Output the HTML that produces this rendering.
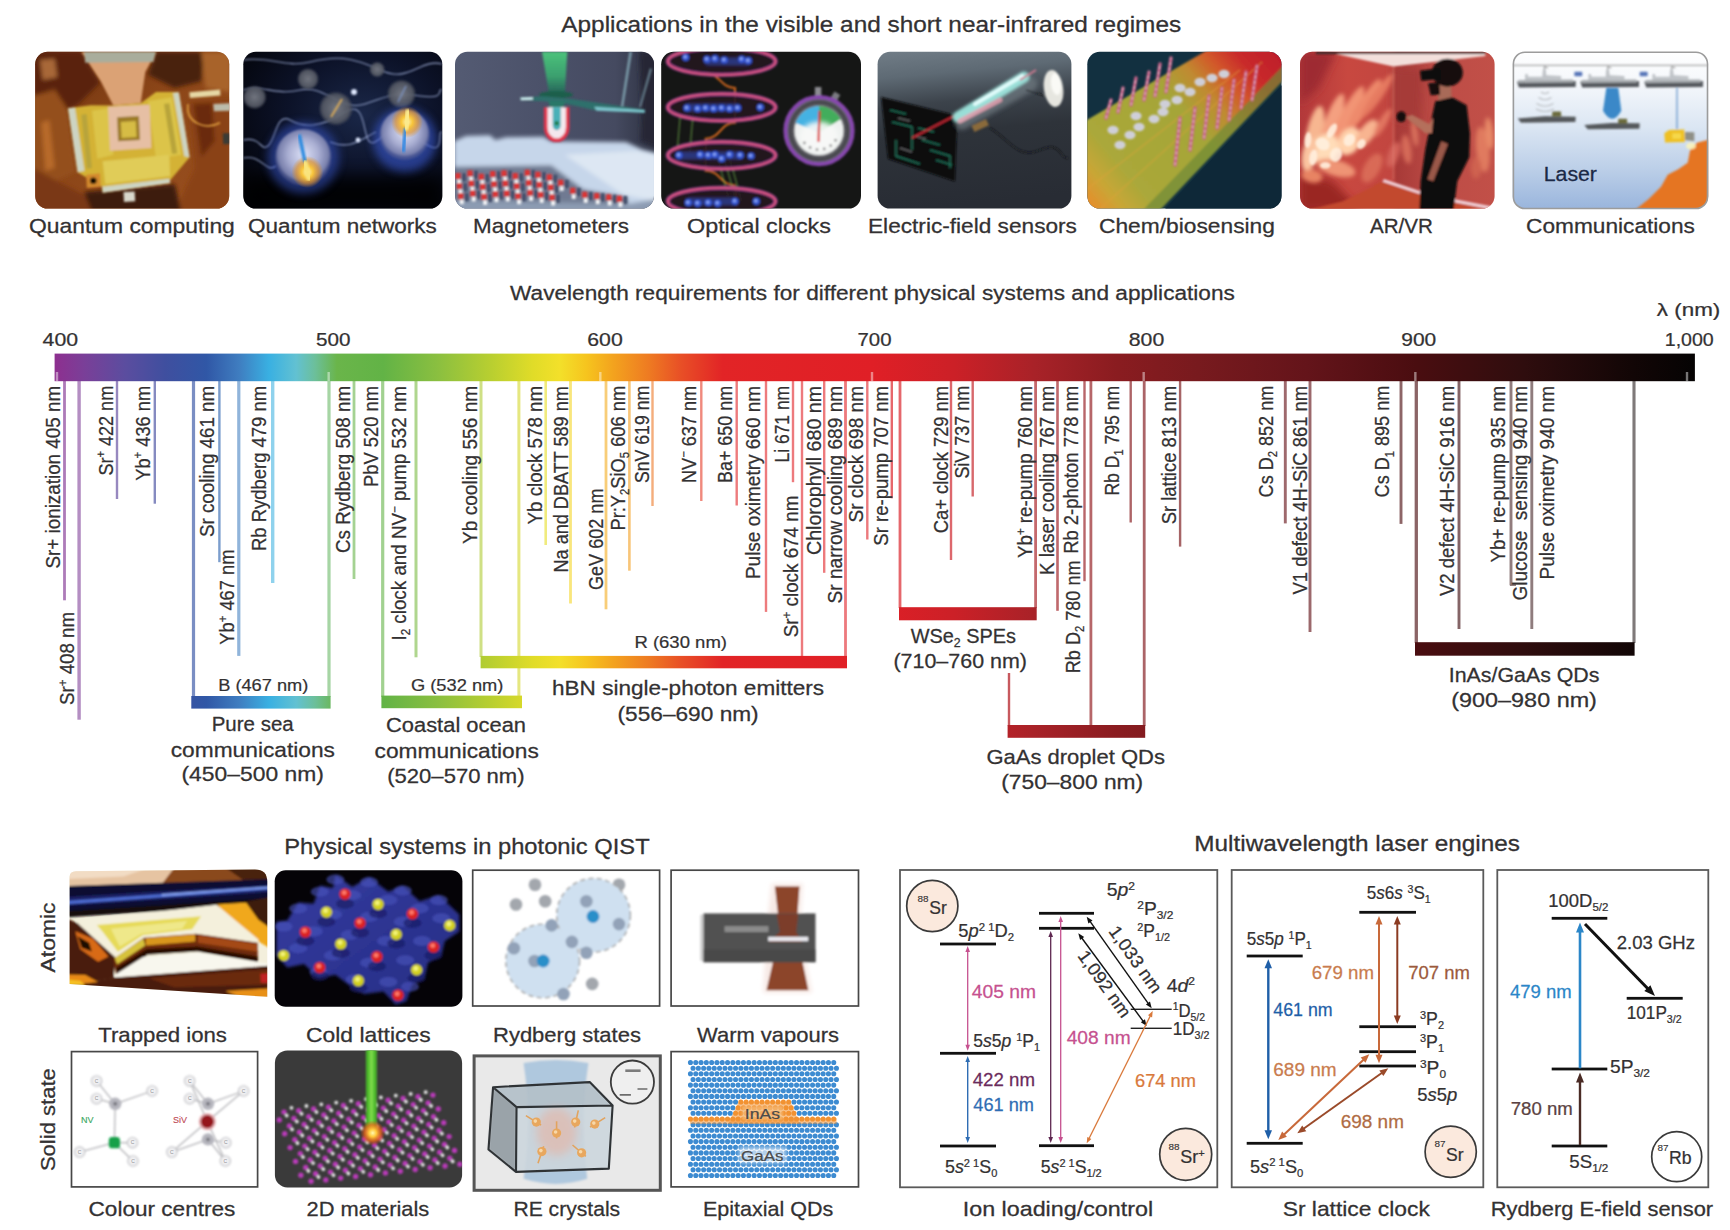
<!DOCTYPE html>
<html lang="en"><head><meta charset="utf-8"><title>Photonic QIST wavelength requirements</title>
<style>
html,body{margin:0;padding:0;background:#fff;}
body{width:1730px;height:1230px;overflow:hidden;}
svg{display:block;}
svg text{font-family:"Liberation Sans", Arial, sans-serif;}
</style></head><body>
<svg width="1730" height="1230" viewBox="0 0 1730 1230">
<defs>
<clipPath id="ic0"><rect x="35.2" y="51.8" width="194.0" height="156.8" rx="12.5"/></clipPath>
<clipPath id="ic1"><rect x="243.3" y="51.8" width="199.0" height="156.8" rx="12.5"/></clipPath>
<clipPath id="ic2"><rect x="455" y="51.8" width="199.0" height="156.8" rx="12.5"/></clipPath>
<clipPath id="ic3"><rect x="661.2" y="51.8" width="199.8" height="156.8" rx="12.5"/></clipPath>
<clipPath id="ic4"><rect x="877.6" y="51.8" width="193.8" height="156.8" rx="12.5"/></clipPath>
<clipPath id="ic5"><rect x="1087.3" y="51.8" width="194.2" height="156.8" rx="12.5"/></clipPath>
<clipPath id="ic6"><rect x="1300" y="51.8" width="194.6" height="156.8" rx="12.5"/></clipPath>
<clipPath id="ic7"><rect x="1512.7" y="51.8" width="195.5" height="156.8" rx="12.5"/></clipPath>
<filter id="b1" x="-20%" y="-20%" width="140%" height="140%"><feGaussianBlur stdDeviation="1"/></filter>
<filter id="b2" x="-30%" y="-30%" width="160%" height="160%"><feGaussianBlur stdDeviation="2.2"/></filter>
<filter id="b4" x="-50%" y="-50%" width="200%" height="200%"><feGaussianBlur stdDeviation="4.5"/></filter>
<filter id="b8" x="-50%" y="-50%" width="200%" height="200%"><feGaussianBlur stdDeviation="8"/></filter>
<linearGradient id="g0" x1="0" y1="0" x2="1" y2="1"><stop offset="0" stop-color="#6a300e"/><stop offset="0.45" stop-color="#8c4618"/><stop offset="1" stop-color="#9a5020"/></linearGradient>
<radialGradient id="g1" cx="0.6" cy="0.4" r="0.75"><stop offset="0" stop-color="#1a2748"/><stop offset="0.5" stop-color="#0c1228"/><stop offset="1" stop-color="#030409"/></radialGradient>
<radialGradient id="sph" cx="0.5" cy="0.45" r="0.5"><stop offset="0" stop-color="#dde1f6"/><stop offset="0.55" stop-color="#a9aed2"/><stop offset="0.9" stop-color="#8086b0" stop-opacity="0.92"/><stop offset="1" stop-color="#646a98" stop-opacity="0.5"/></radialGradient>
<radialGradient id="glw" cx="0.5" cy="0.5" r="0.5"><stop offset="0" stop-color="#fff6b8"/><stop offset="0.35" stop-color="#f8c63c"/><stop offset="0.7" stop-color="#e8921a" stop-opacity="0.6"/><stop offset="1" stop-color="#e08a10" stop-opacity="0"/></radialGradient>
<radialGradient id="gsm" cx="0.5" cy="0.5" r="0.5"><stop offset="0" stop-color="#71757f"/><stop offset="0.8" stop-color="#575b66" stop-opacity="0.9"/><stop offset="1" stop-color="#454956" stop-opacity="0.5"/></radialGradient>
<linearGradient id="g2" x1="0" y1="0" x2="1" y2="0"><stop offset="0" stop-color="#545b73"/><stop offset="0.5" stop-color="#4a5068"/><stop offset="0.8" stop-color="#454a60"/><stop offset="1" stop-color="#2c3040"/></linearGradient>
<linearGradient id="g2b" x1="0" y1="0" x2="0" y2="1"><stop offset="0" stop-color="#4cc47c"/><stop offset="0.6" stop-color="#3aa870" stop-opacity="0.9"/><stop offset="1" stop-color="#1f6a58" stop-opacity="0.85"/></linearGradient>
<linearGradient id="g4" x1="0" y1="0" x2="0.12" y2="1"><stop offset="0" stop-color="#727e88"/><stop offset="0.18" stop-color="#5e6a74"/><stop offset="0.36" stop-color="#3c434b"/><stop offset="0.55" stop-color="#2e333a"/><stop offset="1" stop-color="#282c34"/></linearGradient>
<linearGradient id="g5" gradientUnits="userSpaceOnUse" x1="1095" y1="208" x2="1275" y2="55"><stop offset="0" stop-color="#e3902c"/><stop offset="0.09" stop-color="#c9a636"/><stop offset="0.2" stop-color="#aaa83a"/><stop offset="0.55" stop-color="#a5a538"/><stop offset="0.68" stop-color="#c08a30"/><stop offset="0.78" stop-color="#d2592a"/><stop offset="0.88" stop-color="#c92a2c"/><stop offset="1" stop-color="#bf1f2a"/></linearGradient>
<linearGradient id="g6" x1="0" y1="0" x2="1" y2="0"><stop offset="0" stop-color="#b2383a"/><stop offset="0.25" stop-color="#c84840"/><stop offset="0.47" stop-color="#c24640"/><stop offset="0.5" stop-color="#a83a38"/><stop offset="0.7" stop-color="#bd4c46"/><stop offset="1" stop-color="#c25048"/></linearGradient>
<linearGradient id="g7" x1="0" y1="0" x2="0" y2="1"><stop offset="0" stop-color="#ffffff"/><stop offset="0.22" stop-color="#f4f7fb"/><stop offset="0.48" stop-color="#dbe6f3"/><stop offset="0.74" stop-color="#bccfe8"/><stop offset="1" stop-color="#98b4dc"/></linearGradient>
<linearGradient id="spec" gradientUnits="userSpaceOnUse" x1="0" y1="0" x2="1730" y2="0"><stop offset="0.03138" stop-color="#8e2f8f"/><stop offset="0.04865" stop-color="#7a3f98"/><stop offset="0.07221" stop-color="#5b4d9f"/><stop offset="0.09576" stop-color="#3f4f9f"/><stop offset="0.11932" stop-color="#3057a6"/><stop offset="0.13816" stop-color="#3f7dc0"/><stop offset="0.15544" stop-color="#39b0e2"/><stop offset="0.17114" stop-color="#62c1d2"/><stop offset="0.18213" stop-color="#6cbf9a"/><stop offset="0.19469" stop-color="#6ab54a"/><stop offset="0.22139" stop-color="#62b346"/><stop offset="0.25280" stop-color="#8abf40"/><stop offset="0.28420" stop-color="#b9cf30"/><stop offset="0.30776" stop-color="#e0dc28"/><stop offset="0.32346" stop-color="#f3e02a"/><stop offset="0.33917" stop-color="#f6c41e"/><stop offset="0.35487" stop-color="#f3a21e"/><stop offset="0.37528" stop-color="#ee7a22"/><stop offset="0.39413" stop-color="#e84e26"/><stop offset="0.41768" stop-color="#e22426"/><stop offset="0.50405" stop-color="#e01f26"/><stop offset="0.55116" stop-color="#cc2027"/><stop offset="0.59827" stop-color="#a82228"/><stop offset="0.64538" stop-color="#8a1c20"/><stop offset="0.69249" stop-color="#781a1e"/><stop offset="0.75531" stop-color="#64141a"/><stop offset="0.81812" stop-color="#4a0d10"/><stop offset="0.88094" stop-color="#2f0d0e"/><stop offset="0.94375" stop-color="#120606"/><stop offset="0.97987" stop-color="#050303"/></linearGradient>
<clipPath id="bc0"><path d="M69.6,877 Q69.6,871.5 76,871.3 L255,869.6 Q267.3,869.6 267.3,882 L267.3,996.8 L69.6,984 Z"/></clipPath>
<clipPath id="bc1"><rect x="274.7" y="870.2" width="187.7" height="136.6" rx="11"/></clipPath>
<linearGradient id="lat" x1="0" y1="0" x2="1" y2="1"><stop offset="0" stop-color="#343ca0"/><stop offset="1" stop-color="#262c84"/></linearGradient>
<clipPath id="bc5"><rect x="274.9" y="1050.4" width="187.2" height="137" rx="12.5"/></clipPath>
<radialGradient id="hot" cx="0.5" cy="0.5" r="0.5"><stop offset="0" stop-color="#fff8b0"/><stop offset="0.3" stop-color="#ffc83a"/><stop offset="0.65" stop-color="#f06a1a" stop-opacity="0.75"/><stop offset="1" stop-color="#e04010" stop-opacity="0"/></radialGradient>
</defs>
<rect width="1730" height="1230" fill="#fff"/>
<text transform="translate(871.30,31.90) scale(1.0824,1)" x="-286.40" y="0" font-size="22.5" fill="#333132" stroke="#333132" stroke-width="0.29" xml:space="preserve">Applications in the visible and short near-infrared regimes</text>
<g clip-path="url(#ic0)"><rect x="33.2" y="49.8" width="198.0" height="160.8" fill="url(#g0)"/><g filter="url(#b2)"><polygon points="33.3,52.0 81.3,52.0 100.0,82.7 78.7,104.0 68.0,109.3 54.7,88.0 33.3,96.0" fill="#5a240a" /><polygon points="40.0,60.0 54.7,58.7 57.3,77.3 42.7,80.0" fill="#a86838" /><polygon points="33.3,96.0 54.7,90.7 68.0,110.7 76.0,172.0 54.7,181.3 33.3,168.0" fill="#94501c" /><polygon points="41.3,122.7 49.3,120.0 54.7,168.0 45.3,170.7" fill="#b86a2a" /><polygon points="156.0,52.0 204.0,52.0 201.3,81.3 174.7,88.0 148.0,74.7" fill="#4a2008" /><polygon points="201.3,52.0 230.7,52.0 230.7,92.0 205.3,88.0" fill="#a8642a" /><polygon points="188.0,101.3 230.7,98.7 230.7,212.0 174.7,212.0 194.7,168.0" fill="#8a4216" /><polygon points="193.3,104.0 212.0,102.7 214.7,141.3 201.3,157.3" fill="#6a2c0c" /><polygon points="33.3,168.0 57.3,181.3 84.0,194.7 102.7,212.0 33.3,212.0" fill="#7a3812" /><polygon points="84.0,192.0 174.7,184.0 181.3,212.0 92.0,212.0" fill="#3e1a08" /></g><g filter="url(#b1)"><polygon points="81.3,51.7 156.3,51.7 145.3,72.0 140.7,103.3 113.3,105.6 100.7,81.3" fill="#dba274" /><polygon points="84.0,51.7 156.0,51.7 153.3,62.0 85.3,62.7" fill="#a9ad9c" /><polygon points="68.0,108.3 90.7,105.3 113.3,105.6 140.7,103.3 156.0,92.0 178.7,92.0 189.6,157.3 169.3,181.3 170.4,182.9 102.7,192.7 102.0,186.7 77.6,172.3" fill="#d4b236" /><polygon points="92.0,110.7 110.7,108.0 113.3,154.7 97.3,158.7" fill="#dcc448" /><polygon points="148.0,101.3 172.0,97.3 181.3,154.7 156.0,158.7" fill="#dcc448" /><polygon points="102.7,161.3 169.3,154.7 170.1,176.0 105.3,184.0" fill="#e0cc58" /><polygon points="68.0,108.3 74.9,107.5 84.5,170.7 77.6,172.3" fill="#cdd4c2" /><polygon points="173.1,93.1 178.9,92.3 189.6,157.3 184.3,156.3" fill="#cdd4c2" /><polygon points="102.1,186.7 169.3,178.7 170.4,182.9 102.7,192.8" fill="#cdd4c2" /><polygon points="81.3,114.7 86.7,114.0 92.0,168.0 86.7,168.7" fill="#b8a43a" /><polygon points="164.0,104.0 169.3,103.3 177.3,153.3 172.0,154.1" fill="#b8a43a" /><polygon points="108.0,106.7 149.6,104.7 151.3,148.0 110.0,150.7" fill="#e6bfa4" /><polygon points="117.1,117.3 138.9,116.0 140.0,140.0 118.1,141.3" fill="#9c7c28" /><polygon points="120.8,122.1 135.7,121.1 136.5,137.1 121.6,138.1" fill="#d6bc44" /><polygon points="86.1,174.7 100.0,173.3 100.8,186.7 86.9,188.0" fill="#d48a2e" /><circle cx="93.3" cy="180.8" r="3.3" fill="#120804"/><polygon points="189.3,92.3 220.0,89.6 220.5,95.5 189.9,98.1" fill="#e6d8a4" /><polygon points="213.3,104.0 230.7,103.3 230.7,110.7 213.9,111.2" fill="#bcbcaa" /><polygon points="222.7,133.3 230.7,133.3 230.7,144.0 223.2,144.3" fill="#3a3a34" /><path d="M188.0,104.0 C185.3,122.7 205.3,130.7 220.0,122.7" stroke="#e0a040" stroke-width="1.6" fill="none"/><polygon points="123.5,192.0 134.7,191.5 135.2,201.3 124.0,201.9" fill="#d8d8cc" /></g></g>
<g clip-path="url(#ic1)"><rect x="241.3" y="49.8" width="203.0" height="160.8" fill="url(#g1)"/><rect x="243" y="176" width="200" height="36" fill="#010104" opacity="0.85" filter="url(#b8)"/><g fill="none" stroke="#a9b8e2" stroke-width="1.1" opacity="0.85" filter="url(#b1)"><path d="M243,60 C270,56 285,68 310,62 S350,56 380,70 S420,58 442,64"/><path d="M243,90 C262,84 275,96 300,90 S340,112 365,104 S392,92 420,96 S436,88 442,90"/><path d="M243,140 C262,136 260,152 268,146 S276,112 290,120 S320,128 345,112 S360,150 375,142 S392,118 420,140 S436,130 442,132"/><path d="M243,158 C262,154 266,174 276,166"/><path d="M330,142 C350,150 360,140 376,132"/></g><circle cx="354" cy="92" r="3" fill="#dfe8ff" filter="url(#b1)"/><circle cx="358" cy="140" r="2.4" fill="#dfe8ff" filter="url(#b1)"/><circle cx="335.9" cy="108.5" r="16.5" fill="url(#gsm)" filter="url(#b1)"/><circle cx="401.5" cy="94" r="14" fill="url(#gsm)" filter="url(#b1)"/><circle cx="308" cy="79" r="10.5" fill="url(#gsm)" filter="url(#b1)"/><circle cx="254.6" cy="97.2" r="11.5" fill="url(#gsm)" filter="url(#b1)"/><circle cx="377.2" cy="69.5" r="7.5" fill="url(#gsm)" filter="url(#b1)"/><line x1="331" y1="117" x2="342" y2="99" stroke="#d9aa5a" stroke-width="2" filter="url(#b1)"/><line x1="398" y1="102" x2="406" y2="86" stroke="#7a90c0" stroke-width="1.6" filter="url(#b1)"/><circle cx="303.3" cy="158" r="36" fill="#3a5ad0" opacity="0.5" filter="url(#b4)"/><circle cx="303.3" cy="157.3" r="28" fill="url(#sph)" filter="url(#b1)"/><circle cx="307.3" cy="172" r="16" fill="url(#glw)"/><path d="M299.3,134.7 L305,162" stroke="#2a8ae0" stroke-width="3.4" filter="url(#b1)"/><path d="M305,163 L309,178" stroke="#f9e47c" stroke-width="5.5" stroke-linecap="round" filter="url(#b1)"/><circle cx="404.7" cy="140" r="32" fill="#3a5ad0" opacity="0.6" filter="url(#b4)"/><circle cx="404.7" cy="134.7" r="25" fill="url(#sph)" filter="url(#b1)"/><circle cx="407" cy="122" r="16" fill="url(#glw)"/><path d="M405.5,128 L403.3,152" stroke="#2a86e4" stroke-width="3.2" filter="url(#b1)"/><path d="M408,112 L406,128" stroke="#fbea8c" stroke-width="5.5" stroke-linecap="round" filter="url(#b1)"/></g>
<g clip-path="url(#ic2)"><rect x="453" y="49.8" width="203.0" height="160.8" fill="url(#g2)"/><g filter="url(#b2)"><polygon points="639.3,52.0 658.0,52.0 658.0,146.7 640.7,141.3 642.0,106.7" fill="#252836" /><polygon points="454.0,141.3 466.0,136.0 490.0,135.3 495.3,140.0 506.0,137.3 543.3,136.7 551.3,141.3 626.0,142.0 642.0,149.3 658.0,153.3 658.0,213.3 454.0,213.3" fill="#c6d6ea" /><polygon points="564.7,154.7 636.7,150.7 658.0,154.7 658.0,201.3 623.3,194.7" fill="#dde7f3" /><polygon points="454.0,166.7 551.3,165.3 583.3,189.3 627.3,197.3 627.3,213.3 454.0,213.3" fill="#6f7a92" /><polygon points="454.0,200.0 627.3,204.0 658.0,198.7 658.0,213.3 454.0,213.3" fill="#8c9bb2" /></g><g filter="url(#b1)"><rect x="455.4" y="173.0" width="5.2" height="6.4" fill="#dd3434"/><rect x="457.1" y="179.6" width="4" height="4.6" fill="#f4f4f6"/><rect x="462.0" y="173.3" width="4" height="8" fill="#44506a"/><rect x="456.7" y="183.0" width="5.2" height="6.4" fill="#dd3434"/><rect x="458.4" y="189.6" width="4" height="4.6" fill="#f4f4f6"/><rect x="463.3" y="183.3" width="4" height="8" fill="#44506a"/><rect x="458.1" y="193.0" width="5.2" height="6.4" fill="#dd3434"/><rect x="459.7" y="199.6" width="4" height="4.6" fill="#f4f4f6"/><rect x="464.7" y="193.3" width="4" height="8" fill="#44506a"/><rect x="467.4" y="170.3" width="5.2" height="6.4" fill="#dd3434"/><rect x="469.1" y="176.9" width="4" height="4.6" fill="#f4f4f6"/><rect x="474.0" y="170.7" width="4" height="8" fill="#44506a"/><rect x="468.7" y="180.3" width="5.2" height="6.4" fill="#dd3434"/><rect x="470.4" y="186.9" width="4" height="4.6" fill="#f4f4f6"/><rect x="475.3" y="180.7" width="4" height="8" fill="#44506a"/><rect x="470.1" y="190.3" width="5.2" height="6.4" fill="#dd3434"/><rect x="471.7" y="196.9" width="4" height="4.6" fill="#f4f4f6"/><rect x="476.7" y="190.7" width="4" height="8" fill="#44506a"/><rect x="478.7" y="173.7" width="5.2" height="6.4" fill="#dd3434"/><rect x="480.4" y="180.3" width="4" height="4.6" fill="#f4f4f6"/><rect x="485.3" y="174.0" width="4" height="8" fill="#44506a"/><rect x="480.1" y="183.7" width="5.2" height="6.4" fill="#dd3434"/><rect x="481.7" y="190.3" width="4" height="4.6" fill="#f4f4f6"/><rect x="486.7" y="184.0" width="4" height="8" fill="#44506a"/><rect x="481.4" y="193.7" width="5.2" height="6.4" fill="#dd3434"/><rect x="483.1" y="200.3" width="4" height="4.6" fill="#f4f4f6"/><rect x="488.0" y="194.0" width="4" height="8" fill="#44506a"/><rect x="490.1" y="171.0" width="5.2" height="6.4" fill="#dd3434"/><rect x="491.7" y="177.6" width="4" height="4.6" fill="#f4f4f6"/><rect x="496.7" y="171.3" width="4" height="8" fill="#44506a"/><rect x="491.4" y="181.0" width="5.2" height="6.4" fill="#dd3434"/><rect x="493.1" y="187.6" width="4" height="4.6" fill="#f4f4f6"/><rect x="498.0" y="181.3" width="4" height="8" fill="#44506a"/><rect x="492.7" y="191.0" width="5.2" height="6.4" fill="#dd3434"/><rect x="494.4" y="197.6" width="4" height="4.6" fill="#f4f4f6"/><rect x="499.3" y="191.3" width="4" height="8" fill="#44506a"/><rect x="501.4" y="170.3" width="5.2" height="6.4" fill="#dd3434"/><rect x="503.1" y="176.9" width="4" height="4.6" fill="#f4f4f6"/><rect x="508.0" y="170.7" width="4" height="8" fill="#44506a"/><rect x="502.7" y="180.3" width="5.2" height="6.4" fill="#dd3434"/><rect x="504.4" y="186.9" width="4" height="4.6" fill="#f4f4f6"/><rect x="509.3" y="180.7" width="4" height="8" fill="#44506a"/><rect x="504.1" y="190.3" width="5.2" height="6.4" fill="#dd3434"/><rect x="505.7" y="196.9" width="4" height="4.6" fill="#f4f4f6"/><rect x="510.7" y="190.7" width="4" height="8" fill="#44506a"/><rect x="512.7" y="173.0" width="5.2" height="6.4" fill="#dd3434"/><rect x="514.4" y="179.6" width="4" height="4.6" fill="#f4f4f6"/><rect x="519.3" y="173.3" width="4" height="8" fill="#44506a"/><rect x="514.1" y="183.0" width="5.2" height="6.4" fill="#dd3434"/><rect x="515.7" y="189.6" width="4" height="4.6" fill="#f4f4f6"/><rect x="520.7" y="183.3" width="4" height="8" fill="#44506a"/><rect x="515.4" y="193.0" width="5.2" height="6.4" fill="#dd3434"/><rect x="517.1" y="199.6" width="4" height="4.6" fill="#f4f4f6"/><rect x="522.0" y="193.3" width="4" height="8" fill="#44506a"/><rect x="524.7" y="169.7" width="5.2" height="6.4" fill="#dd3434"/><rect x="526.4" y="176.3" width="4" height="4.6" fill="#f4f4f6"/><rect x="531.3" y="170.0" width="4" height="8" fill="#44506a"/><rect x="526.1" y="179.7" width="5.2" height="6.4" fill="#dd3434"/><rect x="527.7" y="186.3" width="4" height="4.6" fill="#f4f4f6"/><rect x="532.7" y="180.0" width="4" height="8" fill="#44506a"/><rect x="527.4" y="189.7" width="5.2" height="6.4" fill="#dd3434"/><rect x="529.1" y="196.3" width="4" height="4.6" fill="#f4f4f6"/><rect x="534.0" y="190.0" width="4" height="8" fill="#44506a"/><rect x="535.4" y="171.7" width="5.2" height="6.4" fill="#dd3434"/><rect x="537.1" y="178.3" width="4" height="4.6" fill="#f4f4f6"/><rect x="542.0" y="172.0" width="4" height="8" fill="#44506a"/><rect x="536.7" y="181.7" width="5.2" height="6.4" fill="#dd3434"/><rect x="538.4" y="188.3" width="4" height="4.6" fill="#f4f4f6"/><rect x="543.3" y="182.0" width="4" height="8" fill="#44506a"/><rect x="538.1" y="191.7" width="5.2" height="6.4" fill="#dd3434"/><rect x="539.7" y="198.3" width="4" height="4.6" fill="#f4f4f6"/><rect x="544.7" y="192.0" width="4" height="8" fill="#44506a"/><rect x="546.7" y="174.3" width="5.2" height="6.4" fill="#dd3434"/><rect x="548.4" y="180.9" width="4" height="4.6" fill="#f4f4f6"/><rect x="553.3" y="174.7" width="4" height="8" fill="#44506a"/><rect x="548.1" y="184.3" width="5.2" height="6.4" fill="#dd3434"/><rect x="549.7" y="190.9" width="4" height="4.6" fill="#f4f4f6"/><rect x="554.7" y="184.7" width="4" height="8" fill="#44506a"/><rect x="549.4" y="194.3" width="5.2" height="6.4" fill="#dd3434"/><rect x="551.1" y="200.9" width="4" height="4.6" fill="#f4f4f6"/><rect x="556.0" y="194.7" width="4" height="8" fill="#44506a"/><rect x="558.1" y="179.7" width="5.2" height="6.4" fill="#dd3434"/><rect x="559.7" y="186.3" width="4" height="4.6" fill="#f4f4f6"/><rect x="564.7" y="180.0" width="4" height="8" fill="#44506a"/><rect x="570.1" y="187.7" width="5.2" height="6.4" fill="#dd3434"/><rect x="571.7" y="194.3" width="4" height="4.6" fill="#f4f4f6"/><rect x="576.7" y="188.0" width="4" height="8" fill="#44506a"/><rect x="582.1" y="191.7" width="5.2" height="6.4" fill="#dd3434"/><rect x="583.7" y="198.3" width="4" height="4.6" fill="#f4f4f6"/><rect x="588.7" y="192.0" width="4" height="8" fill="#44506a"/><rect x="594.1" y="193.0" width="5.2" height="6.4" fill="#dd3434"/><rect x="595.7" y="199.6" width="4" height="4.6" fill="#f4f4f6"/><rect x="600.7" y="193.3" width="4" height="8" fill="#44506a"/><rect x="606.1" y="194.3" width="5.2" height="6.4" fill="#dd3434"/><rect x="607.7" y="200.9" width="4" height="4.6" fill="#f4f4f6"/><rect x="612.7" y="194.7" width="4" height="8" fill="#44506a"/><rect x="616.7" y="195.7" width="5.2" height="6.4" fill="#dd3434"/><rect x="618.4" y="202.3" width="4" height="4.6" fill="#f4f4f6"/><rect x="623.3" y="196.0" width="4" height="8" fill="#44506a"/><polygon points="542.0,51.7 567.3,51.7 564.9,92.7 548.9,92.7" fill="url(#g2b)" /><polygon points="629.3,51.7 632.0,51.7 623.3,106.7 620.9,106.7" fill="#8fb8c4" opacity="0.75"/><polygon points="650.0,68.0 652.0,69.3 640.9,107.3 639.1,106.7" fill="#8fb8c4" opacity="0.6"/><ellipse cx="556.0" cy="94.7" rx="17" ry="3.6" fill="#1f5e4c"/><polygon points="520.4,97.6 543.3,96.3 570.0,98.7 644.7,109.6 644.9,112.8 596.7,110.7 567.3,104.0 543.3,101.3 520.7,100.3" fill="#2f706c" /><polygon points="520.4,97.6 532.7,97.1 532.9,99.7 520.7,100.3" fill="#cfeef0" /><polygon points="594.0,106.7 644.7,109.9 644.9,112.8 596.7,110.7" fill="#7cc4cc" /><polygon points="548.7,101.3 564.7,101.3 563.3,110.7 550.0,110.7" fill="#2a7868" /><path d="M545.7,107.3 L545.7,127.3 A11,13 0 0 0 567.7,127.3 L567.7,107.3" fill="#f4e8ee" stroke="#e2344e" stroke-width="3.6"/><path d="M552.7,107.3 L552.7,125.3 A4,5 0 0 0 560.7,125.3 L560.7,107.3 Z" fill="#4ab0b8"/><circle cx="556.7" cy="123.3" r="2.2" fill="#1f7a40"/></g></g>
<g clip-path="url(#ic3)"><rect x="659.2" y="49.8" width="203.8" height="160.8" fill="#151615"/><g filter="url(#b1)"><path d="M705.7,73.3 C720.3,73.3 720.3,88.0 735.0,88.0 C735.0,105.3 735.0,122.7 735.0,122.7 C720.3,122.7 720.3,138.7 705.7,138.7 C705.7,154.7 705.7,170.7 705.7,170.7 C720.3,170.7 720.3,185.3 735.0,185.3 C736.3,185.3 736.3,208.0 737.7,208.0" fill="none" stroke="#d0661f" stroke-width="2"/><g stroke="#7cc050" stroke-width="0.9" fill="none" opacity="0.85"><path d="M680.3,114.7 L677.0,153.3"/><path d="M693.0,114.7 L689.7,153.3"/><path d="M717.7,158.7 L729.7,201.3"/><path d="M724.3,158.7 L736.3,201.3"/><path d="M729.7,158.7 L741.7,201.3"/></g><ellipse cx="721.7" cy="61.3" rx="54" ry="13.6" fill="#251821" stroke="#7a3a8a" stroke-width="4.4" opacity="0.9"/><ellipse cx="721.7" cy="61.3" rx="54" ry="13.6" fill="none" stroke="#d4527e" stroke-width="2.5"/><rect x="704.3" y="57.6" width="46.7" height="8" rx="4" fill="#3048b8" opacity="0.6" filter="url(#b1)"/><circle cx="685.7" cy="57.3" r="3.6" fill="#3556d4"/><circle cx="685.2" cy="56.8" r="1.5" fill="#93acf4"/><circle cx="707.0" cy="59.3" r="3.6" fill="#3556d4"/><circle cx="706.5" cy="58.8" r="1.5" fill="#93acf4"/><circle cx="715.0" cy="58.7" r="3.6" fill="#3556d4"/><circle cx="714.5" cy="58.2" r="1.5" fill="#93acf4"/><circle cx="724.3" cy="60.0" r="3.6" fill="#3556d4"/><circle cx="723.8" cy="59.5" r="1.5" fill="#93acf4"/><circle cx="741.7" cy="59.3" r="3.6" fill="#3556d4"/><circle cx="741.2" cy="58.8" r="1.5" fill="#93acf4"/><circle cx="748.3" cy="60.7" r="3.6" fill="#3556d4"/><circle cx="747.8" cy="60.2" r="1.5" fill="#93acf4"/><ellipse cx="721.7" cy="107.3" rx="54" ry="13.6" fill="#251821" stroke="#7a3a8a" stroke-width="4.4" opacity="0.9"/><ellipse cx="721.7" cy="107.3" rx="54" ry="13.6" fill="none" stroke="#d4527e" stroke-width="2.5"/><rect x="684.3" y="103.6" width="56.0" height="8" rx="4" fill="#3048b8" opacity="0.6" filter="url(#b1)"/><circle cx="687.0" cy="108.0" r="3.6" fill="#3556d4"/><circle cx="686.5" cy="107.5" r="1.5" fill="#93acf4"/><circle cx="697.7" cy="108.7" r="3.6" fill="#3556d4"/><circle cx="697.2" cy="108.2" r="1.5" fill="#93acf4"/><circle cx="705.7" cy="108.0" r="3.6" fill="#3556d4"/><circle cx="705.2" cy="107.5" r="1.5" fill="#93acf4"/><circle cx="713.7" cy="108.7" r="3.6" fill="#3556d4"/><circle cx="713.2" cy="108.2" r="1.5" fill="#93acf4"/><circle cx="721.7" cy="108.0" r="3.6" fill="#3556d4"/><circle cx="721.2" cy="107.5" r="1.5" fill="#93acf4"/><circle cx="729.7" cy="108.7" r="3.6" fill="#3556d4"/><circle cx="729.2" cy="108.2" r="1.5" fill="#93acf4"/><circle cx="737.7" cy="108.0" r="3.6" fill="#3556d4"/><circle cx="737.2" cy="107.5" r="1.5" fill="#93acf4"/><circle cx="760.3" cy="107.3" r="3.6" fill="#3556d4"/><circle cx="759.8" cy="106.8" r="1.5" fill="#93acf4"/><ellipse cx="721.7" cy="155.3" rx="54" ry="13.6" fill="#251821" stroke="#7a3a8a" stroke-width="4.4" opacity="0.9"/><ellipse cx="721.7" cy="155.3" rx="54" ry="13.6" fill="none" stroke="#d4527e" stroke-width="2.5"/><rect x="676.3" y="151.6" width="66.7" height="8" rx="4" fill="#3048b8" opacity="0.6" filter="url(#b1)"/><circle cx="679.0" cy="155.3" r="3.6" fill="#3556d4"/><circle cx="678.5" cy="154.8" r="1.5" fill="#93acf4"/><circle cx="700.3" cy="154.7" r="3.6" fill="#3556d4"/><circle cx="699.8" cy="154.2" r="1.5" fill="#93acf4"/><circle cx="708.3" cy="155.3" r="3.6" fill="#3556d4"/><circle cx="707.8" cy="154.8" r="1.5" fill="#93acf4"/><circle cx="715.0" cy="154.7" r="3.6" fill="#3556d4"/><circle cx="714.5" cy="154.2" r="1.5" fill="#93acf4"/><circle cx="721.7" cy="158.7" r="3.6" fill="#3556d4"/><circle cx="721.2" cy="158.2" r="1.5" fill="#93acf4"/><circle cx="729.7" cy="154.7" r="3.6" fill="#3556d4"/><circle cx="729.2" cy="154.2" r="1.5" fill="#93acf4"/><circle cx="740.3" cy="155.3" r="3.6" fill="#3556d4"/><circle cx="739.8" cy="154.8" r="1.5" fill="#93acf4"/><circle cx="751.0" cy="156.0" r="3.6" fill="#3556d4"/><circle cx="750.5" cy="155.5" r="1.5" fill="#93acf4"/><ellipse cx="721.7" cy="201.3" rx="54" ry="13.6" fill="#251821" stroke="#7a3a8a" stroke-width="4.4" opacity="0.9"/><ellipse cx="721.7" cy="201.3" rx="54" ry="13.6" fill="none" stroke="#d4527e" stroke-width="2.5"/><rect x="685.7" y="197.6" width="52.0" height="8" rx="4" fill="#3048b8" opacity="0.6" filter="url(#b1)"/><circle cx="688.3" cy="202.7" r="3.6" fill="#3556d4"/><circle cx="687.8" cy="202.2" r="1.5" fill="#93acf4"/><circle cx="697.7" cy="203.3" r="3.6" fill="#3556d4"/><circle cx="697.2" cy="202.8" r="1.5" fill="#93acf4"/><circle cx="708.3" cy="202.7" r="3.6" fill="#3556d4"/><circle cx="707.8" cy="202.2" r="1.5" fill="#93acf4"/><circle cx="717.7" cy="203.3" r="3.6" fill="#3556d4"/><circle cx="717.2" cy="202.8" r="1.5" fill="#93acf4"/><circle cx="735.0" cy="201.3" r="3.6" fill="#3556d4"/><circle cx="734.5" cy="200.8" r="1.5" fill="#93acf4"/><circle cx="756.3" cy="201.3" r="3.6" fill="#3556d4"/><circle cx="755.8" cy="200.8" r="1.5" fill="#93acf4"/><rect x="814.9" y="87.0" width="6.4" height="10" fill="#8c8c92"/><rect x="831.9" y="92.7" width="6.8" height="8" fill="#7c7c82" transform="rotate(32 835.3 96.7)"/><circle cx="819.0" cy="130.7" r="33.6" fill="#66666c" stroke="#8746ae" stroke-width="4"/><circle cx="819.0" cy="130.7" r="28.5" fill="none" stroke="#4a4a50" stroke-width="4"/><circle cx="819.0" cy="130.7" r="24.4" fill="#eef1f0"/><path d="M819.0,132.7 L795.8,123.1 A24.4,24.4 0 0 1 819.0,106.3 Z" fill="#45b2e2"/><path d="M819.0,132.7 L819.0,106.3 A24.4,24.4 0 0 1 840.5,119.2 Z" fill="#42ad5c"/><ellipse cx="819.0" cy="136.7" rx="19" ry="15" fill="#f8f9f8" opacity="0.92" filter="url(#b2)"/><path d="M819.5,110.7 L818.5,141.7" stroke="#da2a2e" stroke-width="2.2"/><circle cx="835.5" cy="140.2" r="1.3" fill="#8a8a8a"/><circle cx="830.7" cy="145.6" r="1.3" fill="#8a8a8a"/><circle cx="824.2" cy="148.9" r="1.3" fill="#8a8a8a"/><circle cx="817.0" cy="149.6" r="1.3" fill="#8a8a8a"/><circle cx="810.1" cy="147.4" r="1.3" fill="#8a8a8a"/><circle cx="804.4" cy="142.9" r="1.3" fill="#8a8a8a"/></g></g>
<g clip-path="url(#ic4)"><rect x="875.6" y="49.8" width="197.8" height="160.8" fill="url(#g4)"/><g filter="url(#b1)"><polygon points="881.0,97.0 957.5,115.5 955.0,181.5 888.0,159.0" fill="#0b0d0f" /><path d="M890,110 L906,114 M892,122 L912,127 L912,150 M918,128 L934,132 M922,140 L940,145 M930,150 L950,156 L950,168 M896,140 L896,156 L920,164 M936,160 L952,165" stroke="#2a9c7a" stroke-width="1.2" fill="none" opacity="0.85"/><path d="M898,118 L910,121 M914,136 L926,139 M900,148 L912,152" stroke="#c8c8c8" stroke-width="1" fill="none" opacity="0.6"/><path d="M912,138 L960,113" stroke="#d02a36" stroke-width="1.8"/><path d="M962,122 L1030,84" stroke="#6a747c" stroke-width="15" stroke-linecap="round" opacity="0.8" filter="url(#b2)"/><path d="M958,117 L1024,77" stroke="#9ee6de" stroke-width="11" stroke-linecap="round" opacity="0.95" filter="url(#b1)"/><path d="M960,121 L1000,100" stroke="#e8a0b0" stroke-width="5" stroke-linecap="round" opacity="0.8"/><path d="M975,104 L1022,76" stroke="#e8ffff" stroke-width="4" stroke-linecap="round" opacity="0.9"/><path d="M1020,80 L1036,70" stroke="#d07a90" stroke-width="2"/><rect x="972" y="122" width="16" height="7" fill="#8a6a3a" transform="rotate(-25 980 125)"/><path d="M1026,90 L1046,96 M990,128 C1010,140 1018,160 1040,150 S1060,160 1068,158" stroke="#15171a" stroke-width="1.2" fill="none"/><ellipse cx="1053.5" cy="88.5" rx="9.6" ry="18.5" fill="#e6e6e0" transform="rotate(-8 1053.5 88.5)"/><ellipse cx="1056" cy="84" rx="5" ry="11" fill="#fafaf6" transform="rotate(-8 1056 84)"/></g></g>
<g clip-path="url(#ic5)"><rect x="1085.3" y="49.8" width="198.2" height="160.8" fill="#123040"/><polygon points="1165.0,209.0 1282.0,85.0 1282.0,209.0" fill="#0e2838" /><g filter="url(#b1)"><polygon points="1086.0,120.5 1207.5,50.0 1283.0,50.0 1283.0,80.0 1160.0,210.0 1086.0,210.0" fill="url(#g5)" /><polygon points="1144.0,209.0 1283.0,66.0 1283.0,81.0 1161.0,209.0" fill="#6f8a36" opacity="0.7"/><path d="M1086,190 L1240,70 M1100,209 L1262,62" stroke="#e6a23a" stroke-width="1" opacity="0.7"/></g><g filter="url(#b1)"><path d="M1106,118 L1111,100" stroke="#c8648a" stroke-width="3.4" stroke-linecap="round"/><path d="M1106,118 L1111,100" stroke="#eac0d0" stroke-width="1.2" stroke-dasharray="2.5 3"/><path d="M1118,112 L1123,88" stroke="#c8648a" stroke-width="3.4" stroke-linecap="round"/><path d="M1118,112 L1123,88" stroke="#eac0d0" stroke-width="1.2" stroke-dasharray="2.5 3"/><path d="M1131,105 L1136,78" stroke="#c8648a" stroke-width="3.4" stroke-linecap="round"/><path d="M1131,105 L1136,78" stroke="#eac0d0" stroke-width="1.2" stroke-dasharray="2.5 3"/><path d="M1144,100 L1149,72" stroke="#c8648a" stroke-width="3.4" stroke-linecap="round"/><path d="M1144,100 L1149,72" stroke="#eac0d0" stroke-width="1.2" stroke-dasharray="2.5 3"/><path d="M1155,96 L1160,64" stroke="#c8648a" stroke-width="3.4" stroke-linecap="round"/><path d="M1155,96 L1160,64" stroke="#eac0d0" stroke-width="1.2" stroke-dasharray="2.5 3"/><path d="M1166,92 L1171,58" stroke="#c8648a" stroke-width="3.4" stroke-linecap="round"/><path d="M1166,92 L1171,58" stroke="#eac0d0" stroke-width="1.2" stroke-dasharray="2.5 3"/><path d="M1175,165 L1180,118" stroke="#c8648a" stroke-width="3.4" stroke-linecap="round"/><path d="M1175,165 L1180,118" stroke="#eac0d0" stroke-width="1.2" stroke-dasharray="2.5 3"/><path d="M1190,150 L1195,108" stroke="#c8648a" stroke-width="3.4" stroke-linecap="round"/><path d="M1190,150 L1195,108" stroke="#eac0d0" stroke-width="1.2" stroke-dasharray="2.5 3"/><path d="M1204,138 L1209,96" stroke="#c8648a" stroke-width="3.4" stroke-linecap="round"/><path d="M1204,138 L1209,96" stroke="#eac0d0" stroke-width="1.2" stroke-dasharray="2.5 3"/><path d="M1217,128 L1222,88" stroke="#c8648a" stroke-width="3.4" stroke-linecap="round"/><path d="M1217,128 L1222,88" stroke="#eac0d0" stroke-width="1.2" stroke-dasharray="2.5 3"/><path d="M1229,120 L1234,80" stroke="#c8648a" stroke-width="3.4" stroke-linecap="round"/><path d="M1229,120 L1234,80" stroke="#eac0d0" stroke-width="1.2" stroke-dasharray="2.5 3"/><path d="M1241,108 L1246,72" stroke="#c8648a" stroke-width="3.4" stroke-linecap="round"/><path d="M1241,108 L1246,72" stroke="#eac0d0" stroke-width="1.2" stroke-dasharray="2.5 3"/><path d="M1252,100 L1257,66" stroke="#c8648a" stroke-width="3.4" stroke-linecap="round"/><path d="M1252,100 L1257,66" stroke="#eac0d0" stroke-width="1.2" stroke-dasharray="2.5 3"/><ellipse cx="1113" cy="130" rx="5.6" ry="4.2" fill="#cfcfd8"/><ellipse cx="1130" cy="135" rx="5.6" ry="4.2" fill="#cfcfd8"/><ellipse cx="1120" cy="145" rx="5.6" ry="4.2" fill="#cfcfd8"/><ellipse cx="1139" cy="127" rx="5.6" ry="4.2" fill="#cfcfd8"/><ellipse cx="1136" cy="116" rx="5.6" ry="4.2" fill="#cfcfd8"/><ellipse cx="1154" cy="119" rx="5.6" ry="4.2" fill="#cfcfd8"/><ellipse cx="1165" cy="104" rx="5.6" ry="4.2" fill="#cfcfd8"/><ellipse cx="1177" cy="100" rx="5.6" ry="4.2" fill="#cfcfd8"/><ellipse cx="1190" cy="92" rx="5.6" ry="4.2" fill="#cfcfd8"/><ellipse cx="1180" cy="88" rx="5.6" ry="4.2" fill="#cfcfd8"/><ellipse cx="1200" cy="82" rx="5.6" ry="4.2" fill="#cfcfd8"/><ellipse cx="1212" cy="78" rx="5.6" ry="4.2" fill="#cfcfd8"/><ellipse cx="1224" cy="74" rx="5.6" ry="4.2" fill="#cfcfd8"/><ellipse cx="1163" cy="112" rx="5.6" ry="4.2" fill="#cfcfd8"/></g></g>
<g clip-path="url(#ic6)"><rect x="1298" y="49.8" width="198.6" height="160.8" fill="url(#g6)"/><g filter="url(#b4)"><polygon points="1300.0,52.0 1336.0,52.0 1318.7,88.0 1300.0,104.0" fill="#9e2c30" /><polygon points="1300.0,174.7 1332.0,181.3 1361.3,210.7 1300.0,210.7" fill="#9a2624" /><polygon points="1393.3,66.7 1422.7,69.3 1420.0,122.7 1393.3,117.3" fill="#a63a38" /></g><g filter="url(#b2)"><ellipse cx="1314.7" cy="133.3" rx="8.0" ry="28.0" fill="#f7b690" transform="rotate(12 1314.7 133.3)"/><ellipse cx="1332.0" cy="122.7" rx="7.3" ry="30.7" fill="#f4a080" transform="rotate(20 1332.0 122.7)"/><ellipse cx="1348.0" cy="114.7" rx="6.7" ry="32.0" fill="#f29474" transform="rotate(28 1348.0 114.7)"/><ellipse cx="1364.0" cy="105.3" rx="6.0" ry="30.7" fill="#ee8a6c" transform="rotate(32 1364.0 105.3)"/><ellipse cx="1377.3" cy="96.0" rx="4.7" ry="26.7" fill="#e67a60" transform="rotate(35 1377.3 96.0)"/><ellipse cx="1325.3" cy="149.3" rx="12.7" ry="16.0" fill="#ffdcb8" transform="rotate(25 1325.3 149.3)"/><ellipse cx="1349.3" cy="141.3" rx="10.7" ry="14.7" fill="#ffd2ac" transform="rotate(30 1349.3 141.3)"/><ellipse cx="1309.3" cy="154.7" rx="7.3" ry="17.3" fill="#fbc4a0" transform="rotate(10 1309.3 154.7)"/><ellipse cx="1366.7" cy="133.3" rx="7.3" ry="16.0" fill="#f8b490" transform="rotate(35 1366.7 133.3)"/><ellipse cx="1336.0" cy="168.0" rx="20.0" ry="8.0" fill="#ef9474" transform="rotate(15 1336.0 168.0)"/><ellipse cx="1312.0" cy="176.0" rx="10.7" ry="6.7" fill="#e88464" transform="rotate(10 1312.0 176.0)"/><ellipse cx="1382.7" cy="122.7" rx="4.0" ry="16.0" fill="#e27660" transform="rotate(30 1382.7 122.7)"/><ellipse cx="1406.7" cy="149.3" rx="4.7" ry="14.7" fill="#d66a58" transform="rotate(-8 1406.7 149.3)"/><ellipse cx="1414.7" cy="133.3" rx="3.3" ry="13.3" fill="#d8705c" transform="rotate(-8 1414.7 133.3)"/><ellipse cx="1482.7" cy="149.3" rx="6.7" ry="22.7" fill="#e07a5e" transform="rotate(-6 1482.7 149.3)"/><ellipse cx="1489.3" cy="133.3" rx="4.0" ry="16.0" fill="#e88a68" transform="rotate(-6 1489.3 133.3)"/><ellipse cx="1476.0" cy="168.0" rx="5.3" ry="10.7" fill="#cf6250" transform="rotate(0 1476.0 168.0)"/><ellipse cx="1372.0" cy="168.0" rx="8.0" ry="16.0" fill="#d96a56" transform="rotate(30 1372.0 168.0)"/><ellipse cx="1393.3" cy="154.7" rx="5.3" ry="13.3" fill="#d4645a" transform="rotate(20 1393.3 154.7)"/></g><g filter="url(#b1)"><ellipse cx="1322.7" cy="144.0" rx="7.3" ry="6.0" fill="#fff0de" opacity="0.9" transform="rotate(30 1322.7 144.0)"/><ellipse cx="1336.0" cy="154.7" rx="6.0" ry="7.3" fill="#fff0de" opacity="0.9" transform="rotate(20 1336.0 154.7)"/><ellipse cx="1313.3" cy="157.3" rx="4.0" ry="8.0" fill="#fff0de" opacity="0.9" transform="rotate(10 1313.3 157.3)"/><ellipse cx="1349.3" cy="140.0" rx="5.3" ry="6.7" fill="#fff0de" opacity="0.9" transform="rotate(35 1349.3 140.0)"/><ellipse cx="1308.0" cy="140.0" rx="3.3" ry="8.0" fill="#fff0de" opacity="0.9" transform="rotate(5 1308.0 140.0)"/><ellipse cx="1332.0" cy="130.7" rx="3.7" ry="8.0" fill="#fff0de" opacity="0.9" transform="rotate(30 1332.0 130.7)"/><ellipse cx="1361.3" cy="144.0" rx="4.0" ry="5.3" fill="#fff0de" opacity="0.9" transform="rotate(35 1361.3 144.0)"/><ellipse cx="1325.3" cy="165.3" rx="5.3" ry="3.3" fill="#fff0de" opacity="0.9" transform="rotate(0 1325.3 165.3)"/><polygon points="1336.0,53.9 1485.3,53.9 1485.3,56.0 1393.3,66.4" fill="#f3dfdb" /><polygon points="1316.0,51.7 1485.3,51.7 1485.3,54.1 1316.0,54.1" fill="#2c2a2a" /><path d="M1393.3,66.4 L1393.3,180.0" stroke="#e89080" stroke-width="1.1" opacity="0.55"/><polygon points="1300.0,212.0 1342.7,201.3 1384.0,180.7 1425.3,196.0 1494.7,210.0 1494.7,212.0" fill="#c2482e" /><path d="M1383.3,180.3 L1420.0,192.7" stroke="#f2d4dc" stroke-width="3"/><path d="M1450.7,200.0 L1492.0,208.0" stroke="#f2d4dc" stroke-width="3"/><polygon points="1437.3,81.3 1450.7,80.0 1452.0,104.0 1438.7,104.0" fill="#a86a58" /><ellipse cx="1447.3" cy="72.7" rx="15.5" ry="14" fill="#140c0c"/><polygon points="1420.0,70.7 1440.0,68.0 1441.3,79.3 1421.3,80.7" fill="#0c0808" /><polygon points="1428.0,83.3 1439.3,82.0 1440.0,94.7 1430.7,95.3" fill="#160c0c" /><polygon points="1435.3,101.3 1452.0,97.3 1466.7,105.3 1470.0,133.3 1469.3,157.3 1457.3,181.3 1453.3,212.0 1419.3,212.0 1420.7,181.3 1425.3,149.3 1430.7,122.7" fill="#110a0a" /><polygon points="1405.3,117.3 1412.0,114.7 1429.3,124.0 1433.3,117.3 1432.0,133.3 1425.3,133.3" fill="#b4705c" /><ellipse cx="1401.3" cy="116.7" rx="5" ry="5.4" fill="#140c0c"/><polygon points="1441.3,141.3 1448.0,144.0 1433.3,181.3 1427.3,179.3" fill="#9a5848" /></g></g>
<g clip-path="url(#ic7)"><rect x="1510.7" y="49.8" width="199.5" height="160.8" fill="url(#g7)"/><g filter="url(#b1)"><path d="M1512,65.3 L1709,65.3" stroke="#a4a4a4" stroke-width="1.3"/><polygon points="1710.3,139.3 1697.0,142.7 1690.3,149.3 1687.7,162.7 1678.3,169.3 1667.7,174.7 1661.0,186.7 1649.0,198.7 1635.0,210.0 1710.3,210.0" fill="#e57424" /><polygon points="1517.0,81.6 1575.7,81.1 1575.7,86.9 1518.9,87.5" fill="#55595d" /><polygon points="1518.3,80.0 1573.0,79.5 1573.7,82.4 1518.6,82.9" fill="#a9adb1" /><polygon points="1525.0,80.0 1525.3,74.0 1527.7,74.0 1527.9,76.7 1542.3,76.7 1543.0,69.3 1545.7,69.3 1546.3,75.3 1561.0,76.0 1561.3,79.7" fill="#bfc3c7" /><path d="M1544.3,69.3 L1544.3,66.7 L1547.9,68.0" stroke="#777" stroke-width="0.9" fill="none"/><polygon points="1580.3,81.6 1639.0,81.1 1639.0,86.9 1582.2,87.5" fill="#55595d" /><polygon points="1581.7,80.0 1636.3,79.5 1637.0,82.4 1581.9,82.9" fill="#a9adb1" /><polygon points="1588.3,80.0 1588.6,74.0 1591.0,74.0 1591.3,76.7 1605.7,76.7 1606.3,69.3 1609.0,69.3 1609.7,75.3 1624.3,76.0 1624.6,79.7" fill="#bfc3c7" /><path d="M1607.7,69.3 L1607.7,66.7 L1611.3,68.0" stroke="#777" stroke-width="0.9" fill="none"/><polygon points="1644.3,81.6 1703.0,81.1 1703.0,86.9 1646.2,87.5" fill="#55595d" /><polygon points="1645.7,80.0 1700.3,79.5 1701.0,82.4 1645.9,82.9" fill="#a9adb1" /><polygon points="1652.3,80.0 1652.6,74.0 1655.0,74.0 1655.3,76.7 1669.7,76.7 1670.3,69.3 1673.0,69.3 1673.7,75.3 1688.3,76.0 1688.6,79.7" fill="#bfc3c7" /><path d="M1671.7,69.3 L1671.7,66.7 L1675.3,68.0" stroke="#777" stroke-width="0.9" fill="none"/><rect x="1574.3" y="71.8" width="8" height="4.4" rx="1" fill="#5876b8"/><rect x="1639.7" y="71.8" width="8" height="4.4" rx="1" fill="#5876b8"/><polygon points="1517.7,118.4 1545.0,116.3 1575.7,116.7 1575.4,122.0 1521.0,122.7" fill="#54585c" /><polygon points="1552.3,111.5 1561.0,111.5 1561.3,116.5 1552.1,116.5" fill="#6b6a3c" /><polygon points="1584.3,125.1 1611.7,122.9 1639.7,123.3 1639.4,128.7 1587.7,129.3" fill="#54585c" /><polygon points="1618.3,118.7 1627.0,118.7 1627.3,123.5 1618.1,123.5" fill="#6b6a3c" /><path d="M1541.0,92.0 q4,3 8,0 M1538.5,97.5 q6.5,4.5 13,0 M1536.5,103.5 q8.5,5.5 17,0 M1536.0,109.0 q9,5 18,0" stroke="#b9bdc1" stroke-width="1.1" fill="none"/><path d="M1606.3,88.0 L1618.3,88.0 L1621.3,110.7 Q1612.3,126.7 1603.0,110.7 Z" fill="#3a88c8"/><path d="M1677.0,88.0 L1677.0,129.6" stroke="#4f86c2" stroke-width="1.1"/><polygon points="1664.3,133.3 1669.0,130.0 1684.3,129.6 1685.0,142.0 1665.0,142.4" fill="#efc021" /><polygon points="1672.3,133.3 1681.0,133.3 1681.0,138.7 1672.3,138.7" fill="#f6d84a" /><polygon points="1685.0,132.0 1694.3,132.3 1694.3,141.3 1685.0,140.0" fill="#8f8f86" /><ellipse cx="1691.0" cy="146.0" rx="5" ry="3.6" fill="#fdf4b8" opacity="0.85"/></g></g><rect x="1513.4" y="52.3" width="194.1" height="156.2" rx="11.5" fill="none" stroke="#9c9c9c" stroke-width="1.6"/>
<text transform="translate(1543.70,180.70) scale(1.0146,1)" x="0.00" y="0" font-size="21" fill="#1b2946" stroke="#1b2946" stroke-width="0.27" xml:space="preserve">Laser</text>
<text transform="translate(132.00,232.50) scale(1.1438,1)" x="-90.05" y="0" font-size="20" fill="#333132" stroke="#333132" stroke-width="0.26" xml:space="preserve">Quantum computing</text>
<text transform="translate(342.50,232.50) scale(1.1260,1)" x="-83.93" y="0" font-size="20" fill="#333132" stroke="#333132" stroke-width="0.26" xml:space="preserve">Quantum networks</text>
<text transform="translate(551.00,232.50) scale(1.1227,1)" x="-69.48" y="0" font-size="20" fill="#333132" stroke="#333132" stroke-width="0.26" xml:space="preserve">Magnetometers</text>
<text transform="translate(759.00,232.50) scale(1.1672,1)" x="-61.68" y="0" font-size="20" fill="#333132" stroke="#333132" stroke-width="0.26" xml:space="preserve">Optical clocks</text>
<text transform="translate(972.50,232.50) scale(1.1328,1)" x="-92.25" y="0" font-size="20" fill="#333132" stroke="#333132" stroke-width="0.26" xml:space="preserve">Electric-field sensors</text>
<text transform="translate(1187.00,232.50) scale(1.1389,1)" x="-77.27" y="0" font-size="20" fill="#333132" stroke="#333132" stroke-width="0.26" xml:space="preserve">Chem/biosensing</text>
<text transform="translate(1401.50,232.50) scale(1.0307,1)" x="-30.56" y="0" font-size="20" fill="#333132" stroke="#333132" stroke-width="0.26" xml:space="preserve">AR/VR</text>
<text transform="translate(1610.50,232.50) scale(1.1346,1)" x="-74.47" y="0" font-size="20" fill="#333132" stroke="#333132" stroke-width="0.26" xml:space="preserve">Communications</text>
<text transform="translate(872.50,299.80) scale(1.1322,1)" x="-320.16" y="0" font-size="20" fill="#333132" stroke="#333132" stroke-width="0.26" xml:space="preserve">Wavelength requirements for different physical systems and applications</text>
<rect x="63.10" y="379.2" width="2.80" height="221.10" fill="#ad7bb8"/>
<rect x="77.40" y="379.2" width="3.40" height="340.50" fill="#b48ec2"/>
<rect x="115.80" y="379.2" width="2.40" height="119.80" fill="#9788bf"/>
<rect x="153.60" y="379.2" width="2.40" height="124.50" fill="#858ac0"/>
<rect x="191.90" y="379.2" width="3.20" height="317.80" fill="#7a8ec3"/>
<rect x="218.20" y="379.2" width="2.40" height="183.00" fill="#7b9dcd"/>
<rect x="237.20" y="379.2" width="3.20" height="276.70" fill="#90b4da"/>
<rect x="271.00" y="379.2" width="3.40" height="203.80" fill="#8fd2ed"/>
<rect x="327.40" y="379.2" width="3.20" height="317.80" fill="#a6d5a4"/>
<rect x="352.60" y="379.2" width="2.80" height="199.80" fill="#a4d292"/>
<rect x="381.10" y="379.2" width="3.20" height="317.80" fill="#a1d190"/>
<rect x="414.50" y="379.2" width="3.00" height="278.10" fill="#afd68e"/>
<rect x="479.50" y="379.2" width="3.00" height="277.80" fill="#cfe085"/>
<rect x="517.40" y="379.2" width="3.00" height="317.80" fill="#e5e780"/>
<rect x="544.40" y="379.2" width="2.60" height="165.80" fill="#f0eb7e"/>
<rect x="569.10" y="379.2" width="2.80" height="224.30" fill="#f9e67c"/>
<rect x="604.60" y="379.2" width="2.80" height="230.10" fill="#f8cd78"/>
<rect x="628.10" y="379.2" width="2.60" height="191.50" fill="#f8c578"/>
<rect x="651.30" y="379.2" width="2.40" height="126.80" fill="#f4ad7b"/>
<rect x="700.10" y="379.2" width="2.40" height="121.80" fill="#f0897d"/>
<rect x="735.50" y="379.2" width="2.40" height="126.30" fill="#ed7b7d"/>
<rect x="764.80" y="379.2" width="2.40" height="232.70" fill="#ed7b7d"/>
<rect x="791.80" y="379.2" width="2.40" height="103.00" fill="#ed7a7d"/>
<rect x="800.80" y="379.2" width="2.40" height="277.80" fill="#ed7a7d"/>
<rect x="823.00" y="379.2" width="2.40" height="193.60" fill="#ed7a7d"/>
<rect x="844.10" y="379.2" width="2.80" height="288.80" fill="#ed797d"/>
<rect x="866.10" y="379.2" width="2.40" height="160.30" fill="#ec797d"/>
<rect x="890.60" y="379.2" width="2.40" height="119.10" fill="#e7676c"/>
<rect x="898.60" y="379.2" width="2.80" height="228.80" fill="#e5676c"/>
<rect x="949.80" y="379.2" width="2.40" height="180.80" fill="#dd676c"/>
<rect x="971.50" y="379.2" width="2.40" height="117.30" fill="#d7686c"/>
<rect x="1034.20" y="379.2" width="2.80" height="228.80" fill="#c4696d"/>
<rect x="1056.20" y="379.2" width="2.60" height="231.60" fill="#bf686c"/>
<rect x="1083.30" y="379.2" width="2.40" height="202.00" fill="#b8666a"/>
<rect x="1089.50" y="379.2" width="2.80" height="346.80" fill="#b66669"/>
<rect x="1129.50" y="379.2" width="2.40" height="143.30" fill="#ad6467"/>
<rect x="1142.80" y="379.2" width="2.80" height="346.80" fill="#ab6467"/>
<rect x="1178.90" y="379.2" width="2.40" height="167.40" fill="#a66466"/>
<rect x="1283.85" y="379.2" width="2.90" height="144.20" fill="#9e696d"/>
<rect x="1308.55" y="379.2" width="2.90" height="252.80" fill="#9b686c"/>
<rect x="1399.55" y="379.2" width="2.90" height="144.70" fill="#8d6567"/>
<rect x="1414.65" y="379.2" width="3.30" height="263.80" fill="#8b6466"/>
<rect x="1457.55" y="379.2" width="2.90" height="249.80" fill="#846466"/>
<rect x="1509.55" y="379.2" width="2.90" height="206.10" fill="#917c7d"/>
<rect x="1530.35" y="379.2" width="2.90" height="249.80" fill="#8f7c7d"/>
<rect x="1632.45" y="379.2" width="3.10" height="263.80" fill="#7f7979"/>
<rect x="1007.80" y="673" width="2.4" height="53" fill="#c7595e"/>
<rect x="1510" y="584.3" width="6" height="1.6" fill="#887373"/>
<rect x="54.6" y="353.6" width="1640.3000000000002" height="27.60" fill="url(#spec)"/>
<rect x="55.80" y="372" width="2.4" height="9.20" fill="#fff" opacity="0.45"/>
<rect x="327.47" y="372" width="2.4" height="9.20" fill="#fff" opacity="0.45"/>
<rect x="599.14" y="372" width="2.4" height="9.20" fill="#fff" opacity="0.45"/>
<rect x="870.81" y="372" width="2.4" height="9.20" fill="#fff" opacity="0.45"/>
<rect x="1142.48" y="372" width="2.4" height="9.20" fill="#fff" opacity="0.45"/>
<rect x="1414.15" y="372" width="2.4" height="9.20" fill="#fff" opacity="0.45"/>
<rect x="1685.82" y="372" width="2.4" height="9.20" fill="#fff" opacity="0.45"/>
<text transform="translate(60.30,345.60) scale(1.2158,1)" x="-14.60" y="0" font-size="17.5" fill="#333132" stroke="#333132" stroke-width="0.23" xml:space="preserve">400</text>
<text transform="translate(333.20,345.60) scale(1.1816,1)" x="-14.60" y="0" font-size="17.5" fill="#333132" stroke="#333132" stroke-width="0.23" xml:space="preserve">500</text>
<text transform="translate(605.00,345.60) scale(1.2158,1)" x="-14.60" y="0" font-size="17.5" fill="#333132" stroke="#333132" stroke-width="0.23" xml:space="preserve">600</text>
<text transform="translate(874.50,345.60) scale(1.1645,1)" x="-14.60" y="0" font-size="17.5" fill="#333132" stroke="#333132" stroke-width="0.23" xml:space="preserve">700</text>
<text transform="translate(1146.50,345.60) scale(1.2158,1)" x="-14.60" y="0" font-size="17.5" fill="#333132" stroke="#333132" stroke-width="0.23" xml:space="preserve">800</text>
<text transform="translate(1418.80,345.60) scale(1.1987,1)" x="-14.60" y="0" font-size="17.5" fill="#333132" stroke="#333132" stroke-width="0.23" xml:space="preserve">900</text>
<text transform="translate(1689.30,345.60) scale(1.1189,1)" x="-21.90" y="0" font-size="17.5" fill="#333132" stroke="#333132" stroke-width="0.23" xml:space="preserve">1,000</text>
<text transform="translate(1688.60,316.30) scale(1.1797,1)" x="-26.91" y="0" font-size="19" fill="#333132" stroke="#333132" stroke-width="0.25" xml:space="preserve">λ (nm)</text>
<rect x="191.3" y="696" width="139.30" height="12.60" fill="url(#spec)"/>
<rect x="381.4" y="695.6" width="140.60" height="12.60" fill="url(#spec)"/>
<rect x="480.6" y="655.9" width="366.40" height="12.40" fill="url(#spec)"/>
<rect x="899" y="607.2" width="137.70" height="13.10" fill="url(#spec)"/>
<rect x="1007.6" y="725" width="137.60" height="12.80" fill="url(#spec)"/>
<rect x="1415" y="642.2" width="219.60" height="13.50" fill="url(#spec)"/>
<text transform="translate(59.70,568.50) rotate(-90) scale(0.9659,1)" x="0.00" y="0" font-size="19.5" fill="#333132" stroke="#333132" stroke-width="0.25" xml:space="preserve">Sr+ ionization 405 nm</text>
<text transform="translate(73.80,705.00) rotate(-90) scale(0.9597,1)" x="0.00" y="0" font-size="19.5" fill="#333132" stroke="#333132" stroke-width="0.25" xml:space="preserve">Sr<tspan font-size="12.09" dy="-7.02">+</tspan><tspan dy="7.02"> 408 nm</tspan></text>
<text transform="translate(112.50,475.50) rotate(-90) scale(0.9246,1)" x="0.00" y="0" font-size="19.5" fill="#333132" stroke="#333132" stroke-width="0.25" xml:space="preserve">Sr<tspan font-size="12.09" dy="-7.02">+</tspan><tspan dy="7.02"> 422 nm</tspan></text>
<text transform="translate(149.50,480.70) rotate(-90) scale(0.9362,1)" x="0.00" y="0" font-size="19.5" fill="#333132" stroke="#333132" stroke-width="0.25" xml:space="preserve">Yb<tspan font-size="12.09" dy="-7.02">+</tspan><tspan dy="7.02"> 436 nm</tspan></text>
<text transform="translate(214.40,537.00) rotate(-90) scale(0.9620,1)" x="0.00" y="0" font-size="19.5" fill="#333132" stroke="#333132" stroke-width="0.25" xml:space="preserve">Sr cooling 461 nm</text>
<text transform="translate(234.00,644.70) rotate(-90) scale(0.9392,1)" x="0.00" y="0" font-size="19.5" fill="#333132" stroke="#333132" stroke-width="0.25" xml:space="preserve">Yb<tspan font-size="12.09" dy="-7.02">+</tspan><tspan dy="7.02"> 467 nm</tspan></text>
<text transform="translate(266.40,551.00) rotate(-90) scale(0.9467,1)" x="0.00" y="0" font-size="19.5" fill="#333132" stroke="#333132" stroke-width="0.25" xml:space="preserve">Rb Rydberg 479 nm</text>
<text transform="translate(349.50,553.00) rotate(-90) scale(0.9642,1)" x="0.00" y="0" font-size="19.5" fill="#333132" stroke="#333132" stroke-width="0.25" xml:space="preserve">Cs Rydberg 508 nm</text>
<text transform="translate(378.00,487.00) rotate(-90) scale(0.9430,1)" x="0.00" y="0" font-size="19.5" fill="#333132" stroke="#333132" stroke-width="0.25" xml:space="preserve">PbV 520 nm</text>
<text transform="translate(406.20,640.60) rotate(-90) scale(0.9646,1)" x="0.00" y="0" font-size="19.5" fill="#333132" stroke="#333132" stroke-width="0.25" xml:space="preserve">I<tspan font-size="12.09" dy="4.29">2</tspan><tspan dy="-4.29"> clock and NV</tspan><tspan font-size="12.09" dy="-7.02">−</tspan><tspan dy="7.02"> pump 532 nm</tspan></text>
<text transform="translate(477.30,544.00) rotate(-90) scale(0.9794,1)" x="0.00" y="0" font-size="19.5" fill="#333132" stroke="#333132" stroke-width="0.25" xml:space="preserve">Yb cooling 556 nm</text>
<text transform="translate(541.80,524.50) rotate(-90) scale(0.9622,1)" x="0.00" y="0" font-size="19.5" fill="#333132" stroke="#333132" stroke-width="0.25" xml:space="preserve">Yb clock 578 nm</text>
<text transform="translate(567.60,572.50) rotate(-90) scale(0.9278,1)" x="0.00" y="0" font-size="19.5" fill="#333132" stroke="#333132" stroke-width="0.25" xml:space="preserve">Na and DBATT 589 nm</text>
<text transform="translate(602.50,590.00) rotate(-90) scale(0.9271,1)" x="0.00" y="0" font-size="19.5" fill="#333132" stroke="#333132" stroke-width="0.25" xml:space="preserve">GeV 602 nm</text>
<text transform="translate(624.90,530.50) rotate(-90) scale(0.9376,1)" x="0.00" y="0" font-size="19.5" fill="#333132" stroke="#333132" stroke-width="0.25" xml:space="preserve">Pr:Y<tspan font-size="12.09" dy="4.29">2</tspan><tspan dy="-4.29">SiO</tspan><tspan font-size="12.09" dy="4.29">5</tspan><tspan dy="-4.29"> 606 nm</tspan></text>
<text transform="translate(649.00,483.00) rotate(-90) scale(0.9057,1)" x="0.00" y="0" font-size="19.5" fill="#333132" stroke="#333132" stroke-width="0.25" xml:space="preserve">SnV 619 nm</text>
<text transform="translate(695.50,483.00) rotate(-90) scale(0.9292,1)" x="0.00" y="0" font-size="19.5" fill="#333132" stroke="#333132" stroke-width="0.25" xml:space="preserve">NV<tspan font-size="12.09" dy="-7.02">−</tspan><tspan dy="7.02"> 637 nm</tspan></text>
<text transform="translate(732.20,483.00) rotate(-90) scale(0.9196,1)" x="0.00" y="0" font-size="19.5" fill="#333132" stroke="#333132" stroke-width="0.25" xml:space="preserve">Ba+ 650 nm</text>
<text transform="translate(760.00,579.10) rotate(-90) scale(0.9746,1)" x="0.00" y="0" font-size="19.5" fill="#333132" stroke="#333132" stroke-width="0.25" xml:space="preserve">Pulse oximetry 660 nm</text>
<text transform="translate(788.60,462.50) rotate(-90) scale(0.8956,1)" x="0.00" y="0" font-size="19.5" fill="#333132" stroke="#333132" stroke-width="0.25" xml:space="preserve">Li 671 nm</text>
<text transform="translate(798.40,637.30) rotate(-90) scale(0.9649,1)" x="0.00" y="0" font-size="19.5" fill="#333132" stroke="#333132" stroke-width="0.25" xml:space="preserve">Sr<tspan font-size="12.09" dy="-7.02">+</tspan><tspan dy="7.02"> clock 674 nm</tspan></text>
<text transform="translate(820.80,555.00) rotate(-90) scale(1.0071,1)" x="0.00" y="0" font-size="19.5" fill="#333132" stroke="#333132" stroke-width="0.25" xml:space="preserve">Chlorophyll 680 nm</text>
<text transform="translate(842.20,603.40) rotate(-90) scale(0.9793,1)" x="0.00" y="0" font-size="19.5" fill="#333132" stroke="#333132" stroke-width="0.25" xml:space="preserve">Sr narrow cooling 689 nm</text>
<text transform="translate(863.30,522.50) rotate(-90) scale(0.9778,1)" x="0.00" y="0" font-size="19.5" fill="#333132" stroke="#333132" stroke-width="0.25" xml:space="preserve">Sr clock 698 nm</text>
<text transform="translate(887.80,545.70) rotate(-90) scale(0.9519,1)" x="0.00" y="0" font-size="19.5" fill="#333132" stroke="#333132" stroke-width="0.25" xml:space="preserve">Sr re-pump 707 nm</text>
<text transform="translate(947.70,533.20) rotate(-90) scale(0.9411,1)" x="0.00" y="0" font-size="19.5" fill="#333132" stroke="#333132" stroke-width="0.25" xml:space="preserve">Ca+ clock 729 nm</text>
<text transform="translate(969.10,478.60) rotate(-90) scale(0.9206,1)" x="0.00" y="0" font-size="19.5" fill="#333132" stroke="#333132" stroke-width="0.25" xml:space="preserve">SiV 737 nm</text>
<text transform="translate(1032.00,558.00) rotate(-90) scale(0.9599,1)" x="0.00" y="0" font-size="19.5" fill="#333132" stroke="#333132" stroke-width="0.25" xml:space="preserve">Yb<tspan font-size="12.09" dy="-7.02">+</tspan><tspan dy="7.02"> re-pump 760 nm</tspan></text>
<text transform="translate(1054.00,574.90) rotate(-90) scale(0.9533,1)" x="0.00" y="0" font-size="19.5" fill="#333132" stroke="#333132" stroke-width="0.25" xml:space="preserve">K laser cooling 767 nm</text>
<text transform="translate(1078.00,553.80) rotate(-90) scale(0.9450,1)" x="0.00" y="0" font-size="19.5" fill="#333132" stroke="#333132" stroke-width="0.25" xml:space="preserve">Rb 2-photon 778 nm</text>
<text transform="translate(1079.50,673.20) rotate(-90) scale(0.9268,1)" x="0.00" y="0" font-size="19.5" fill="#333132" stroke="#333132" stroke-width="0.25" xml:space="preserve">Rb D<tspan font-size="12.09" dy="4.29">2</tspan><tspan dy="-4.29"> 780 nm</tspan></text>
<text transform="translate(1118.50,495.60) rotate(-90) scale(0.9029,1)" x="0.00" y="0" font-size="19.5" fill="#333132" stroke="#333132" stroke-width="0.25" xml:space="preserve">Rb D<tspan font-size="12.09" dy="4.29">1</tspan><tspan dy="-4.29"> 795 nm</tspan></text>
<text transform="translate(1175.60,524.30) rotate(-90) scale(0.9466,1)" x="0.00" y="0" font-size="19.5" fill="#333132" stroke="#333132" stroke-width="0.25" xml:space="preserve">Sr lattice 813 nm</text>
<text transform="translate(1273.10,497.40) rotate(-90) scale(0.9261,1)" x="0.00" y="0" font-size="19.5" fill="#333132" stroke="#333132" stroke-width="0.25" xml:space="preserve">Cs D<tspan font-size="12.09" dy="4.29">2</tspan><tspan dy="-4.29"> 852 nm</tspan></text>
<text transform="translate(1307.10,594.40) rotate(-90) scale(0.9434,1)" x="0.00" y="0" font-size="19.5" fill="#333132" stroke="#333132" stroke-width="0.25" xml:space="preserve">V1 defect 4H-SiC 861 nm</text>
<text transform="translate(1389.40,497.40) rotate(-90) scale(0.9261,1)" x="0.00" y="0" font-size="19.5" fill="#333132" stroke="#333132" stroke-width="0.25" xml:space="preserve">Cs D<tspan font-size="12.09" dy="4.29">1</tspan><tspan dy="-4.29"> 895 nm</tspan></text>
<text transform="translate(1453.70,596.00) rotate(-90) scale(0.9507,1)" x="0.00" y="0" font-size="19.5" fill="#333132" stroke="#333132" stroke-width="0.25" xml:space="preserve">V2 defect 4H-SiC 916 nm</text>
<text transform="translate(1504.70,562.40) rotate(-90) scale(0.9612,1)" x="0.00" y="0" font-size="19.5" fill="#333132" stroke="#333132" stroke-width="0.25" xml:space="preserve">Yb+ re-pump 935 nm</text>
<text transform="translate(1527.00,600.50) rotate(-90) scale(0.9757,1)" x="0.00" y="0" font-size="19.5" fill="#333132" stroke="#333132" stroke-width="0.25" xml:space="preserve">Glucose  sensing 940 nm</text>
<text transform="translate(1553.80,579.40) rotate(-90) scale(0.9761,1)" x="0.00" y="0" font-size="19.5" fill="#333132" stroke="#333132" stroke-width="0.25" xml:space="preserve">Pulse oximetry 940 nm</text>
<text transform="translate(263.30,690.50) scale(1.0739,1)" x="-42.04" y="0" font-size="17" fill="#333132" stroke="#333132" stroke-width="0.22" xml:space="preserve">B (467 nm)</text>
<text transform="translate(457.20,690.50) scale(1.0759,1)" x="-42.99" y="0" font-size="17" fill="#333132" stroke="#333132" stroke-width="0.22" xml:space="preserve">G (532 nm)</text>
<text transform="translate(680.70,648.20) scale(1.0891,1)" x="-42.51" y="0" font-size="17" fill="#333132" stroke="#333132" stroke-width="0.22" xml:space="preserve">R (630 nm)</text>
<text transform="translate(252.70,731.00) scale(1.0244,1)" x="-40.02" y="0" font-size="20" fill="#333132" stroke="#333132" stroke-width="0.26" xml:space="preserve">Pure sea</text>
<text transform="translate(252.85,756.70) scale(1.1370,1)" x="-72.25" y="0" font-size="20" fill="#333132" stroke="#333132" stroke-width="0.26" xml:space="preserve">communications</text>
<text transform="translate(252.75,781.00) scale(1.1444,1)" x="-62.26" y="0" font-size="20" fill="#333132" stroke="#333132" stroke-width="0.26" xml:space="preserve">(450–500 nm)</text>
<text transform="translate(456.00,732.40) scale(1.0949,1)" x="-63.93" y="0" font-size="20" fill="#333132" stroke="#333132" stroke-width="0.26" xml:space="preserve">Coastal ocean</text>
<text transform="translate(456.65,757.80) scale(1.1370,1)" x="-72.25" y="0" font-size="20" fill="#333132" stroke="#333132" stroke-width="0.26" xml:space="preserve">communications</text>
<text transform="translate(455.95,783.00) scale(1.1042,1)" x="-62.26" y="0" font-size="20" fill="#333132" stroke="#333132" stroke-width="0.26" xml:space="preserve">(520–570 nm)</text>
<text transform="translate(688.10,695.40) scale(1.1284,1)" x="-120.62" y="0" font-size="20" fill="#333132" stroke="#333132" stroke-width="0.26" xml:space="preserve">hBN single-photon emitters</text>
<text transform="translate(688.10,720.80) scale(1.1339,1)" x="-62.26" y="0" font-size="20" fill="#333132" stroke="#333132" stroke-width="0.26" xml:space="preserve">(556–690 nm)</text>
<text transform="translate(910.70,643.00) scale(0.9952,1)" x="0.00" y="0" font-size="20" fill="#333132" stroke="#333132" stroke-width="0.26" xml:space="preserve">WSe<tspan font-size="12.40" dy="4.40">2</tspan><tspan dy="-4.40"> SPEs</tspan></text>
<text transform="translate(960.20,668.30) scale(1.0729,1)" x="-62.26" y="0" font-size="20" fill="#333132" stroke="#333132" stroke-width="0.26" xml:space="preserve">(710–760 nm)</text>
<text transform="translate(1075.70,763.70) scale(1.1005,1)" x="-81.14" y="0" font-size="20" fill="#333132" stroke="#333132" stroke-width="0.26" xml:space="preserve">GaAs droplet QDs</text>
<text transform="translate(1072.25,789.00) scale(1.1412,1)" x="-62.26" y="0" font-size="20" fill="#333132" stroke="#333132" stroke-width="0.26" xml:space="preserve">(750–800 nm)</text>
<text transform="translate(1524.10,682.40) scale(1.0683,1)" x="-70.58" y="0" font-size="20" fill="#333132" stroke="#333132" stroke-width="0.26" xml:space="preserve">InAs/GaAs QDs</text>
<text transform="translate(1524.15,707.30) scale(1.1701,1)" x="-62.26" y="0" font-size="20" fill="#333132" stroke="#333132" stroke-width="0.26" xml:space="preserve">(900–980 nm)</text>
<text transform="translate(467.00,854.00) scale(1.0508,1)" x="-173.91" y="0" font-size="22.6" fill="#333132" stroke="#333132" stroke-width="0.29" xml:space="preserve">Physical systems in photonic QIST</text>
<text transform="translate(55.20,937.50) rotate(-90) scale(1.0907,1)" x="-32.09" y="0" font-size="21" fill="#333132" stroke="#333132" stroke-width="0.27" xml:space="preserve">Atomic</text>
<text transform="translate(55.20,1119.60) rotate(-90) scale(1.0504,1)" x="-49.03" y="0" font-size="21" fill="#333132" stroke="#333132" stroke-width="0.27" xml:space="preserve">Solid state</text>
<g clip-path="url(#bc0)"><rect x="66" y="866" width="204" height="134" fill="#f3efdc"/><g filter="url(#b1)"><polygon points="67.6,867.6 271.1,867.6 271.1,885.4 67.6,889.2" fill="#8a4a1e" /><polygon points="67.6,867.6 174.4,867.6 161.7,884.2 67.6,887.3" fill="#e6c4a2" /><polygon points="67.6,867.6 149.0,867.6 123.6,876.5 67.6,879.1" fill="#f2dcc4" /><polygon points="225.3,867.6 271.1,867.6 271.1,889.2 250.7,885.4" fill="#4a200c" /><polygon points="67.6,886.1 271.1,879.1 271.1,903.2 67.6,916.0" fill="#0e1030" /><polygon points="67.6,896.9 271.1,884.8 271.1,891.8 67.6,905.8" fill="#1a2468" /><polygon points="67.6,900.9 271.1,886.7 271.1,889.0 67.6,903.9" fill="#4f6ed6" /><polygon points="161.7,894.1 271.1,886.4 271.1,888.0 161.7,895.9" fill="#86a2ee" /><polygon points="67.6,910.9 271.1,898.1 271.1,903.9 67.6,917.2" fill="#120a10" /><polygon points="216.4,904.5 248.2,902.6 271.1,898.1 271.1,949.0 258.4,941.4" fill="#f0a81a" /><polygon points="245.7,902.0 271.1,896.9 271.1,928.7 258.4,919.8" fill="#3e1a08" /><polygon points="76.5,921.0 216.4,904.8 258.4,939.5 258.4,949.0 141.4,956.6 114.7,974.4 79.1,931.2" fill="#f4f0dc" /><polygon points="96.9,925.1 201.1,916.2 192.2,929.3 142.7,935.3 117.9,951.8 102.6,931.8" fill="#e6da58" /><polygon points="110.9,928.7 187.2,921.0 182.1,928.7 141.4,933.8 119.8,946.5" fill="#efe88a" /><polygon points="70.2,919.8 77.8,923.6 116.0,957.9 113.4,978.3 67.6,985.9 67.6,919.8" fill="#4a1c08" /><polygon points="75.3,931.2 93.1,938.8 108.3,956.6 98.1,961.7 80.3,949.0" fill="#d86a18" /><polygon points="77.8,936.3 89.2,942.7 91.8,951.6 81.6,947.7" fill="#1c0a04" /><polygon points="113.4,959.2 143.9,937.8 196.1,933.8 257.7,942.7 257.7,961.7 197.3,949.6 146.5,954.1 116.0,974.4" fill="#6e2c0a" /><polygon points="114.7,957.9 143.3,938.6 145.2,945.5 117.2,964.3" fill="#d6c23a" /><polygon points="145.5,938.2 195.0,934.3 195.3,941.4 146.0,945.5" fill="#d8961e" /><polygon points="198.0,935.3 257.1,943.9 257.1,951.6 198.0,942.7" fill="#a44a14" /><polygon points="116.0,968.1 146.5,949.0 197.3,946.5 257.7,956.6 257.7,961.7 197.3,951.6 147.7,954.7 117.2,974.4" fill="#2a0e04" /><polygon points="114.7,975.1 142.7,957.3 198.6,952.6 258.4,962.4 268.5,963.6 268.5,966.2 116.0,977.6" fill="#f8f7ee" /><polygon points="67.6,985.9 114.7,977.6 268.5,965.8 268.5,998.6 67.6,987.2" fill="#4a1a08" /><polygon points="149.0,978.3 268.5,969.4 268.5,984.6 174.4,987.2" fill="#6a2a0c" /><polygon points="67.6,974.4 85.4,975.1 98.1,982.1 67.6,985.3" fill="#e88a18" /><polygon points="67.6,979.5 80.3,980.8 85.4,985.3 67.6,985.3" fill="#f6c020" /><polygon points="225.3,991.0 268.5,988.4 268.5,998.6 238.0,996.1" fill="#e89018" /><polygon points="260.3,973.8 268.5,973.2 268.5,982.7 260.9,982.7" fill="#c02420" /></g></g>
<g clip-path="url(#bc1)"><rect x="272" y="868" width="194" height="142" fill="#050307"/><g filter="url(#b1)"><polygon points="335.4,874.8 352.2,886.9 369.1,877.2 388.3,891.7 402.8,885.7 419.6,901.3 438.9,895.3 459.3,914.5 459.3,931.4 444.9,941.0 441.3,955.5 428.0,962.7 424.4,978.3 412.4,984.3 406.4,1001.2 395.6,1004.8 383.5,991.6 364.3,994.0 354.6,989.2 335.4,974.7 318.5,978.3 304.1,963.9 287.3,967.5 276.4,955.5 276.4,921.8 287.3,920.6 298.1,902.5 313.7,903.7 319.7,885.7 333.0,888.1" fill="url(#lat)" filter="url(#b1)"/><ellipse cx="335.4" cy="879.6" rx="9" ry="5" fill="#4a54bc" opacity="0.6"/><ellipse cx="369.1" cy="882.1" rx="9" ry="5" fill="#4a54bc" opacity="0.6"/><ellipse cx="402.8" cy="890.5" rx="9" ry="5" fill="#4a54bc" opacity="0.6"/><ellipse cx="438.9" cy="900.1" rx="9" ry="5" fill="#4a54bc" opacity="0.6"/><ellipse cx="319.7" cy="891.7" rx="9" ry="5" fill="#4a54bc" opacity="0.6"/><ellipse cx="352.2" cy="895.3" rx="9" ry="5" fill="#4a54bc" opacity="0.6"/><ellipse cx="388.3" cy="900.1" rx="9" ry="5" fill="#4a54bc" opacity="0.6"/><ellipse cx="419.6" cy="908.5" rx="9" ry="5" fill="#4a54bc" opacity="0.6"/><ellipse cx="298.1" cy="908.5" rx="9" ry="5" fill="#4a54bc" opacity="0.6"/><ellipse cx="333.0" cy="914.5" rx="9" ry="5" fill="#4a54bc" opacity="0.6"/><ellipse cx="369.1" cy="916.9" rx="9" ry="5" fill="#4a54bc" opacity="0.6"/><ellipse cx="402.8" cy="921.8" rx="9" ry="5" fill="#4a54bc" opacity="0.6"/><ellipse cx="441.3" cy="918.2" rx="9" ry="5" fill="#4a54bc" opacity="0.6"/><ellipse cx="283.6" cy="926.6" rx="9" ry="5" fill="#4a54bc" opacity="0.6"/><ellipse cx="313.7" cy="931.4" rx="9" ry="5" fill="#4a54bc" opacity="0.6"/><ellipse cx="349.8" cy="935.0" rx="9" ry="5" fill="#4a54bc" opacity="0.6"/><ellipse cx="385.9" cy="941.0" rx="9" ry="5" fill="#4a54bc" opacity="0.6"/><ellipse cx="422.0" cy="941.0" rx="9" ry="5" fill="#4a54bc" opacity="0.6"/><ellipse cx="298.1" cy="948.2" rx="9" ry="5" fill="#4a54bc" opacity="0.6"/><ellipse cx="333.0" cy="955.5" rx="9" ry="5" fill="#4a54bc" opacity="0.6"/><ellipse cx="369.1" cy="962.7" rx="9" ry="5" fill="#4a54bc" opacity="0.6"/><ellipse cx="405.2" cy="960.3" rx="9" ry="5" fill="#4a54bc" opacity="0.6"/><ellipse cx="318.5" cy="972.3" rx="9" ry="5" fill="#4a54bc" opacity="0.6"/><ellipse cx="354.6" cy="979.5" rx="9" ry="5" fill="#4a54bc" opacity="0.6"/><ellipse cx="388.3" cy="981.9" rx="9" ry="5" fill="#4a54bc" opacity="0.6"/><ellipse cx="410.0" cy="986.7" rx="9" ry="5" fill="#4a54bc" opacity="0.6"/><ellipse cx="345.0" cy="903.7" rx="9" ry="5" fill="#181c62" opacity="0.65"/><ellipse cx="378.1" cy="913.3" rx="9" ry="5" fill="#181c62" opacity="0.65"/><ellipse cx="412.4" cy="923.0" rx="9" ry="5" fill="#181c62" opacity="0.65"/><ellipse cx="326.4" cy="921.8" rx="9" ry="5" fill="#181c62" opacity="0.65"/><ellipse cx="360.1" cy="932.6" rx="9" ry="5" fill="#181c62" opacity="0.65"/><ellipse cx="396.2" cy="943.4" rx="9" ry="5" fill="#181c62" opacity="0.65"/><ellipse cx="433.5" cy="955.5" rx="9" ry="5" fill="#181c62" opacity="0.65"/><ellipse cx="305.3" cy="941.0" rx="9" ry="5" fill="#181c62" opacity="0.65"/><ellipse cx="340.8" cy="953.0" rx="9" ry="5" fill="#181c62" opacity="0.65"/><ellipse cx="376.9" cy="966.3" rx="9" ry="5" fill="#181c62" opacity="0.65"/><ellipse cx="416.6" cy="978.3" rx="9" ry="5" fill="#181c62" opacity="0.65"/><ellipse cx="319.7" cy="975.9" rx="9" ry="5" fill="#181c62" opacity="0.65"/><ellipse cx="358.3" cy="987.9" rx="9" ry="5" fill="#181c62" opacity="0.65"/><circle cx="345.0" cy="894.1" r="5.6" fill="#dc2222"/><circle cx="344.2" cy="892.7" r="2.4" fill="#ff7a6a"/><circle cx="412.4" cy="913.9" r="5.6" fill="#dc2222"/><circle cx="411.6" cy="912.5" r="2.4" fill="#ff7a6a"/><circle cx="360.1" cy="923.0" r="5.6" fill="#dc2222"/><circle cx="359.3" cy="921.6" r="2.4" fill="#ff7a6a"/><circle cx="305.3" cy="932.0" r="5.6" fill="#dc2222"/><circle cx="304.5" cy="930.6" r="2.4" fill="#ff7a6a"/><circle cx="433.5" cy="947.0" r="5.6" fill="#dc2222"/><circle cx="432.7" cy="945.6" r="2.4" fill="#ff7a6a"/><circle cx="376.9" cy="956.7" r="5.6" fill="#dc2222"/><circle cx="376.1" cy="955.3" r="2.4" fill="#ff7a6a"/><circle cx="319.7" cy="967.5" r="5.6" fill="#dc2222"/><circle cx="318.9" cy="966.1" r="2.4" fill="#ff7a6a"/><circle cx="398.0" cy="995.2" r="5.6" fill="#dc2222"/><circle cx="397.2" cy="993.8" r="2.4" fill="#ff7a6a"/><circle cx="378.1" cy="904.3" r="5.6" fill="#d2d01e"/><circle cx="377.3" cy="902.9" r="2.4" fill="#f4f47a"/><circle cx="326.4" cy="912.1" r="5.6" fill="#d2d01e"/><circle cx="325.6" cy="910.7" r="2.4" fill="#f4f47a"/><circle cx="449.7" cy="925.4" r="5.6" fill="#d2d01e"/><circle cx="448.9" cy="924.0" r="2.4" fill="#f4f47a"/><circle cx="396.2" cy="934.4" r="5.6" fill="#d2d01e"/><circle cx="395.4" cy="933.0" r="2.4" fill="#f4f47a"/><circle cx="340.8" cy="944.0" r="5.6" fill="#d2d01e"/><circle cx="340.0" cy="942.6" r="2.4" fill="#f4f47a"/><circle cx="283.6" cy="955.5" r="5.6" fill="#d2d01e"/><circle cx="282.8" cy="954.1" r="2.4" fill="#f4f47a"/><circle cx="416.6" cy="969.9" r="5.6" fill="#d2d01e"/><circle cx="415.8" cy="968.5" r="2.4" fill="#f4f47a"/><circle cx="358.3" cy="980.7" r="5.6" fill="#d2d01e"/><circle cx="357.5" cy="979.3" r="2.4" fill="#f4f47a"/></g></g>
<rect x="472.7" y="870.2" width="186.9" height="135.8" fill="#fff" stroke="#474747" stroke-width="1.7"/>
<g filter="url(#b1)"><circle cx="535.0" cy="884.7" r="6.3" fill="#a3a7ad"/><circle cx="516.0" cy="904.5" r="6.3" fill="#a3a7ad"/><circle cx="545.2" cy="901.2" r="6.3" fill="#a3a7ad"/><circle cx="619.0" cy="884.7" r="6.3" fill="#a3a7ad"/><circle cx="592.2" cy="983.9" r="6.3" fill="#a3a7ad"/><circle cx="593.5" cy="915.2" r="36.8" fill="#cfe0f0" stroke="#ababab" stroke-width="1.6" stroke-dasharray="5 3.4"/><circle cx="542.7" cy="961.0" r="36.8" fill="#cfe0f0" stroke="#ababab" stroke-width="1.6" stroke-dasharray="5 3.4"/><circle cx="593.5" cy="915.2" r="35.8" fill="#cfe0f0"/><circle cx="542.7" cy="961.0" r="35.8" fill="#cfe0f0"/><circle cx="586.4" cy="901.2" r="6.3" fill="#92a2b8"/><circle cx="551.6" cy="925.4" r="6.3" fill="#92a2b8"/><circle cx="619.0" cy="924.1" r="6.3" fill="#92a2b8"/><circle cx="513.9" cy="948.3" r="6.3" fill="#92a2b8"/><circle cx="534.5" cy="961.0" r="6.3" fill="#92a2b8"/><circle cx="586.4" cy="952.8" r="6.3" fill="#92a2b8"/><circle cx="563.5" cy="994.0" r="6.3" fill="#92a2b8"/><circle cx="571.9" cy="941.9" r="6.3" fill="#92a2b8"/><circle cx="593.0" cy="916.5" r="6.4" fill="#2b8fc9"/><circle cx="543.2" cy="961.0" r="6.4" fill="#2b8fc9"/></g>
<rect x="671.1" y="870.2" width="187.4" height="135.8" fill="#fff" stroke="#474747" stroke-width="1.7"/>
<g filter="url(#b1)"><polygon points="771.5,883.4 802.8,883.4 799.5,931.7 812.2,992.8 763.2,992.8 766.0,935.0" fill="#f7e9e5" filter="url(#b2)"/><polygon points="774.9,886.5 799.5,886.5 796.2,931.7 808.4,990.2 766.5,990.2 779.9,931.7" fill="#8c4529" /><polygon points="700.3,915.2 704.2,913.4 704.2,962.2 700.3,960.2" fill="#cdcdcd" /><rect x="703.6" y="913.4" width="111.9" height="48.8" fill="#515151"/><polygon points="703.6,949.5 815.5,949.5 815.5,962.2 703.6,962.2" fill="#484848" /><polygon points="776.6,913.9 798.3,913.9 796.2,931.7 802.1,941.9 769.0,941.9 779.9,931.7" fill="#7f3a26" opacity="0.9"/><rect x="724.5" y="926.1" width="44" height="6" fill="#9a9a9a" opacity="0.8"/><rect x="768.2" y="936.8" width="40" height="4.4" fill="#e8e8ee"/></g>
<rect x="71.5" y="1051.6" width="186.1" height="135.3" fill="#fff" stroke="#474747" stroke-width="1.7"/>
<g filter="url(#b1)" stroke="#b4b4b8" stroke-width="1.3" fill="none"><path d="M115.2,1103.8 L96.6,1080.9"/><path d="M115.2,1103.8 L96.6,1098.7"/><path d="M115.2,1103.8 L152.1,1091.0"/><path d="M115.2,1103.8 L114.4,1142.7"/><path d="M114.4,1142.7 L79.6,1152.1"/><path d="M114.4,1142.7 L132.5,1142.7"/><path d="M114.4,1142.7 L133.0,1161.0"/><path d="M208.0,1103.8 L189.7,1080.9"/><path d="M208.0,1103.8 L189.7,1098.7"/><path d="M208.0,1103.8 L243.6,1091.0"/><path d="M207.3,1121.6 L243.6,1091.0"/><path d="M207.3,1121.6 L171.9,1152.1"/><path d="M208.0,1139.4 L171.9,1152.1"/><path d="M208.0,1139.4 L225.8,1142.7"/><path d="M208.0,1139.4 L225.3,1161.0"/><path d="M207.3,1121.6 L189.7,1080.9"/><path d="M207.3,1121.6 L225.3,1161.0"/></g><g filter="url(#b1)"><circle cx="96.6" cy="1080.9" r="5.2" fill="#f1f1f3" stroke="#c2c2c6" stroke-width="1.1"/><circle cx="96.6" cy="1098.7" r="5.2" fill="#f1f1f3" stroke="#c2c2c6" stroke-width="1.1"/><circle cx="152.1" cy="1091.0" r="5.2" fill="#f1f1f3" stroke="#c2c2c6" stroke-width="1.1"/><circle cx="79.6" cy="1152.1" r="5.2" fill="#f1f1f3" stroke="#c2c2c6" stroke-width="1.1"/><circle cx="132.5" cy="1142.7" r="5.2" fill="#f1f1f3" stroke="#c2c2c6" stroke-width="1.1"/><circle cx="133.0" cy="1161.0" r="5.2" fill="#f1f1f3" stroke="#c2c2c6" stroke-width="1.1"/><circle cx="189.7" cy="1080.9" r="5.2" fill="#f1f1f3" stroke="#c2c2c6" stroke-width="1.1"/><circle cx="189.7" cy="1098.7" r="5.2" fill="#f1f1f3" stroke="#c2c2c6" stroke-width="1.1"/><circle cx="243.6" cy="1091.0" r="5.2" fill="#f1f1f3" stroke="#c2c2c6" stroke-width="1.1"/><circle cx="171.9" cy="1152.1" r="5.2" fill="#f1f1f3" stroke="#c2c2c6" stroke-width="1.1"/><circle cx="225.8" cy="1142.7" r="5.2" fill="#f1f1f3" stroke="#c2c2c6" stroke-width="1.1"/><circle cx="225.3" cy="1161.0" r="5.2" fill="#f1f1f3" stroke="#c2c2c6" stroke-width="1.1"/><circle cx="115.2" cy="1103.8" r="6.2" fill="#b6b6be"/><circle cx="115.2" cy="1103.8" r="2" fill="#77777f"/><circle cx="208.0" cy="1103.8" r="6.2" fill="#b6b6be"/><circle cx="208.0" cy="1103.8" r="2" fill="#77777f"/><circle cx="208.0" cy="1139.4" r="6.2" fill="#b6b6be"/><circle cx="208.0" cy="1139.4" r="2" fill="#77777f"/><rect x="108.8" y="1137.1" width="11.2" height="11.2" rx="3.4" fill="#14a048"/><circle cx="207.3" cy="1121.6" r="8.6" fill="#e6b0b4"/><circle cx="207.3" cy="1121.6" r="6.6" fill="#95131f"/></g>
<text transform="translate(87.22,1123.34) scale(1.0000,1)" x="-6.25" y="0" font-size="9" fill="#3aa860" stroke="#3aa860" stroke-width="0.12" xml:space="preserve">NV</text>
<text transform="translate(180.05,1123.08) scale(1.0000,1)" x="-7.00" y="0" font-size="9" fill="#c04a54" stroke="#c04a54" stroke-width="0.12" xml:space="preserve">SiV</text>
<text transform="translate(96.63,1082.66) scale(1.0000,1)" x="-1.81" y="0" font-size="5" fill="#9a9aa0" stroke="#9a9aa0" stroke-width="0.07" xml:space="preserve">C</text>
<text transform="translate(96.63,1100.47) scale(1.0000,1)" x="-1.81" y="0" font-size="5" fill="#9a9aa0" stroke="#9a9aa0" stroke-width="0.07" xml:space="preserve">C</text>
<text transform="translate(152.08,1092.84) scale(1.0000,1)" x="-1.81" y="0" font-size="5" fill="#9a9aa0" stroke="#9a9aa0" stroke-width="0.07" xml:space="preserve">C</text>
<text transform="translate(79.59,1153.88) scale(1.0000,1)" x="-1.81" y="0" font-size="5" fill="#9a9aa0" stroke="#9a9aa0" stroke-width="0.07" xml:space="preserve">C</text>
<text transform="translate(132.49,1144.47) scale(1.0000,1)" x="-1.81" y="0" font-size="5" fill="#9a9aa0" stroke="#9a9aa0" stroke-width="0.07" xml:space="preserve">C</text>
<text transform="translate(133.00,1162.78) scale(1.0000,1)" x="-1.81" y="0" font-size="5" fill="#9a9aa0" stroke="#9a9aa0" stroke-width="0.07" xml:space="preserve">C</text>
<text transform="translate(189.72,1082.66) scale(1.0000,1)" x="-1.81" y="0" font-size="5" fill="#9a9aa0" stroke="#9a9aa0" stroke-width="0.07" xml:space="preserve">C</text>
<text transform="translate(189.72,1100.47) scale(1.0000,1)" x="-1.81" y="0" font-size="5" fill="#9a9aa0" stroke="#9a9aa0" stroke-width="0.07" xml:space="preserve">C</text>
<text transform="translate(243.63,1092.84) scale(1.0000,1)" x="-1.81" y="0" font-size="5" fill="#9a9aa0" stroke="#9a9aa0" stroke-width="0.07" xml:space="preserve">C</text>
<text transform="translate(171.91,1153.88) scale(1.0000,1)" x="-1.81" y="0" font-size="5" fill="#9a9aa0" stroke="#9a9aa0" stroke-width="0.07" xml:space="preserve">C</text>
<text transform="translate(225.83,1144.47) scale(1.0000,1)" x="-1.81" y="0" font-size="5" fill="#9a9aa0" stroke="#9a9aa0" stroke-width="0.07" xml:space="preserve">C</text>
<text transform="translate(225.32,1162.78) scale(1.0000,1)" x="-1.81" y="0" font-size="5" fill="#9a9aa0" stroke="#9a9aa0" stroke-width="0.07" xml:space="preserve">C</text>
<g clip-path="url(#bc5)"><rect x="272" y="1048" width="194" height="142" fill="#3a3a3a"/><g filter="url(#b1)"><path d="M296.0,1110.7a2.7,2.7 0 1,0 5.4,0a2.7,2.7 0 1,0 -5.4,0M281.3,1112.1a2.7,2.7 0 1,0 5.4,0a2.7,2.7 0 1,0 -5.4,0M310.9,1108.9a2.7,2.7 0 1,0 5.4,0a2.7,2.7 0 1,0 -5.4,0M325.8,1107.2a2.7,2.7 0 1,0 5.4,0a2.7,2.7 0 1,0 -5.4,0M340.7,1105.5a2.7,2.7 0 1,0 5.4,0a2.7,2.7 0 1,0 -5.4,0M355.6,1103.7a2.7,2.7 0 1,0 5.4,0a2.7,2.7 0 1,0 -5.4,0M370.5,1102.0a2.7,2.7 0 1,0 5.4,0a2.7,2.7 0 1,0 -5.4,0M385.4,1100.3a2.7,2.7 0 1,0 5.4,0a2.7,2.7 0 1,0 -5.4,0M400.4,1098.5a2.7,2.7 0 1,0 5.4,0a2.7,2.7 0 1,0 -5.4,0M415.3,1096.8a2.7,2.7 0 1,0 5.4,0a2.7,2.7 0 1,0 -5.4,0M430.2,1095.1a2.7,2.7 0 1,0 5.4,0a2.7,2.7 0 1,0 -5.4,0M291.2,1118.5a2.7,2.7 0 1,0 5.4,0a2.7,2.7 0 1,0 -5.4,0M276.6,1119.9a2.7,2.7 0 1,0 5.4,0a2.7,2.7 0 1,0 -5.4,0M306.1,1116.7a2.7,2.7 0 1,0 5.4,0a2.7,2.7 0 1,0 -5.4,0M321.1,1115.0a2.7,2.7 0 1,0 5.4,0a2.7,2.7 0 1,0 -5.4,0M336.0,1113.3a2.7,2.7 0 1,0 5.4,0a2.7,2.7 0 1,0 -5.4,0M350.9,1111.5a2.7,2.7 0 1,0 5.4,0a2.7,2.7 0 1,0 -5.4,0M365.8,1109.8a2.7,2.7 0 1,0 5.4,0a2.7,2.7 0 1,0 -5.4,0M380.7,1108.1a2.7,2.7 0 1,0 5.4,0a2.7,2.7 0 1,0 -5.4,0M395.6,1106.3a2.7,2.7 0 1,0 5.4,0a2.7,2.7 0 1,0 -5.4,0M410.5,1104.6a2.7,2.7 0 1,0 5.4,0a2.7,2.7 0 1,0 -5.4,0M425.4,1102.9a2.7,2.7 0 1,0 5.4,0a2.7,2.7 0 1,0 -5.4,0M301.4,1124.5a2.7,2.7 0 1,0 5.4,0a2.7,2.7 0 1,0 -5.4,0M286.7,1125.9a2.7,2.7 0 1,0 5.4,0a2.7,2.7 0 1,0 -5.4,0M316.3,1122.8a2.7,2.7 0 1,0 5.4,0a2.7,2.7 0 1,0 -5.4,0M331.2,1121.0a2.7,2.7 0 1,0 5.4,0a2.7,2.7 0 1,0 -5.4,0M346.1,1119.3a2.7,2.7 0 1,0 5.4,0a2.7,2.7 0 1,0 -5.4,0M361.0,1117.6a2.7,2.7 0 1,0 5.4,0a2.7,2.7 0 1,0 -5.4,0M375.9,1115.8a2.7,2.7 0 1,0 5.4,0a2.7,2.7 0 1,0 -5.4,0M390.9,1114.1a2.7,2.7 0 1,0 5.4,0a2.7,2.7 0 1,0 -5.4,0M405.8,1112.4a2.7,2.7 0 1,0 5.4,0a2.7,2.7 0 1,0 -5.4,0M420.7,1110.6a2.7,2.7 0 1,0 5.4,0a2.7,2.7 0 1,0 -5.4,0M435.6,1108.9a2.7,2.7 0 1,0 5.4,0a2.7,2.7 0 1,0 -5.4,0M296.7,1132.3a2.7,2.7 0 1,0 5.4,0a2.7,2.7 0 1,0 -5.4,0M282.0,1133.7a2.7,2.7 0 1,0 5.4,0a2.7,2.7 0 1,0 -5.4,0M311.6,1130.6a2.7,2.7 0 1,0 5.4,0a2.7,2.7 0 1,0 -5.4,0M326.5,1128.8a2.7,2.7 0 1,0 5.4,0a2.7,2.7 0 1,0 -5.4,0M341.4,1127.1a2.7,2.7 0 1,0 5.4,0a2.7,2.7 0 1,0 -5.4,0M356.3,1125.4a2.7,2.7 0 1,0 5.4,0a2.7,2.7 0 1,0 -5.4,0M371.2,1123.6a2.7,2.7 0 1,0 5.4,0a2.7,2.7 0 1,0 -5.4,0M386.1,1121.9a2.7,2.7 0 1,0 5.4,0a2.7,2.7 0 1,0 -5.4,0M401.0,1120.2a2.7,2.7 0 1,0 5.4,0a2.7,2.7 0 1,0 -5.4,0M415.9,1118.4a2.7,2.7 0 1,0 5.4,0a2.7,2.7 0 1,0 -5.4,0M430.8,1116.7a2.7,2.7 0 1,0 5.4,0a2.7,2.7 0 1,0 -5.4,0M306.8,1138.3a2.7,2.7 0 1,0 5.4,0a2.7,2.7 0 1,0 -5.4,0M292.1,1139.8a2.7,2.7 0 1,0 5.4,0a2.7,2.7 0 1,0 -5.4,0M321.7,1136.6a2.7,2.7 0 1,0 5.4,0a2.7,2.7 0 1,0 -5.4,0M336.6,1134.9a2.7,2.7 0 1,0 5.4,0a2.7,2.7 0 1,0 -5.4,0M351.5,1133.1a2.7,2.7 0 1,0 5.4,0a2.7,2.7 0 1,0 -5.4,0M366.5,1131.4a2.7,2.7 0 1,0 5.4,0a2.7,2.7 0 1,0 -5.4,0M381.4,1129.7a2.7,2.7 0 1,0 5.4,0a2.7,2.7 0 1,0 -5.4,0M396.3,1127.9a2.7,2.7 0 1,0 5.4,0a2.7,2.7 0 1,0 -5.4,0M411.2,1126.2a2.7,2.7 0 1,0 5.4,0a2.7,2.7 0 1,0 -5.4,0M426.1,1124.5a2.7,2.7 0 1,0 5.4,0a2.7,2.7 0 1,0 -5.4,0M441.0,1122.7a2.7,2.7 0 1,0 5.4,0a2.7,2.7 0 1,0 -5.4,0M302.1,1146.1a2.7,2.7 0 1,0 5.4,0a2.7,2.7 0 1,0 -5.4,0M287.4,1147.6a2.7,2.7 0 1,0 5.4,0a2.7,2.7 0 1,0 -5.4,0M317.0,1144.4a2.7,2.7 0 1,0 5.4,0a2.7,2.7 0 1,0 -5.4,0M331.9,1142.7a2.7,2.7 0 1,0 5.4,0a2.7,2.7 0 1,0 -5.4,0M346.8,1140.9a2.7,2.7 0 1,0 5.4,0a2.7,2.7 0 1,0 -5.4,0M361.7,1139.2a2.7,2.7 0 1,0 5.4,0a2.7,2.7 0 1,0 -5.4,0M376.6,1137.5a2.7,2.7 0 1,0 5.4,0a2.7,2.7 0 1,0 -5.4,0M391.5,1135.7a2.7,2.7 0 1,0 5.4,0a2.7,2.7 0 1,0 -5.4,0M406.4,1134.0a2.7,2.7 0 1,0 5.4,0a2.7,2.7 0 1,0 -5.4,0M421.3,1132.3a2.7,2.7 0 1,0 5.4,0a2.7,2.7 0 1,0 -5.4,0M436.3,1130.5a2.7,2.7 0 1,0 5.4,0a2.7,2.7 0 1,0 -5.4,0M312.2,1152.2a2.7,2.7 0 1,0 5.4,0a2.7,2.7 0 1,0 -5.4,0M297.6,1153.6a2.7,2.7 0 1,0 5.4,0a2.7,2.7 0 1,0 -5.4,0M327.1,1150.5a2.7,2.7 0 1,0 5.4,0a2.7,2.7 0 1,0 -5.4,0M342.1,1148.7a2.7,2.7 0 1,0 5.4,0a2.7,2.7 0 1,0 -5.4,0M357.0,1147.0a2.7,2.7 0 1,0 5.4,0a2.7,2.7 0 1,0 -5.4,0M371.9,1145.3a2.7,2.7 0 1,0 5.4,0a2.7,2.7 0 1,0 -5.4,0M386.8,1143.5a2.7,2.7 0 1,0 5.4,0a2.7,2.7 0 1,0 -5.4,0M401.7,1141.8a2.7,2.7 0 1,0 5.4,0a2.7,2.7 0 1,0 -5.4,0M416.6,1140.1a2.7,2.7 0 1,0 5.4,0a2.7,2.7 0 1,0 -5.4,0M431.5,1138.3a2.7,2.7 0 1,0 5.4,0a2.7,2.7 0 1,0 -5.4,0M446.4,1136.6a2.7,2.7 0 1,0 5.4,0a2.7,2.7 0 1,0 -5.4,0M307.5,1160.0a2.7,2.7 0 1,0 5.4,0a2.7,2.7 0 1,0 -5.4,0M292.8,1161.4a2.7,2.7 0 1,0 5.4,0a2.7,2.7 0 1,0 -5.4,0M322.4,1158.2a2.7,2.7 0 1,0 5.4,0a2.7,2.7 0 1,0 -5.4,0M337.3,1156.5a2.7,2.7 0 1,0 5.4,0a2.7,2.7 0 1,0 -5.4,0M352.2,1154.8a2.7,2.7 0 1,0 5.4,0a2.7,2.7 0 1,0 -5.4,0M367.1,1153.0a2.7,2.7 0 1,0 5.4,0a2.7,2.7 0 1,0 -5.4,0M382.0,1151.3a2.7,2.7 0 1,0 5.4,0a2.7,2.7 0 1,0 -5.4,0M396.9,1149.6a2.7,2.7 0 1,0 5.4,0a2.7,2.7 0 1,0 -5.4,0M411.9,1147.8a2.7,2.7 0 1,0 5.4,0a2.7,2.7 0 1,0 -5.4,0M426.8,1146.1a2.7,2.7 0 1,0 5.4,0a2.7,2.7 0 1,0 -5.4,0M441.7,1144.4a2.7,2.7 0 1,0 5.4,0a2.7,2.7 0 1,0 -5.4,0M317.6,1166.0a2.7,2.7 0 1,0 5.4,0a2.7,2.7 0 1,0 -5.4,0M303.0,1167.5a2.7,2.7 0 1,0 5.4,0a2.7,2.7 0 1,0 -5.4,0M332.6,1164.3a2.7,2.7 0 1,0 5.4,0a2.7,2.7 0 1,0 -5.4,0M347.5,1162.6a2.7,2.7 0 1,0 5.4,0a2.7,2.7 0 1,0 -5.4,0M362.4,1160.8a2.7,2.7 0 1,0 5.4,0a2.7,2.7 0 1,0 -5.4,0M377.3,1159.1a2.7,2.7 0 1,0 5.4,0a2.7,2.7 0 1,0 -5.4,0M392.2,1157.4a2.7,2.7 0 1,0 5.4,0a2.7,2.7 0 1,0 -5.4,0M407.1,1155.6a2.7,2.7 0 1,0 5.4,0a2.7,2.7 0 1,0 -5.4,0M422.0,1153.9a2.7,2.7 0 1,0 5.4,0a2.7,2.7 0 1,0 -5.4,0M436.9,1152.2a2.7,2.7 0 1,0 5.4,0a2.7,2.7 0 1,0 -5.4,0M451.8,1150.4a2.7,2.7 0 1,0 5.4,0a2.7,2.7 0 1,0 -5.4,0M312.9,1173.8a2.7,2.7 0 1,0 5.4,0a2.7,2.7 0 1,0 -5.4,0M298.2,1175.3a2.7,2.7 0 1,0 5.4,0a2.7,2.7 0 1,0 -5.4,0M327.8,1172.1a2.7,2.7 0 1,0 5.4,0a2.7,2.7 0 1,0 -5.4,0M342.7,1170.3a2.7,2.7 0 1,0 5.4,0a2.7,2.7 0 1,0 -5.4,0M357.6,1168.6a2.7,2.7 0 1,0 5.4,0a2.7,2.7 0 1,0 -5.4,0M372.5,1166.9a2.7,2.7 0 1,0 5.4,0a2.7,2.7 0 1,0 -5.4,0M387.4,1165.1a2.7,2.7 0 1,0 5.4,0a2.7,2.7 0 1,0 -5.4,0M402.4,1163.4a2.7,2.7 0 1,0 5.4,0a2.7,2.7 0 1,0 -5.4,0M417.3,1161.7a2.7,2.7 0 1,0 5.4,0a2.7,2.7 0 1,0 -5.4,0M432.2,1159.9a2.7,2.7 0 1,0 5.4,0a2.7,2.7 0 1,0 -5.4,0M447.1,1158.2a2.7,2.7 0 1,0 5.4,0a2.7,2.7 0 1,0 -5.4,0M323.1,1179.9a2.7,2.7 0 1,0 5.4,0a2.7,2.7 0 1,0 -5.4,0M308.4,1181.3a2.7,2.7 0 1,0 5.4,0a2.7,2.7 0 1,0 -5.4,0M338.0,1178.1a2.7,2.7 0 1,0 5.4,0a2.7,2.7 0 1,0 -5.4,0M352.9,1176.4a2.7,2.7 0 1,0 5.4,0a2.7,2.7 0 1,0 -5.4,0M367.8,1174.7a2.7,2.7 0 1,0 5.4,0a2.7,2.7 0 1,0 -5.4,0M382.7,1172.9a2.7,2.7 0 1,0 5.4,0a2.7,2.7 0 1,0 -5.4,0M397.6,1171.2a2.7,2.7 0 1,0 5.4,0a2.7,2.7 0 1,0 -5.4,0M412.5,1169.5a2.7,2.7 0 1,0 5.4,0a2.7,2.7 0 1,0 -5.4,0M427.4,1167.7a2.7,2.7 0 1,0 5.4,0a2.7,2.7 0 1,0 -5.4,0M442.3,1166.0a2.7,2.7 0 1,0 5.4,0a2.7,2.7 0 1,0 -5.4,0M457.2,1164.3a2.7,2.7 0 1,0 5.4,0a2.7,2.7 0 1,0 -5.4,0" fill="#b93ab9"/><path d="M289.6,1107.8a1.9,1.9 0 1,0 3.8,0a1.9,1.9 0 1,0 -3.8,0M304.5,1106.0a1.9,1.9 0 1,0 3.8,0a1.9,1.9 0 1,0 -3.8,0M319.4,1104.3a1.9,1.9 0 1,0 3.8,0a1.9,1.9 0 1,0 -3.8,0M334.3,1102.6a1.9,1.9 0 1,0 3.8,0a1.9,1.9 0 1,0 -3.8,0M349.2,1100.8a1.9,1.9 0 1,0 3.8,0a1.9,1.9 0 1,0 -3.8,0M364.1,1099.1a1.9,1.9 0 1,0 3.8,0a1.9,1.9 0 1,0 -3.8,0M379.0,1097.4a1.9,1.9 0 1,0 3.8,0a1.9,1.9 0 1,0 -3.8,0M393.9,1095.6a1.9,1.9 0 1,0 3.8,0a1.9,1.9 0 1,0 -3.8,0M408.8,1093.9a1.9,1.9 0 1,0 3.8,0a1.9,1.9 0 1,0 -3.8,0M423.8,1092.2a1.9,1.9 0 1,0 3.8,0a1.9,1.9 0 1,0 -3.8,0M284.8,1115.6a1.9,1.9 0 1,0 3.8,0a1.9,1.9 0 1,0 -3.8,0M299.7,1113.8a1.9,1.9 0 1,0 3.8,0a1.9,1.9 0 1,0 -3.8,0M314.6,1112.1a1.9,1.9 0 1,0 3.8,0a1.9,1.9 0 1,0 -3.8,0M329.5,1110.4a1.9,1.9 0 1,0 3.8,0a1.9,1.9 0 1,0 -3.8,0M344.5,1108.6a1.9,1.9 0 1,0 3.8,0a1.9,1.9 0 1,0 -3.8,0M359.4,1106.9a1.9,1.9 0 1,0 3.8,0a1.9,1.9 0 1,0 -3.8,0M374.3,1105.2a1.9,1.9 0 1,0 3.8,0a1.9,1.9 0 1,0 -3.8,0M389.2,1103.4a1.9,1.9 0 1,0 3.8,0a1.9,1.9 0 1,0 -3.8,0M404.1,1101.7a1.9,1.9 0 1,0 3.8,0a1.9,1.9 0 1,0 -3.8,0M419.0,1100.0a1.9,1.9 0 1,0 3.8,0a1.9,1.9 0 1,0 -3.8,0M295.0,1121.6a1.9,1.9 0 1,0 3.8,0a1.9,1.9 0 1,0 -3.8,0M309.9,1119.9a1.9,1.9 0 1,0 3.8,0a1.9,1.9 0 1,0 -3.8,0M324.8,1118.2a1.9,1.9 0 1,0 3.8,0a1.9,1.9 0 1,0 -3.8,0M339.7,1116.4a1.9,1.9 0 1,0 3.8,0a1.9,1.9 0 1,0 -3.8,0M354.6,1114.7a1.9,1.9 0 1,0 3.8,0a1.9,1.9 0 1,0 -3.8,0M369.5,1113.0a1.9,1.9 0 1,0 3.8,0a1.9,1.9 0 1,0 -3.8,0M384.4,1111.2a1.9,1.9 0 1,0 3.8,0a1.9,1.9 0 1,0 -3.8,0M399.3,1109.5a1.9,1.9 0 1,0 3.8,0a1.9,1.9 0 1,0 -3.8,0M414.3,1107.8a1.9,1.9 0 1,0 3.8,0a1.9,1.9 0 1,0 -3.8,0M429.2,1106.0a1.9,1.9 0 1,0 3.8,0a1.9,1.9 0 1,0 -3.8,0M290.2,1129.4a1.9,1.9 0 1,0 3.8,0a1.9,1.9 0 1,0 -3.8,0M305.1,1127.7a1.9,1.9 0 1,0 3.8,0a1.9,1.9 0 1,0 -3.8,0M320.1,1125.9a1.9,1.9 0 1,0 3.8,0a1.9,1.9 0 1,0 -3.8,0M335.0,1124.2a1.9,1.9 0 1,0 3.8,0a1.9,1.9 0 1,0 -3.8,0M349.9,1122.5a1.9,1.9 0 1,0 3.8,0a1.9,1.9 0 1,0 -3.8,0M364.8,1120.7a1.9,1.9 0 1,0 3.8,0a1.9,1.9 0 1,0 -3.8,0M379.7,1119.0a1.9,1.9 0 1,0 3.8,0a1.9,1.9 0 1,0 -3.8,0M394.6,1117.3a1.9,1.9 0 1,0 3.8,0a1.9,1.9 0 1,0 -3.8,0M409.5,1115.5a1.9,1.9 0 1,0 3.8,0a1.9,1.9 0 1,0 -3.8,0M424.4,1113.8a1.9,1.9 0 1,0 3.8,0a1.9,1.9 0 1,0 -3.8,0M300.4,1135.5a1.9,1.9 0 1,0 3.8,0a1.9,1.9 0 1,0 -3.8,0M315.3,1133.7a1.9,1.9 0 1,0 3.8,0a1.9,1.9 0 1,0 -3.8,0M330.2,1132.0a1.9,1.9 0 1,0 3.8,0a1.9,1.9 0 1,0 -3.8,0M345.1,1130.3a1.9,1.9 0 1,0 3.8,0a1.9,1.9 0 1,0 -3.8,0M360.0,1128.5a1.9,1.9 0 1,0 3.8,0a1.9,1.9 0 1,0 -3.8,0M374.9,1126.8a1.9,1.9 0 1,0 3.8,0a1.9,1.9 0 1,0 -3.8,0M389.9,1125.1a1.9,1.9 0 1,0 3.8,0a1.9,1.9 0 1,0 -3.8,0M404.8,1123.3a1.9,1.9 0 1,0 3.8,0a1.9,1.9 0 1,0 -3.8,0M419.7,1121.6a1.9,1.9 0 1,0 3.8,0a1.9,1.9 0 1,0 -3.8,0M434.6,1119.9a1.9,1.9 0 1,0 3.8,0a1.9,1.9 0 1,0 -3.8,0M295.6,1143.2a1.9,1.9 0 1,0 3.8,0a1.9,1.9 0 1,0 -3.8,0M310.6,1141.5a1.9,1.9 0 1,0 3.8,0a1.9,1.9 0 1,0 -3.8,0M325.5,1139.8a1.9,1.9 0 1,0 3.8,0a1.9,1.9 0 1,0 -3.8,0M340.4,1138.0a1.9,1.9 0 1,0 3.8,0a1.9,1.9 0 1,0 -3.8,0M355.3,1136.3a1.9,1.9 0 1,0 3.8,0a1.9,1.9 0 1,0 -3.8,0M370.2,1134.6a1.9,1.9 0 1,0 3.8,0a1.9,1.9 0 1,0 -3.8,0M385.1,1132.8a1.9,1.9 0 1,0 3.8,0a1.9,1.9 0 1,0 -3.8,0M400.0,1131.1a1.9,1.9 0 1,0 3.8,0a1.9,1.9 0 1,0 -3.8,0M414.9,1129.4a1.9,1.9 0 1,0 3.8,0a1.9,1.9 0 1,0 -3.8,0M429.8,1127.6a1.9,1.9 0 1,0 3.8,0a1.9,1.9 0 1,0 -3.8,0M305.8,1149.3a1.9,1.9 0 1,0 3.8,0a1.9,1.9 0 1,0 -3.8,0M320.7,1147.6a1.9,1.9 0 1,0 3.8,0a1.9,1.9 0 1,0 -3.8,0M335.6,1145.8a1.9,1.9 0 1,0 3.8,0a1.9,1.9 0 1,0 -3.8,0M350.5,1144.1a1.9,1.9 0 1,0 3.8,0a1.9,1.9 0 1,0 -3.8,0M365.5,1142.4a1.9,1.9 0 1,0 3.8,0a1.9,1.9 0 1,0 -3.8,0M380.4,1140.6a1.9,1.9 0 1,0 3.8,0a1.9,1.9 0 1,0 -3.8,0M395.3,1138.9a1.9,1.9 0 1,0 3.8,0a1.9,1.9 0 1,0 -3.8,0M410.2,1137.2a1.9,1.9 0 1,0 3.8,0a1.9,1.9 0 1,0 -3.8,0M425.1,1135.4a1.9,1.9 0 1,0 3.8,0a1.9,1.9 0 1,0 -3.8,0M440.0,1133.7a1.9,1.9 0 1,0 3.8,0a1.9,1.9 0 1,0 -3.8,0M301.1,1157.1a1.9,1.9 0 1,0 3.8,0a1.9,1.9 0 1,0 -3.8,0M316.0,1155.3a1.9,1.9 0 1,0 3.8,0a1.9,1.9 0 1,0 -3.8,0M330.9,1153.6a1.9,1.9 0 1,0 3.8,0a1.9,1.9 0 1,0 -3.8,0M345.8,1151.9a1.9,1.9 0 1,0 3.8,0a1.9,1.9 0 1,0 -3.8,0M360.7,1150.1a1.9,1.9 0 1,0 3.8,0a1.9,1.9 0 1,0 -3.8,0M375.6,1148.4a1.9,1.9 0 1,0 3.8,0a1.9,1.9 0 1,0 -3.8,0M390.5,1146.7a1.9,1.9 0 1,0 3.8,0a1.9,1.9 0 1,0 -3.8,0M405.4,1145.0a1.9,1.9 0 1,0 3.8,0a1.9,1.9 0 1,0 -3.8,0M420.3,1143.2a1.9,1.9 0 1,0 3.8,0a1.9,1.9 0 1,0 -3.8,0M435.3,1141.5a1.9,1.9 0 1,0 3.8,0a1.9,1.9 0 1,0 -3.8,0M311.2,1163.1a1.9,1.9 0 1,0 3.8,0a1.9,1.9 0 1,0 -3.8,0M326.1,1161.4a1.9,1.9 0 1,0 3.8,0a1.9,1.9 0 1,0 -3.8,0M341.0,1159.7a1.9,1.9 0 1,0 3.8,0a1.9,1.9 0 1,0 -3.8,0M356.0,1157.9a1.9,1.9 0 1,0 3.8,0a1.9,1.9 0 1,0 -3.8,0M370.9,1156.2a1.9,1.9 0 1,0 3.8,0a1.9,1.9 0 1,0 -3.8,0M385.8,1154.5a1.9,1.9 0 1,0 3.8,0a1.9,1.9 0 1,0 -3.8,0M400.7,1152.7a1.9,1.9 0 1,0 3.8,0a1.9,1.9 0 1,0 -3.8,0M415.6,1151.0a1.9,1.9 0 1,0 3.8,0a1.9,1.9 0 1,0 -3.8,0M430.5,1149.3a1.9,1.9 0 1,0 3.8,0a1.9,1.9 0 1,0 -3.8,0M445.4,1147.5a1.9,1.9 0 1,0 3.8,0a1.9,1.9 0 1,0 -3.8,0M306.5,1170.9a1.9,1.9 0 1,0 3.8,0a1.9,1.9 0 1,0 -3.8,0M321.4,1169.2a1.9,1.9 0 1,0 3.8,0a1.9,1.9 0 1,0 -3.8,0M336.3,1167.5a1.9,1.9 0 1,0 3.8,0a1.9,1.9 0 1,0 -3.8,0M351.2,1165.7a1.9,1.9 0 1,0 3.8,0a1.9,1.9 0 1,0 -3.8,0M366.1,1164.0a1.9,1.9 0 1,0 3.8,0a1.9,1.9 0 1,0 -3.8,0M381.0,1162.3a1.9,1.9 0 1,0 3.8,0a1.9,1.9 0 1,0 -3.8,0M395.9,1160.5a1.9,1.9 0 1,0 3.8,0a1.9,1.9 0 1,0 -3.8,0M410.8,1158.8a1.9,1.9 0 1,0 3.8,0a1.9,1.9 0 1,0 -3.8,0M425.8,1157.1a1.9,1.9 0 1,0 3.8,0a1.9,1.9 0 1,0 -3.8,0M440.7,1155.3a1.9,1.9 0 1,0 3.8,0a1.9,1.9 0 1,0 -3.8,0M316.6,1177.0a1.9,1.9 0 1,0 3.8,0a1.9,1.9 0 1,0 -3.8,0M331.6,1175.2a1.9,1.9 0 1,0 3.8,0a1.9,1.9 0 1,0 -3.8,0M346.5,1173.5a1.9,1.9 0 1,0 3.8,0a1.9,1.9 0 1,0 -3.8,0M361.4,1171.8a1.9,1.9 0 1,0 3.8,0a1.9,1.9 0 1,0 -3.8,0M376.3,1170.0a1.9,1.9 0 1,0 3.8,0a1.9,1.9 0 1,0 -3.8,0M391.2,1168.3a1.9,1.9 0 1,0 3.8,0a1.9,1.9 0 1,0 -3.8,0M406.1,1166.6a1.9,1.9 0 1,0 3.8,0a1.9,1.9 0 1,0 -3.8,0M421.0,1164.8a1.9,1.9 0 1,0 3.8,0a1.9,1.9 0 1,0 -3.8,0M435.9,1163.1a1.9,1.9 0 1,0 3.8,0a1.9,1.9 0 1,0 -3.8,0M450.8,1161.4a1.9,1.9 0 1,0 3.8,0a1.9,1.9 0 1,0 -3.8,0" fill="#e9e9e9"/></g><rect x="366" y="1046" width="10.8" height="84" fill="#4cb82a" filter="url(#b1)"/><rect x="369.4" y="1046" width="4" height="84" fill="#7ad848" filter="url(#b1)"/><circle cx="372.7" cy="1133" r="12.5" fill="url(#hot)"/></g>
<rect x="474.1" y="1055.9" width="186.2" height="134.4" fill="#e9e9e9" stroke="#555555" stroke-width="3"/>
<g filter="url(#b1)"><path d="M523.6,1063.1 Q556.1,1056.7 588.4,1063.1 Q579.5,1121.6 587.2,1178.8 Q556.1,1189.0 523.6,1178.8 Q532.5,1121.6 523.6,1063.1 Z" fill="#a6c2dc" opacity="0.85"/><polygon points="493.1,1087.2 589.7,1082.1 612.6,1105.5 516.5,1107.1" fill="#b3c0c9" opacity="0.92"/><polygon points="493.1,1087.2 516.5,1107.1 516.0,1171.9 488.5,1149.5" fill="#9aa3a9" /><polygon points="516.5,1107.1 612.6,1105.5 608.8,1168.6 516.0,1171.9" fill="#ccd6dd" opacity="0.9"/><ellipse cx="556.6" cy="1131.7" rx="20" ry="24" fill="#f3a58a" opacity="0.42" filter="url(#b4)"/></g><g><path d="M493.1,1087.2 L589.7,1082.1 L612.6,1105.5 L608.8,1168.6 L516.0,1171.9 L488.5,1149.5 Z M493.1,1087.2 L516.5,1107.1 L612.6,1105.5 M516.5,1107.1 L516.0,1171.9" fill="none" stroke="#2f3336" stroke-width="2.1" stroke-linejoin="round"/><path d="M541.1,1125.1 L525.9,1115.6" stroke="#e2a35e" stroke-width="1.6"/><circle cx="536.3" cy="1122.1" r="4.6" fill="#e8a75e"/><circle cx="535.3" cy="1121.1" r="1.8" fill="#f8d8a8"/><path d="M556.6,1138.4 L556.6,1121.3" stroke="#e2a35e" stroke-width="1.6"/><circle cx="556.6" cy="1133.0" r="4.6" fill="#e8a75e"/><circle cx="555.6" cy="1132.0" r="1.8" fill="#f8d8a8"/><path d="M574.5,1127.5 L578.3,1110.4" stroke="#e2a35e" stroke-width="1.6"/><circle cx="575.7" cy="1122.1" r="4.6" fill="#e8a75e"/><circle cx="574.7" cy="1121.1" r="1.8" fill="#f8d8a8"/><path d="M590.0,1127.1 L605.2,1117.6" stroke="#e2a35e" stroke-width="1.6"/><circle cx="594.8" cy="1124.1" r="4.6" fill="#e8a75e"/><circle cx="593.8" cy="1123.1" r="1.8" fill="#f8d8a8"/><path d="M543.7,1146.2 L538.0,1163.3" stroke="#e2a35e" stroke-width="1.6"/><circle cx="541.9" cy="1151.6" r="4.6" fill="#e8a75e"/><circle cx="540.9" cy="1150.6" r="1.8" fill="#f8d8a8"/><path d="M585.8,1156.4 L572.5,1145.0" stroke="#e2a35e" stroke-width="1.6"/><circle cx="581.6" cy="1152.8" r="4.6" fill="#e8a75e"/><circle cx="580.6" cy="1151.8" r="1.8" fill="#f8d8a8"/><circle cx="632.4" cy="1082.1" r="21.6" fill="#efefef" stroke="#3c3c3c" stroke-width="1.8"/><path d="M625.3,1070.7 L640.6,1070.7" stroke="#7c7c7c" stroke-width="2.6"/><path d="M637.5,1089.0 L647.4,1089.0 M619.7,1094.9 L630.9,1094.9" stroke="#6c6c6c" stroke-width="1.6"/></g>
<rect x="671.1" y="1051.6" width="187.4" height="135.3" fill="#fff" stroke="#474747" stroke-width="1.7"/>
<g><path d="M687.9,1062.5a2.55,2.55 0 1,0 5.1,0a2.55,2.55 0 1,0 -5.1,0M693.2,1062.5a2.55,2.55 0 1,0 5.1,0a2.55,2.55 0 1,0 -5.1,0M698.5,1062.5a2.55,2.55 0 1,0 5.1,0a2.55,2.55 0 1,0 -5.1,0M703.8,1062.5a2.55,2.55 0 1,0 5.1,0a2.55,2.55 0 1,0 -5.1,0M709.1,1062.5a2.55,2.55 0 1,0 5.1,0a2.55,2.55 0 1,0 -5.1,0M714.4,1062.5a2.55,2.55 0 1,0 5.1,0a2.55,2.55 0 1,0 -5.1,0M719.7,1062.5a2.55,2.55 0 1,0 5.1,0a2.55,2.55 0 1,0 -5.1,0M725.0,1062.5a2.55,2.55 0 1,0 5.1,0a2.55,2.55 0 1,0 -5.1,0M730.3,1062.5a2.55,2.55 0 1,0 5.1,0a2.55,2.55 0 1,0 -5.1,0M735.6,1062.5a2.55,2.55 0 1,0 5.1,0a2.55,2.55 0 1,0 -5.1,0M740.9,1062.5a2.55,2.55 0 1,0 5.1,0a2.55,2.55 0 1,0 -5.1,0M746.2,1062.5a2.55,2.55 0 1,0 5.1,0a2.55,2.55 0 1,0 -5.1,0M751.6,1062.5a2.55,2.55 0 1,0 5.1,0a2.55,2.55 0 1,0 -5.1,0M756.9,1062.5a2.55,2.55 0 1,0 5.1,0a2.55,2.55 0 1,0 -5.1,0M762.2,1062.5a2.55,2.55 0 1,0 5.1,0a2.55,2.55 0 1,0 -5.1,0M767.5,1062.5a2.55,2.55 0 1,0 5.1,0a2.55,2.55 0 1,0 -5.1,0M772.8,1062.5a2.55,2.55 0 1,0 5.1,0a2.55,2.55 0 1,0 -5.1,0M778.1,1062.5a2.55,2.55 0 1,0 5.1,0a2.55,2.55 0 1,0 -5.1,0M783.4,1062.5a2.55,2.55 0 1,0 5.1,0a2.55,2.55 0 1,0 -5.1,0M788.7,1062.5a2.55,2.55 0 1,0 5.1,0a2.55,2.55 0 1,0 -5.1,0M794.0,1062.5a2.55,2.55 0 1,0 5.1,0a2.55,2.55 0 1,0 -5.1,0M799.3,1062.5a2.55,2.55 0 1,0 5.1,0a2.55,2.55 0 1,0 -5.1,0M804.7,1062.5a2.55,2.55 0 1,0 5.1,0a2.55,2.55 0 1,0 -5.1,0M810.0,1062.5a2.55,2.55 0 1,0 5.1,0a2.55,2.55 0 1,0 -5.1,0M815.3,1062.5a2.55,2.55 0 1,0 5.1,0a2.55,2.55 0 1,0 -5.1,0M820.6,1062.5a2.55,2.55 0 1,0 5.1,0a2.55,2.55 0 1,0 -5.1,0M825.9,1062.5a2.55,2.55 0 1,0 5.1,0a2.55,2.55 0 1,0 -5.1,0M831.2,1062.5a2.55,2.55 0 1,0 5.1,0a2.55,2.55 0 1,0 -5.1,0M690.5,1068.2a2.55,2.55 0 1,0 5.1,0a2.55,2.55 0 1,0 -5.1,0M695.8,1068.2a2.55,2.55 0 1,0 5.1,0a2.55,2.55 0 1,0 -5.1,0M701.1,1068.2a2.55,2.55 0 1,0 5.1,0a2.55,2.55 0 1,0 -5.1,0M706.4,1068.2a2.55,2.55 0 1,0 5.1,0a2.55,2.55 0 1,0 -5.1,0M711.7,1068.2a2.55,2.55 0 1,0 5.1,0a2.55,2.55 0 1,0 -5.1,0M717.0,1068.2a2.55,2.55 0 1,0 5.1,0a2.55,2.55 0 1,0 -5.1,0M722.4,1068.2a2.55,2.55 0 1,0 5.1,0a2.55,2.55 0 1,0 -5.1,0M727.7,1068.2a2.55,2.55 0 1,0 5.1,0a2.55,2.55 0 1,0 -5.1,0M733.0,1068.2a2.55,2.55 0 1,0 5.1,0a2.55,2.55 0 1,0 -5.1,0M738.3,1068.2a2.55,2.55 0 1,0 5.1,0a2.55,2.55 0 1,0 -5.1,0M743.6,1068.2a2.55,2.55 0 1,0 5.1,0a2.55,2.55 0 1,0 -5.1,0M748.9,1068.2a2.55,2.55 0 1,0 5.1,0a2.55,2.55 0 1,0 -5.1,0M754.2,1068.2a2.55,2.55 0 1,0 5.1,0a2.55,2.55 0 1,0 -5.1,0M759.5,1068.2a2.55,2.55 0 1,0 5.1,0a2.55,2.55 0 1,0 -5.1,0M764.8,1068.2a2.55,2.55 0 1,0 5.1,0a2.55,2.55 0 1,0 -5.1,0M770.1,1068.2a2.55,2.55 0 1,0 5.1,0a2.55,2.55 0 1,0 -5.1,0M775.5,1068.2a2.55,2.55 0 1,0 5.1,0a2.55,2.55 0 1,0 -5.1,0M780.8,1068.2a2.55,2.55 0 1,0 5.1,0a2.55,2.55 0 1,0 -5.1,0M786.1,1068.2a2.55,2.55 0 1,0 5.1,0a2.55,2.55 0 1,0 -5.1,0M791.4,1068.2a2.55,2.55 0 1,0 5.1,0a2.55,2.55 0 1,0 -5.1,0M796.7,1068.2a2.55,2.55 0 1,0 5.1,0a2.55,2.55 0 1,0 -5.1,0M802.0,1068.2a2.55,2.55 0 1,0 5.1,0a2.55,2.55 0 1,0 -5.1,0M807.3,1068.2a2.55,2.55 0 1,0 5.1,0a2.55,2.55 0 1,0 -5.1,0M812.6,1068.2a2.55,2.55 0 1,0 5.1,0a2.55,2.55 0 1,0 -5.1,0M817.9,1068.2a2.55,2.55 0 1,0 5.1,0a2.55,2.55 0 1,0 -5.1,0M823.2,1068.2a2.55,2.55 0 1,0 5.1,0a2.55,2.55 0 1,0 -5.1,0M828.5,1068.2a2.55,2.55 0 1,0 5.1,0a2.55,2.55 0 1,0 -5.1,0M833.9,1068.2a2.55,2.55 0 1,0 5.1,0a2.55,2.55 0 1,0 -5.1,0M687.9,1073.8a2.55,2.55 0 1,0 5.1,0a2.55,2.55 0 1,0 -5.1,0M693.2,1073.8a2.55,2.55 0 1,0 5.1,0a2.55,2.55 0 1,0 -5.1,0M698.5,1073.8a2.55,2.55 0 1,0 5.1,0a2.55,2.55 0 1,0 -5.1,0M703.8,1073.8a2.55,2.55 0 1,0 5.1,0a2.55,2.55 0 1,0 -5.1,0M709.1,1073.8a2.55,2.55 0 1,0 5.1,0a2.55,2.55 0 1,0 -5.1,0M714.4,1073.8a2.55,2.55 0 1,0 5.1,0a2.55,2.55 0 1,0 -5.1,0M719.7,1073.8a2.55,2.55 0 1,0 5.1,0a2.55,2.55 0 1,0 -5.1,0M725.0,1073.8a2.55,2.55 0 1,0 5.1,0a2.55,2.55 0 1,0 -5.1,0M730.3,1073.8a2.55,2.55 0 1,0 5.1,0a2.55,2.55 0 1,0 -5.1,0M735.6,1073.8a2.55,2.55 0 1,0 5.1,0a2.55,2.55 0 1,0 -5.1,0M740.9,1073.8a2.55,2.55 0 1,0 5.1,0a2.55,2.55 0 1,0 -5.1,0M746.2,1073.8a2.55,2.55 0 1,0 5.1,0a2.55,2.55 0 1,0 -5.1,0M751.6,1073.8a2.55,2.55 0 1,0 5.1,0a2.55,2.55 0 1,0 -5.1,0M756.9,1073.8a2.55,2.55 0 1,0 5.1,0a2.55,2.55 0 1,0 -5.1,0M762.2,1073.8a2.55,2.55 0 1,0 5.1,0a2.55,2.55 0 1,0 -5.1,0M767.5,1073.8a2.55,2.55 0 1,0 5.1,0a2.55,2.55 0 1,0 -5.1,0M772.8,1073.8a2.55,2.55 0 1,0 5.1,0a2.55,2.55 0 1,0 -5.1,0M778.1,1073.8a2.55,2.55 0 1,0 5.1,0a2.55,2.55 0 1,0 -5.1,0M783.4,1073.8a2.55,2.55 0 1,0 5.1,0a2.55,2.55 0 1,0 -5.1,0M788.7,1073.8a2.55,2.55 0 1,0 5.1,0a2.55,2.55 0 1,0 -5.1,0M794.0,1073.8a2.55,2.55 0 1,0 5.1,0a2.55,2.55 0 1,0 -5.1,0M799.3,1073.8a2.55,2.55 0 1,0 5.1,0a2.55,2.55 0 1,0 -5.1,0M804.7,1073.8a2.55,2.55 0 1,0 5.1,0a2.55,2.55 0 1,0 -5.1,0M810.0,1073.8a2.55,2.55 0 1,0 5.1,0a2.55,2.55 0 1,0 -5.1,0M815.3,1073.8a2.55,2.55 0 1,0 5.1,0a2.55,2.55 0 1,0 -5.1,0M820.6,1073.8a2.55,2.55 0 1,0 5.1,0a2.55,2.55 0 1,0 -5.1,0M825.9,1073.8a2.55,2.55 0 1,0 5.1,0a2.55,2.55 0 1,0 -5.1,0M831.2,1073.8a2.55,2.55 0 1,0 5.1,0a2.55,2.55 0 1,0 -5.1,0M690.5,1079.5a2.55,2.55 0 1,0 5.1,0a2.55,2.55 0 1,0 -5.1,0M695.8,1079.5a2.55,2.55 0 1,0 5.1,0a2.55,2.55 0 1,0 -5.1,0M701.1,1079.5a2.55,2.55 0 1,0 5.1,0a2.55,2.55 0 1,0 -5.1,0M706.4,1079.5a2.55,2.55 0 1,0 5.1,0a2.55,2.55 0 1,0 -5.1,0M711.7,1079.5a2.55,2.55 0 1,0 5.1,0a2.55,2.55 0 1,0 -5.1,0M717.0,1079.5a2.55,2.55 0 1,0 5.1,0a2.55,2.55 0 1,0 -5.1,0M722.4,1079.5a2.55,2.55 0 1,0 5.1,0a2.55,2.55 0 1,0 -5.1,0M727.7,1079.5a2.55,2.55 0 1,0 5.1,0a2.55,2.55 0 1,0 -5.1,0M733.0,1079.5a2.55,2.55 0 1,0 5.1,0a2.55,2.55 0 1,0 -5.1,0M738.3,1079.5a2.55,2.55 0 1,0 5.1,0a2.55,2.55 0 1,0 -5.1,0M743.6,1079.5a2.55,2.55 0 1,0 5.1,0a2.55,2.55 0 1,0 -5.1,0M748.9,1079.5a2.55,2.55 0 1,0 5.1,0a2.55,2.55 0 1,0 -5.1,0M754.2,1079.5a2.55,2.55 0 1,0 5.1,0a2.55,2.55 0 1,0 -5.1,0M759.5,1079.5a2.55,2.55 0 1,0 5.1,0a2.55,2.55 0 1,0 -5.1,0M764.8,1079.5a2.55,2.55 0 1,0 5.1,0a2.55,2.55 0 1,0 -5.1,0M770.1,1079.5a2.55,2.55 0 1,0 5.1,0a2.55,2.55 0 1,0 -5.1,0M775.5,1079.5a2.55,2.55 0 1,0 5.1,0a2.55,2.55 0 1,0 -5.1,0M780.8,1079.5a2.55,2.55 0 1,0 5.1,0a2.55,2.55 0 1,0 -5.1,0M786.1,1079.5a2.55,2.55 0 1,0 5.1,0a2.55,2.55 0 1,0 -5.1,0M791.4,1079.5a2.55,2.55 0 1,0 5.1,0a2.55,2.55 0 1,0 -5.1,0M796.7,1079.5a2.55,2.55 0 1,0 5.1,0a2.55,2.55 0 1,0 -5.1,0M802.0,1079.5a2.55,2.55 0 1,0 5.1,0a2.55,2.55 0 1,0 -5.1,0M807.3,1079.5a2.55,2.55 0 1,0 5.1,0a2.55,2.55 0 1,0 -5.1,0M812.6,1079.5a2.55,2.55 0 1,0 5.1,0a2.55,2.55 0 1,0 -5.1,0M817.9,1079.5a2.55,2.55 0 1,0 5.1,0a2.55,2.55 0 1,0 -5.1,0M823.2,1079.5a2.55,2.55 0 1,0 5.1,0a2.55,2.55 0 1,0 -5.1,0M828.5,1079.5a2.55,2.55 0 1,0 5.1,0a2.55,2.55 0 1,0 -5.1,0M833.9,1079.5a2.55,2.55 0 1,0 5.1,0a2.55,2.55 0 1,0 -5.1,0M687.9,1085.1a2.55,2.55 0 1,0 5.1,0a2.55,2.55 0 1,0 -5.1,0M693.2,1085.1a2.55,2.55 0 1,0 5.1,0a2.55,2.55 0 1,0 -5.1,0M698.5,1085.1a2.55,2.55 0 1,0 5.1,0a2.55,2.55 0 1,0 -5.1,0M703.8,1085.1a2.55,2.55 0 1,0 5.1,0a2.55,2.55 0 1,0 -5.1,0M709.1,1085.1a2.55,2.55 0 1,0 5.1,0a2.55,2.55 0 1,0 -5.1,0M714.4,1085.1a2.55,2.55 0 1,0 5.1,0a2.55,2.55 0 1,0 -5.1,0M719.7,1085.1a2.55,2.55 0 1,0 5.1,0a2.55,2.55 0 1,0 -5.1,0M725.0,1085.1a2.55,2.55 0 1,0 5.1,0a2.55,2.55 0 1,0 -5.1,0M730.3,1085.1a2.55,2.55 0 1,0 5.1,0a2.55,2.55 0 1,0 -5.1,0M735.6,1085.1a2.55,2.55 0 1,0 5.1,0a2.55,2.55 0 1,0 -5.1,0M740.9,1085.1a2.55,2.55 0 1,0 5.1,0a2.55,2.55 0 1,0 -5.1,0M746.2,1085.1a2.55,2.55 0 1,0 5.1,0a2.55,2.55 0 1,0 -5.1,0M751.6,1085.1a2.55,2.55 0 1,0 5.1,0a2.55,2.55 0 1,0 -5.1,0M756.9,1085.1a2.55,2.55 0 1,0 5.1,0a2.55,2.55 0 1,0 -5.1,0M762.2,1085.1a2.55,2.55 0 1,0 5.1,0a2.55,2.55 0 1,0 -5.1,0M767.5,1085.1a2.55,2.55 0 1,0 5.1,0a2.55,2.55 0 1,0 -5.1,0M772.8,1085.1a2.55,2.55 0 1,0 5.1,0a2.55,2.55 0 1,0 -5.1,0M778.1,1085.1a2.55,2.55 0 1,0 5.1,0a2.55,2.55 0 1,0 -5.1,0M783.4,1085.1a2.55,2.55 0 1,0 5.1,0a2.55,2.55 0 1,0 -5.1,0M788.7,1085.1a2.55,2.55 0 1,0 5.1,0a2.55,2.55 0 1,0 -5.1,0M794.0,1085.1a2.55,2.55 0 1,0 5.1,0a2.55,2.55 0 1,0 -5.1,0M799.3,1085.1a2.55,2.55 0 1,0 5.1,0a2.55,2.55 0 1,0 -5.1,0M804.7,1085.1a2.55,2.55 0 1,0 5.1,0a2.55,2.55 0 1,0 -5.1,0M810.0,1085.1a2.55,2.55 0 1,0 5.1,0a2.55,2.55 0 1,0 -5.1,0M815.3,1085.1a2.55,2.55 0 1,0 5.1,0a2.55,2.55 0 1,0 -5.1,0M820.6,1085.1a2.55,2.55 0 1,0 5.1,0a2.55,2.55 0 1,0 -5.1,0M825.9,1085.1a2.55,2.55 0 1,0 5.1,0a2.55,2.55 0 1,0 -5.1,0M831.2,1085.1a2.55,2.55 0 1,0 5.1,0a2.55,2.55 0 1,0 -5.1,0M690.5,1090.8a2.55,2.55 0 1,0 5.1,0a2.55,2.55 0 1,0 -5.1,0M695.8,1090.8a2.55,2.55 0 1,0 5.1,0a2.55,2.55 0 1,0 -5.1,0M701.1,1090.8a2.55,2.55 0 1,0 5.1,0a2.55,2.55 0 1,0 -5.1,0M706.4,1090.8a2.55,2.55 0 1,0 5.1,0a2.55,2.55 0 1,0 -5.1,0M711.7,1090.8a2.55,2.55 0 1,0 5.1,0a2.55,2.55 0 1,0 -5.1,0M717.0,1090.8a2.55,2.55 0 1,0 5.1,0a2.55,2.55 0 1,0 -5.1,0M722.4,1090.8a2.55,2.55 0 1,0 5.1,0a2.55,2.55 0 1,0 -5.1,0M727.7,1090.8a2.55,2.55 0 1,0 5.1,0a2.55,2.55 0 1,0 -5.1,0M733.0,1090.8a2.55,2.55 0 1,0 5.1,0a2.55,2.55 0 1,0 -5.1,0M738.3,1090.8a2.55,2.55 0 1,0 5.1,0a2.55,2.55 0 1,0 -5.1,0M743.6,1090.8a2.55,2.55 0 1,0 5.1,0a2.55,2.55 0 1,0 -5.1,0M748.9,1090.8a2.55,2.55 0 1,0 5.1,0a2.55,2.55 0 1,0 -5.1,0M754.2,1090.8a2.55,2.55 0 1,0 5.1,0a2.55,2.55 0 1,0 -5.1,0M759.5,1090.8a2.55,2.55 0 1,0 5.1,0a2.55,2.55 0 1,0 -5.1,0M764.8,1090.8a2.55,2.55 0 1,0 5.1,0a2.55,2.55 0 1,0 -5.1,0M770.1,1090.8a2.55,2.55 0 1,0 5.1,0a2.55,2.55 0 1,0 -5.1,0M775.5,1090.8a2.55,2.55 0 1,0 5.1,0a2.55,2.55 0 1,0 -5.1,0M780.8,1090.8a2.55,2.55 0 1,0 5.1,0a2.55,2.55 0 1,0 -5.1,0M786.1,1090.8a2.55,2.55 0 1,0 5.1,0a2.55,2.55 0 1,0 -5.1,0M791.4,1090.8a2.55,2.55 0 1,0 5.1,0a2.55,2.55 0 1,0 -5.1,0M796.7,1090.8a2.55,2.55 0 1,0 5.1,0a2.55,2.55 0 1,0 -5.1,0M802.0,1090.8a2.55,2.55 0 1,0 5.1,0a2.55,2.55 0 1,0 -5.1,0M807.3,1090.8a2.55,2.55 0 1,0 5.1,0a2.55,2.55 0 1,0 -5.1,0M812.6,1090.8a2.55,2.55 0 1,0 5.1,0a2.55,2.55 0 1,0 -5.1,0M817.9,1090.8a2.55,2.55 0 1,0 5.1,0a2.55,2.55 0 1,0 -5.1,0M823.2,1090.8a2.55,2.55 0 1,0 5.1,0a2.55,2.55 0 1,0 -5.1,0M828.5,1090.8a2.55,2.55 0 1,0 5.1,0a2.55,2.55 0 1,0 -5.1,0M833.9,1090.8a2.55,2.55 0 1,0 5.1,0a2.55,2.55 0 1,0 -5.1,0M687.9,1096.4a2.55,2.55 0 1,0 5.1,0a2.55,2.55 0 1,0 -5.1,0M693.2,1096.4a2.55,2.55 0 1,0 5.1,0a2.55,2.55 0 1,0 -5.1,0M698.5,1096.4a2.55,2.55 0 1,0 5.1,0a2.55,2.55 0 1,0 -5.1,0M703.8,1096.4a2.55,2.55 0 1,0 5.1,0a2.55,2.55 0 1,0 -5.1,0M709.1,1096.4a2.55,2.55 0 1,0 5.1,0a2.55,2.55 0 1,0 -5.1,0M714.4,1096.4a2.55,2.55 0 1,0 5.1,0a2.55,2.55 0 1,0 -5.1,0M719.7,1096.4a2.55,2.55 0 1,0 5.1,0a2.55,2.55 0 1,0 -5.1,0M725.0,1096.4a2.55,2.55 0 1,0 5.1,0a2.55,2.55 0 1,0 -5.1,0M730.3,1096.4a2.55,2.55 0 1,0 5.1,0a2.55,2.55 0 1,0 -5.1,0M735.6,1096.4a2.55,2.55 0 1,0 5.1,0a2.55,2.55 0 1,0 -5.1,0M740.9,1096.4a2.55,2.55 0 1,0 5.1,0a2.55,2.55 0 1,0 -5.1,0M746.2,1096.4a2.55,2.55 0 1,0 5.1,0a2.55,2.55 0 1,0 -5.1,0M751.6,1096.4a2.55,2.55 0 1,0 5.1,0a2.55,2.55 0 1,0 -5.1,0M756.9,1096.4a2.55,2.55 0 1,0 5.1,0a2.55,2.55 0 1,0 -5.1,0M762.2,1096.4a2.55,2.55 0 1,0 5.1,0a2.55,2.55 0 1,0 -5.1,0M767.5,1096.4a2.55,2.55 0 1,0 5.1,0a2.55,2.55 0 1,0 -5.1,0M772.8,1096.4a2.55,2.55 0 1,0 5.1,0a2.55,2.55 0 1,0 -5.1,0M778.1,1096.4a2.55,2.55 0 1,0 5.1,0a2.55,2.55 0 1,0 -5.1,0M783.4,1096.4a2.55,2.55 0 1,0 5.1,0a2.55,2.55 0 1,0 -5.1,0M788.7,1096.4a2.55,2.55 0 1,0 5.1,0a2.55,2.55 0 1,0 -5.1,0M794.0,1096.4a2.55,2.55 0 1,0 5.1,0a2.55,2.55 0 1,0 -5.1,0M799.3,1096.4a2.55,2.55 0 1,0 5.1,0a2.55,2.55 0 1,0 -5.1,0M804.7,1096.4a2.55,2.55 0 1,0 5.1,0a2.55,2.55 0 1,0 -5.1,0M810.0,1096.4a2.55,2.55 0 1,0 5.1,0a2.55,2.55 0 1,0 -5.1,0M815.3,1096.4a2.55,2.55 0 1,0 5.1,0a2.55,2.55 0 1,0 -5.1,0M820.6,1096.4a2.55,2.55 0 1,0 5.1,0a2.55,2.55 0 1,0 -5.1,0M825.9,1096.4a2.55,2.55 0 1,0 5.1,0a2.55,2.55 0 1,0 -5.1,0M831.2,1096.4a2.55,2.55 0 1,0 5.1,0a2.55,2.55 0 1,0 -5.1,0M690.5,1102.0a2.55,2.55 0 1,0 5.1,0a2.55,2.55 0 1,0 -5.1,0M695.8,1102.0a2.55,2.55 0 1,0 5.1,0a2.55,2.55 0 1,0 -5.1,0M701.1,1102.0a2.55,2.55 0 1,0 5.1,0a2.55,2.55 0 1,0 -5.1,0M706.4,1102.0a2.55,2.55 0 1,0 5.1,0a2.55,2.55 0 1,0 -5.1,0M711.7,1102.0a2.55,2.55 0 1,0 5.1,0a2.55,2.55 0 1,0 -5.1,0M717.0,1102.0a2.55,2.55 0 1,0 5.1,0a2.55,2.55 0 1,0 -5.1,0M722.4,1102.0a2.55,2.55 0 1,0 5.1,0a2.55,2.55 0 1,0 -5.1,0M727.7,1102.0a2.55,2.55 0 1,0 5.1,0a2.55,2.55 0 1,0 -5.1,0M733.0,1102.0a2.55,2.55 0 1,0 5.1,0a2.55,2.55 0 1,0 -5.1,0M791.4,1102.0a2.55,2.55 0 1,0 5.1,0a2.55,2.55 0 1,0 -5.1,0M796.7,1102.0a2.55,2.55 0 1,0 5.1,0a2.55,2.55 0 1,0 -5.1,0M802.0,1102.0a2.55,2.55 0 1,0 5.1,0a2.55,2.55 0 1,0 -5.1,0M807.3,1102.0a2.55,2.55 0 1,0 5.1,0a2.55,2.55 0 1,0 -5.1,0M812.6,1102.0a2.55,2.55 0 1,0 5.1,0a2.55,2.55 0 1,0 -5.1,0M817.9,1102.0a2.55,2.55 0 1,0 5.1,0a2.55,2.55 0 1,0 -5.1,0M823.2,1102.0a2.55,2.55 0 1,0 5.1,0a2.55,2.55 0 1,0 -5.1,0M828.5,1102.0a2.55,2.55 0 1,0 5.1,0a2.55,2.55 0 1,0 -5.1,0M833.9,1102.0a2.55,2.55 0 1,0 5.1,0a2.55,2.55 0 1,0 -5.1,0M687.9,1107.7a2.55,2.55 0 1,0 5.1,0a2.55,2.55 0 1,0 -5.1,0M693.2,1107.7a2.55,2.55 0 1,0 5.1,0a2.55,2.55 0 1,0 -5.1,0M698.5,1107.7a2.55,2.55 0 1,0 5.1,0a2.55,2.55 0 1,0 -5.1,0M703.8,1107.7a2.55,2.55 0 1,0 5.1,0a2.55,2.55 0 1,0 -5.1,0M709.1,1107.7a2.55,2.55 0 1,0 5.1,0a2.55,2.55 0 1,0 -5.1,0M714.4,1107.7a2.55,2.55 0 1,0 5.1,0a2.55,2.55 0 1,0 -5.1,0M719.7,1107.7a2.55,2.55 0 1,0 5.1,0a2.55,2.55 0 1,0 -5.1,0M725.0,1107.7a2.55,2.55 0 1,0 5.1,0a2.55,2.55 0 1,0 -5.1,0M730.3,1107.7a2.55,2.55 0 1,0 5.1,0a2.55,2.55 0 1,0 -5.1,0M794.0,1107.7a2.55,2.55 0 1,0 5.1,0a2.55,2.55 0 1,0 -5.1,0M799.3,1107.7a2.55,2.55 0 1,0 5.1,0a2.55,2.55 0 1,0 -5.1,0M804.7,1107.7a2.55,2.55 0 1,0 5.1,0a2.55,2.55 0 1,0 -5.1,0M810.0,1107.7a2.55,2.55 0 1,0 5.1,0a2.55,2.55 0 1,0 -5.1,0M815.3,1107.7a2.55,2.55 0 1,0 5.1,0a2.55,2.55 0 1,0 -5.1,0M820.6,1107.7a2.55,2.55 0 1,0 5.1,0a2.55,2.55 0 1,0 -5.1,0M825.9,1107.7a2.55,2.55 0 1,0 5.1,0a2.55,2.55 0 1,0 -5.1,0M831.2,1107.7a2.55,2.55 0 1,0 5.1,0a2.55,2.55 0 1,0 -5.1,0M690.5,1113.3a2.55,2.55 0 1,0 5.1,0a2.55,2.55 0 1,0 -5.1,0M695.8,1113.3a2.55,2.55 0 1,0 5.1,0a2.55,2.55 0 1,0 -5.1,0M701.1,1113.3a2.55,2.55 0 1,0 5.1,0a2.55,2.55 0 1,0 -5.1,0M706.4,1113.3a2.55,2.55 0 1,0 5.1,0a2.55,2.55 0 1,0 -5.1,0M711.7,1113.3a2.55,2.55 0 1,0 5.1,0a2.55,2.55 0 1,0 -5.1,0M717.0,1113.3a2.55,2.55 0 1,0 5.1,0a2.55,2.55 0 1,0 -5.1,0M722.4,1113.3a2.55,2.55 0 1,0 5.1,0a2.55,2.55 0 1,0 -5.1,0M727.7,1113.3a2.55,2.55 0 1,0 5.1,0a2.55,2.55 0 1,0 -5.1,0M796.7,1113.3a2.55,2.55 0 1,0 5.1,0a2.55,2.55 0 1,0 -5.1,0M802.0,1113.3a2.55,2.55 0 1,0 5.1,0a2.55,2.55 0 1,0 -5.1,0M807.3,1113.3a2.55,2.55 0 1,0 5.1,0a2.55,2.55 0 1,0 -5.1,0M812.6,1113.3a2.55,2.55 0 1,0 5.1,0a2.55,2.55 0 1,0 -5.1,0M817.9,1113.3a2.55,2.55 0 1,0 5.1,0a2.55,2.55 0 1,0 -5.1,0M823.2,1113.3a2.55,2.55 0 1,0 5.1,0a2.55,2.55 0 1,0 -5.1,0M828.5,1113.3a2.55,2.55 0 1,0 5.1,0a2.55,2.55 0 1,0 -5.1,0M833.9,1113.3a2.55,2.55 0 1,0 5.1,0a2.55,2.55 0 1,0 -5.1,0M690.5,1124.7a2.55,2.55 0 1,0 5.1,0a2.55,2.55 0 1,0 -5.1,0M695.8,1124.7a2.55,2.55 0 1,0 5.1,0a2.55,2.55 0 1,0 -5.1,0M701.1,1124.7a2.55,2.55 0 1,0 5.1,0a2.55,2.55 0 1,0 -5.1,0M706.4,1124.7a2.55,2.55 0 1,0 5.1,0a2.55,2.55 0 1,0 -5.1,0M711.7,1124.7a2.55,2.55 0 1,0 5.1,0a2.55,2.55 0 1,0 -5.1,0M717.0,1124.7a2.55,2.55 0 1,0 5.1,0a2.55,2.55 0 1,0 -5.1,0M722.4,1124.7a2.55,2.55 0 1,0 5.1,0a2.55,2.55 0 1,0 -5.1,0M727.7,1124.7a2.55,2.55 0 1,0 5.1,0a2.55,2.55 0 1,0 -5.1,0M733.0,1124.7a2.55,2.55 0 1,0 5.1,0a2.55,2.55 0 1,0 -5.1,0M738.3,1124.7a2.55,2.55 0 1,0 5.1,0a2.55,2.55 0 1,0 -5.1,0M743.6,1124.7a2.55,2.55 0 1,0 5.1,0a2.55,2.55 0 1,0 -5.1,0M748.9,1124.7a2.55,2.55 0 1,0 5.1,0a2.55,2.55 0 1,0 -5.1,0M754.2,1124.7a2.55,2.55 0 1,0 5.1,0a2.55,2.55 0 1,0 -5.1,0M759.5,1124.7a2.55,2.55 0 1,0 5.1,0a2.55,2.55 0 1,0 -5.1,0M764.8,1124.7a2.55,2.55 0 1,0 5.1,0a2.55,2.55 0 1,0 -5.1,0M770.1,1124.7a2.55,2.55 0 1,0 5.1,0a2.55,2.55 0 1,0 -5.1,0M775.5,1124.7a2.55,2.55 0 1,0 5.1,0a2.55,2.55 0 1,0 -5.1,0M780.8,1124.7a2.55,2.55 0 1,0 5.1,0a2.55,2.55 0 1,0 -5.1,0M786.1,1124.7a2.55,2.55 0 1,0 5.1,0a2.55,2.55 0 1,0 -5.1,0M791.4,1124.7a2.55,2.55 0 1,0 5.1,0a2.55,2.55 0 1,0 -5.1,0M796.7,1124.7a2.55,2.55 0 1,0 5.1,0a2.55,2.55 0 1,0 -5.1,0M802.0,1124.7a2.55,2.55 0 1,0 5.1,0a2.55,2.55 0 1,0 -5.1,0M807.3,1124.7a2.55,2.55 0 1,0 5.1,0a2.55,2.55 0 1,0 -5.1,0M812.6,1124.7a2.55,2.55 0 1,0 5.1,0a2.55,2.55 0 1,0 -5.1,0M817.9,1124.7a2.55,2.55 0 1,0 5.1,0a2.55,2.55 0 1,0 -5.1,0M823.2,1124.7a2.55,2.55 0 1,0 5.1,0a2.55,2.55 0 1,0 -5.1,0M828.5,1124.7a2.55,2.55 0 1,0 5.1,0a2.55,2.55 0 1,0 -5.1,0M833.9,1124.7a2.55,2.55 0 1,0 5.1,0a2.55,2.55 0 1,0 -5.1,0M687.9,1130.3a2.55,2.55 0 1,0 5.1,0a2.55,2.55 0 1,0 -5.1,0M693.2,1130.3a2.55,2.55 0 1,0 5.1,0a2.55,2.55 0 1,0 -5.1,0M698.5,1130.3a2.55,2.55 0 1,0 5.1,0a2.55,2.55 0 1,0 -5.1,0M703.8,1130.3a2.55,2.55 0 1,0 5.1,0a2.55,2.55 0 1,0 -5.1,0M709.1,1130.3a2.55,2.55 0 1,0 5.1,0a2.55,2.55 0 1,0 -5.1,0M714.4,1130.3a2.55,2.55 0 1,0 5.1,0a2.55,2.55 0 1,0 -5.1,0M719.7,1130.3a2.55,2.55 0 1,0 5.1,0a2.55,2.55 0 1,0 -5.1,0M725.0,1130.3a2.55,2.55 0 1,0 5.1,0a2.55,2.55 0 1,0 -5.1,0M730.3,1130.3a2.55,2.55 0 1,0 5.1,0a2.55,2.55 0 1,0 -5.1,0M735.6,1130.3a2.55,2.55 0 1,0 5.1,0a2.55,2.55 0 1,0 -5.1,0M740.9,1130.3a2.55,2.55 0 1,0 5.1,0a2.55,2.55 0 1,0 -5.1,0M746.2,1130.3a2.55,2.55 0 1,0 5.1,0a2.55,2.55 0 1,0 -5.1,0M751.6,1130.3a2.55,2.55 0 1,0 5.1,0a2.55,2.55 0 1,0 -5.1,0M756.9,1130.3a2.55,2.55 0 1,0 5.1,0a2.55,2.55 0 1,0 -5.1,0M762.2,1130.3a2.55,2.55 0 1,0 5.1,0a2.55,2.55 0 1,0 -5.1,0M767.5,1130.3a2.55,2.55 0 1,0 5.1,0a2.55,2.55 0 1,0 -5.1,0M772.8,1130.3a2.55,2.55 0 1,0 5.1,0a2.55,2.55 0 1,0 -5.1,0M778.1,1130.3a2.55,2.55 0 1,0 5.1,0a2.55,2.55 0 1,0 -5.1,0M783.4,1130.3a2.55,2.55 0 1,0 5.1,0a2.55,2.55 0 1,0 -5.1,0M788.7,1130.3a2.55,2.55 0 1,0 5.1,0a2.55,2.55 0 1,0 -5.1,0M794.0,1130.3a2.55,2.55 0 1,0 5.1,0a2.55,2.55 0 1,0 -5.1,0M799.3,1130.3a2.55,2.55 0 1,0 5.1,0a2.55,2.55 0 1,0 -5.1,0M804.7,1130.3a2.55,2.55 0 1,0 5.1,0a2.55,2.55 0 1,0 -5.1,0M810.0,1130.3a2.55,2.55 0 1,0 5.1,0a2.55,2.55 0 1,0 -5.1,0M815.3,1130.3a2.55,2.55 0 1,0 5.1,0a2.55,2.55 0 1,0 -5.1,0M820.6,1130.3a2.55,2.55 0 1,0 5.1,0a2.55,2.55 0 1,0 -5.1,0M825.9,1130.3a2.55,2.55 0 1,0 5.1,0a2.55,2.55 0 1,0 -5.1,0M831.2,1130.3a2.55,2.55 0 1,0 5.1,0a2.55,2.55 0 1,0 -5.1,0M690.5,1136.0a2.55,2.55 0 1,0 5.1,0a2.55,2.55 0 1,0 -5.1,0M695.8,1136.0a2.55,2.55 0 1,0 5.1,0a2.55,2.55 0 1,0 -5.1,0M701.1,1136.0a2.55,2.55 0 1,0 5.1,0a2.55,2.55 0 1,0 -5.1,0M706.4,1136.0a2.55,2.55 0 1,0 5.1,0a2.55,2.55 0 1,0 -5.1,0M711.7,1136.0a2.55,2.55 0 1,0 5.1,0a2.55,2.55 0 1,0 -5.1,0M717.0,1136.0a2.55,2.55 0 1,0 5.1,0a2.55,2.55 0 1,0 -5.1,0M722.4,1136.0a2.55,2.55 0 1,0 5.1,0a2.55,2.55 0 1,0 -5.1,0M727.7,1136.0a2.55,2.55 0 1,0 5.1,0a2.55,2.55 0 1,0 -5.1,0M733.0,1136.0a2.55,2.55 0 1,0 5.1,0a2.55,2.55 0 1,0 -5.1,0M738.3,1136.0a2.55,2.55 0 1,0 5.1,0a2.55,2.55 0 1,0 -5.1,0M743.6,1136.0a2.55,2.55 0 1,0 5.1,0a2.55,2.55 0 1,0 -5.1,0M748.9,1136.0a2.55,2.55 0 1,0 5.1,0a2.55,2.55 0 1,0 -5.1,0M754.2,1136.0a2.55,2.55 0 1,0 5.1,0a2.55,2.55 0 1,0 -5.1,0M759.5,1136.0a2.55,2.55 0 1,0 5.1,0a2.55,2.55 0 1,0 -5.1,0M764.8,1136.0a2.55,2.55 0 1,0 5.1,0a2.55,2.55 0 1,0 -5.1,0M770.1,1136.0a2.55,2.55 0 1,0 5.1,0a2.55,2.55 0 1,0 -5.1,0M775.5,1136.0a2.55,2.55 0 1,0 5.1,0a2.55,2.55 0 1,0 -5.1,0M780.8,1136.0a2.55,2.55 0 1,0 5.1,0a2.55,2.55 0 1,0 -5.1,0M786.1,1136.0a2.55,2.55 0 1,0 5.1,0a2.55,2.55 0 1,0 -5.1,0M791.4,1136.0a2.55,2.55 0 1,0 5.1,0a2.55,2.55 0 1,0 -5.1,0M796.7,1136.0a2.55,2.55 0 1,0 5.1,0a2.55,2.55 0 1,0 -5.1,0M802.0,1136.0a2.55,2.55 0 1,0 5.1,0a2.55,2.55 0 1,0 -5.1,0M807.3,1136.0a2.55,2.55 0 1,0 5.1,0a2.55,2.55 0 1,0 -5.1,0M812.6,1136.0a2.55,2.55 0 1,0 5.1,0a2.55,2.55 0 1,0 -5.1,0M817.9,1136.0a2.55,2.55 0 1,0 5.1,0a2.55,2.55 0 1,0 -5.1,0M823.2,1136.0a2.55,2.55 0 1,0 5.1,0a2.55,2.55 0 1,0 -5.1,0M828.5,1136.0a2.55,2.55 0 1,0 5.1,0a2.55,2.55 0 1,0 -5.1,0M833.9,1136.0a2.55,2.55 0 1,0 5.1,0a2.55,2.55 0 1,0 -5.1,0M687.9,1141.6a2.55,2.55 0 1,0 5.1,0a2.55,2.55 0 1,0 -5.1,0M693.2,1141.6a2.55,2.55 0 1,0 5.1,0a2.55,2.55 0 1,0 -5.1,0M698.5,1141.6a2.55,2.55 0 1,0 5.1,0a2.55,2.55 0 1,0 -5.1,0M703.8,1141.6a2.55,2.55 0 1,0 5.1,0a2.55,2.55 0 1,0 -5.1,0M709.1,1141.6a2.55,2.55 0 1,0 5.1,0a2.55,2.55 0 1,0 -5.1,0M714.4,1141.6a2.55,2.55 0 1,0 5.1,0a2.55,2.55 0 1,0 -5.1,0M719.7,1141.6a2.55,2.55 0 1,0 5.1,0a2.55,2.55 0 1,0 -5.1,0M725.0,1141.6a2.55,2.55 0 1,0 5.1,0a2.55,2.55 0 1,0 -5.1,0M730.3,1141.6a2.55,2.55 0 1,0 5.1,0a2.55,2.55 0 1,0 -5.1,0M735.6,1141.6a2.55,2.55 0 1,0 5.1,0a2.55,2.55 0 1,0 -5.1,0M740.9,1141.6a2.55,2.55 0 1,0 5.1,0a2.55,2.55 0 1,0 -5.1,0M746.2,1141.6a2.55,2.55 0 1,0 5.1,0a2.55,2.55 0 1,0 -5.1,0M751.6,1141.6a2.55,2.55 0 1,0 5.1,0a2.55,2.55 0 1,0 -5.1,0M756.9,1141.6a2.55,2.55 0 1,0 5.1,0a2.55,2.55 0 1,0 -5.1,0M762.2,1141.6a2.55,2.55 0 1,0 5.1,0a2.55,2.55 0 1,0 -5.1,0M767.5,1141.6a2.55,2.55 0 1,0 5.1,0a2.55,2.55 0 1,0 -5.1,0M772.8,1141.6a2.55,2.55 0 1,0 5.1,0a2.55,2.55 0 1,0 -5.1,0M778.1,1141.6a2.55,2.55 0 1,0 5.1,0a2.55,2.55 0 1,0 -5.1,0M783.4,1141.6a2.55,2.55 0 1,0 5.1,0a2.55,2.55 0 1,0 -5.1,0M788.7,1141.6a2.55,2.55 0 1,0 5.1,0a2.55,2.55 0 1,0 -5.1,0M794.0,1141.6a2.55,2.55 0 1,0 5.1,0a2.55,2.55 0 1,0 -5.1,0M799.3,1141.6a2.55,2.55 0 1,0 5.1,0a2.55,2.55 0 1,0 -5.1,0M804.7,1141.6a2.55,2.55 0 1,0 5.1,0a2.55,2.55 0 1,0 -5.1,0M810.0,1141.6a2.55,2.55 0 1,0 5.1,0a2.55,2.55 0 1,0 -5.1,0M815.3,1141.6a2.55,2.55 0 1,0 5.1,0a2.55,2.55 0 1,0 -5.1,0M820.6,1141.6a2.55,2.55 0 1,0 5.1,0a2.55,2.55 0 1,0 -5.1,0M825.9,1141.6a2.55,2.55 0 1,0 5.1,0a2.55,2.55 0 1,0 -5.1,0M831.2,1141.6a2.55,2.55 0 1,0 5.1,0a2.55,2.55 0 1,0 -5.1,0M690.5,1147.2a2.55,2.55 0 1,0 5.1,0a2.55,2.55 0 1,0 -5.1,0M695.8,1147.2a2.55,2.55 0 1,0 5.1,0a2.55,2.55 0 1,0 -5.1,0M701.1,1147.2a2.55,2.55 0 1,0 5.1,0a2.55,2.55 0 1,0 -5.1,0M706.4,1147.2a2.55,2.55 0 1,0 5.1,0a2.55,2.55 0 1,0 -5.1,0M711.7,1147.2a2.55,2.55 0 1,0 5.1,0a2.55,2.55 0 1,0 -5.1,0M717.0,1147.2a2.55,2.55 0 1,0 5.1,0a2.55,2.55 0 1,0 -5.1,0M722.4,1147.2a2.55,2.55 0 1,0 5.1,0a2.55,2.55 0 1,0 -5.1,0M727.7,1147.2a2.55,2.55 0 1,0 5.1,0a2.55,2.55 0 1,0 -5.1,0M733.0,1147.2a2.55,2.55 0 1,0 5.1,0a2.55,2.55 0 1,0 -5.1,0M738.3,1147.2a2.55,2.55 0 1,0 5.1,0a2.55,2.55 0 1,0 -5.1,0M743.6,1147.2a2.55,2.55 0 1,0 5.1,0a2.55,2.55 0 1,0 -5.1,0M748.9,1147.2a2.55,2.55 0 1,0 5.1,0a2.55,2.55 0 1,0 -5.1,0M754.2,1147.2a2.55,2.55 0 1,0 5.1,0a2.55,2.55 0 1,0 -5.1,0M759.5,1147.2a2.55,2.55 0 1,0 5.1,0a2.55,2.55 0 1,0 -5.1,0M764.8,1147.2a2.55,2.55 0 1,0 5.1,0a2.55,2.55 0 1,0 -5.1,0M770.1,1147.2a2.55,2.55 0 1,0 5.1,0a2.55,2.55 0 1,0 -5.1,0M775.5,1147.2a2.55,2.55 0 1,0 5.1,0a2.55,2.55 0 1,0 -5.1,0M780.8,1147.2a2.55,2.55 0 1,0 5.1,0a2.55,2.55 0 1,0 -5.1,0M786.1,1147.2a2.55,2.55 0 1,0 5.1,0a2.55,2.55 0 1,0 -5.1,0M791.4,1147.2a2.55,2.55 0 1,0 5.1,0a2.55,2.55 0 1,0 -5.1,0M796.7,1147.2a2.55,2.55 0 1,0 5.1,0a2.55,2.55 0 1,0 -5.1,0M802.0,1147.2a2.55,2.55 0 1,0 5.1,0a2.55,2.55 0 1,0 -5.1,0M807.3,1147.2a2.55,2.55 0 1,0 5.1,0a2.55,2.55 0 1,0 -5.1,0M812.6,1147.2a2.55,2.55 0 1,0 5.1,0a2.55,2.55 0 1,0 -5.1,0M817.9,1147.2a2.55,2.55 0 1,0 5.1,0a2.55,2.55 0 1,0 -5.1,0M823.2,1147.2a2.55,2.55 0 1,0 5.1,0a2.55,2.55 0 1,0 -5.1,0M828.5,1147.2a2.55,2.55 0 1,0 5.1,0a2.55,2.55 0 1,0 -5.1,0M833.9,1147.2a2.55,2.55 0 1,0 5.1,0a2.55,2.55 0 1,0 -5.1,0M687.9,1152.9a2.55,2.55 0 1,0 5.1,0a2.55,2.55 0 1,0 -5.1,0M693.2,1152.9a2.55,2.55 0 1,0 5.1,0a2.55,2.55 0 1,0 -5.1,0M698.5,1152.9a2.55,2.55 0 1,0 5.1,0a2.55,2.55 0 1,0 -5.1,0M703.8,1152.9a2.55,2.55 0 1,0 5.1,0a2.55,2.55 0 1,0 -5.1,0M709.1,1152.9a2.55,2.55 0 1,0 5.1,0a2.55,2.55 0 1,0 -5.1,0M714.4,1152.9a2.55,2.55 0 1,0 5.1,0a2.55,2.55 0 1,0 -5.1,0M719.7,1152.9a2.55,2.55 0 1,0 5.1,0a2.55,2.55 0 1,0 -5.1,0M725.0,1152.9a2.55,2.55 0 1,0 5.1,0a2.55,2.55 0 1,0 -5.1,0M730.3,1152.9a2.55,2.55 0 1,0 5.1,0a2.55,2.55 0 1,0 -5.1,0M735.6,1152.9a2.55,2.55 0 1,0 5.1,0a2.55,2.55 0 1,0 -5.1,0M740.9,1152.9a2.55,2.55 0 1,0 5.1,0a2.55,2.55 0 1,0 -5.1,0M746.2,1152.9a2.55,2.55 0 1,0 5.1,0a2.55,2.55 0 1,0 -5.1,0M751.6,1152.9a2.55,2.55 0 1,0 5.1,0a2.55,2.55 0 1,0 -5.1,0M756.9,1152.9a2.55,2.55 0 1,0 5.1,0a2.55,2.55 0 1,0 -5.1,0M762.2,1152.9a2.55,2.55 0 1,0 5.1,0a2.55,2.55 0 1,0 -5.1,0M767.5,1152.9a2.55,2.55 0 1,0 5.1,0a2.55,2.55 0 1,0 -5.1,0M772.8,1152.9a2.55,2.55 0 1,0 5.1,0a2.55,2.55 0 1,0 -5.1,0M778.1,1152.9a2.55,2.55 0 1,0 5.1,0a2.55,2.55 0 1,0 -5.1,0M783.4,1152.9a2.55,2.55 0 1,0 5.1,0a2.55,2.55 0 1,0 -5.1,0M788.7,1152.9a2.55,2.55 0 1,0 5.1,0a2.55,2.55 0 1,0 -5.1,0M794.0,1152.9a2.55,2.55 0 1,0 5.1,0a2.55,2.55 0 1,0 -5.1,0M799.3,1152.9a2.55,2.55 0 1,0 5.1,0a2.55,2.55 0 1,0 -5.1,0M804.7,1152.9a2.55,2.55 0 1,0 5.1,0a2.55,2.55 0 1,0 -5.1,0M810.0,1152.9a2.55,2.55 0 1,0 5.1,0a2.55,2.55 0 1,0 -5.1,0M815.3,1152.9a2.55,2.55 0 1,0 5.1,0a2.55,2.55 0 1,0 -5.1,0M820.6,1152.9a2.55,2.55 0 1,0 5.1,0a2.55,2.55 0 1,0 -5.1,0M825.9,1152.9a2.55,2.55 0 1,0 5.1,0a2.55,2.55 0 1,0 -5.1,0M831.2,1152.9a2.55,2.55 0 1,0 5.1,0a2.55,2.55 0 1,0 -5.1,0M690.5,1158.5a2.55,2.55 0 1,0 5.1,0a2.55,2.55 0 1,0 -5.1,0M695.8,1158.5a2.55,2.55 0 1,0 5.1,0a2.55,2.55 0 1,0 -5.1,0M701.1,1158.5a2.55,2.55 0 1,0 5.1,0a2.55,2.55 0 1,0 -5.1,0M706.4,1158.5a2.55,2.55 0 1,0 5.1,0a2.55,2.55 0 1,0 -5.1,0M711.7,1158.5a2.55,2.55 0 1,0 5.1,0a2.55,2.55 0 1,0 -5.1,0M717.0,1158.5a2.55,2.55 0 1,0 5.1,0a2.55,2.55 0 1,0 -5.1,0M722.4,1158.5a2.55,2.55 0 1,0 5.1,0a2.55,2.55 0 1,0 -5.1,0M727.7,1158.5a2.55,2.55 0 1,0 5.1,0a2.55,2.55 0 1,0 -5.1,0M733.0,1158.5a2.55,2.55 0 1,0 5.1,0a2.55,2.55 0 1,0 -5.1,0M738.3,1158.5a2.55,2.55 0 1,0 5.1,0a2.55,2.55 0 1,0 -5.1,0M743.6,1158.5a2.55,2.55 0 1,0 5.1,0a2.55,2.55 0 1,0 -5.1,0M748.9,1158.5a2.55,2.55 0 1,0 5.1,0a2.55,2.55 0 1,0 -5.1,0M754.2,1158.5a2.55,2.55 0 1,0 5.1,0a2.55,2.55 0 1,0 -5.1,0M759.5,1158.5a2.55,2.55 0 1,0 5.1,0a2.55,2.55 0 1,0 -5.1,0M764.8,1158.5a2.55,2.55 0 1,0 5.1,0a2.55,2.55 0 1,0 -5.1,0M770.1,1158.5a2.55,2.55 0 1,0 5.1,0a2.55,2.55 0 1,0 -5.1,0M775.5,1158.5a2.55,2.55 0 1,0 5.1,0a2.55,2.55 0 1,0 -5.1,0M780.8,1158.5a2.55,2.55 0 1,0 5.1,0a2.55,2.55 0 1,0 -5.1,0M786.1,1158.5a2.55,2.55 0 1,0 5.1,0a2.55,2.55 0 1,0 -5.1,0M791.4,1158.5a2.55,2.55 0 1,0 5.1,0a2.55,2.55 0 1,0 -5.1,0M796.7,1158.5a2.55,2.55 0 1,0 5.1,0a2.55,2.55 0 1,0 -5.1,0M802.0,1158.5a2.55,2.55 0 1,0 5.1,0a2.55,2.55 0 1,0 -5.1,0M807.3,1158.5a2.55,2.55 0 1,0 5.1,0a2.55,2.55 0 1,0 -5.1,0M812.6,1158.5a2.55,2.55 0 1,0 5.1,0a2.55,2.55 0 1,0 -5.1,0M817.9,1158.5a2.55,2.55 0 1,0 5.1,0a2.55,2.55 0 1,0 -5.1,0M823.2,1158.5a2.55,2.55 0 1,0 5.1,0a2.55,2.55 0 1,0 -5.1,0M828.5,1158.5a2.55,2.55 0 1,0 5.1,0a2.55,2.55 0 1,0 -5.1,0M833.9,1158.5a2.55,2.55 0 1,0 5.1,0a2.55,2.55 0 1,0 -5.1,0M687.9,1164.2a2.55,2.55 0 1,0 5.1,0a2.55,2.55 0 1,0 -5.1,0M693.2,1164.2a2.55,2.55 0 1,0 5.1,0a2.55,2.55 0 1,0 -5.1,0M698.5,1164.2a2.55,2.55 0 1,0 5.1,0a2.55,2.55 0 1,0 -5.1,0M703.8,1164.2a2.55,2.55 0 1,0 5.1,0a2.55,2.55 0 1,0 -5.1,0M709.1,1164.2a2.55,2.55 0 1,0 5.1,0a2.55,2.55 0 1,0 -5.1,0M714.4,1164.2a2.55,2.55 0 1,0 5.1,0a2.55,2.55 0 1,0 -5.1,0M719.7,1164.2a2.55,2.55 0 1,0 5.1,0a2.55,2.55 0 1,0 -5.1,0M725.0,1164.2a2.55,2.55 0 1,0 5.1,0a2.55,2.55 0 1,0 -5.1,0M730.3,1164.2a2.55,2.55 0 1,0 5.1,0a2.55,2.55 0 1,0 -5.1,0M735.6,1164.2a2.55,2.55 0 1,0 5.1,0a2.55,2.55 0 1,0 -5.1,0M740.9,1164.2a2.55,2.55 0 1,0 5.1,0a2.55,2.55 0 1,0 -5.1,0M746.2,1164.2a2.55,2.55 0 1,0 5.1,0a2.55,2.55 0 1,0 -5.1,0M751.6,1164.2a2.55,2.55 0 1,0 5.1,0a2.55,2.55 0 1,0 -5.1,0M756.9,1164.2a2.55,2.55 0 1,0 5.1,0a2.55,2.55 0 1,0 -5.1,0M762.2,1164.2a2.55,2.55 0 1,0 5.1,0a2.55,2.55 0 1,0 -5.1,0M767.5,1164.2a2.55,2.55 0 1,0 5.1,0a2.55,2.55 0 1,0 -5.1,0M772.8,1164.2a2.55,2.55 0 1,0 5.1,0a2.55,2.55 0 1,0 -5.1,0M778.1,1164.2a2.55,2.55 0 1,0 5.1,0a2.55,2.55 0 1,0 -5.1,0M783.4,1164.2a2.55,2.55 0 1,0 5.1,0a2.55,2.55 0 1,0 -5.1,0M788.7,1164.2a2.55,2.55 0 1,0 5.1,0a2.55,2.55 0 1,0 -5.1,0M794.0,1164.2a2.55,2.55 0 1,0 5.1,0a2.55,2.55 0 1,0 -5.1,0M799.3,1164.2a2.55,2.55 0 1,0 5.1,0a2.55,2.55 0 1,0 -5.1,0M804.7,1164.2a2.55,2.55 0 1,0 5.1,0a2.55,2.55 0 1,0 -5.1,0M810.0,1164.2a2.55,2.55 0 1,0 5.1,0a2.55,2.55 0 1,0 -5.1,0M815.3,1164.2a2.55,2.55 0 1,0 5.1,0a2.55,2.55 0 1,0 -5.1,0M820.6,1164.2a2.55,2.55 0 1,0 5.1,0a2.55,2.55 0 1,0 -5.1,0M825.9,1164.2a2.55,2.55 0 1,0 5.1,0a2.55,2.55 0 1,0 -5.1,0M831.2,1164.2a2.55,2.55 0 1,0 5.1,0a2.55,2.55 0 1,0 -5.1,0M690.5,1169.8a2.55,2.55 0 1,0 5.1,0a2.55,2.55 0 1,0 -5.1,0M695.8,1169.8a2.55,2.55 0 1,0 5.1,0a2.55,2.55 0 1,0 -5.1,0M701.1,1169.8a2.55,2.55 0 1,0 5.1,0a2.55,2.55 0 1,0 -5.1,0M706.4,1169.8a2.55,2.55 0 1,0 5.1,0a2.55,2.55 0 1,0 -5.1,0M711.7,1169.8a2.55,2.55 0 1,0 5.1,0a2.55,2.55 0 1,0 -5.1,0M717.0,1169.8a2.55,2.55 0 1,0 5.1,0a2.55,2.55 0 1,0 -5.1,0M722.4,1169.8a2.55,2.55 0 1,0 5.1,0a2.55,2.55 0 1,0 -5.1,0M727.7,1169.8a2.55,2.55 0 1,0 5.1,0a2.55,2.55 0 1,0 -5.1,0M733.0,1169.8a2.55,2.55 0 1,0 5.1,0a2.55,2.55 0 1,0 -5.1,0M738.3,1169.8a2.55,2.55 0 1,0 5.1,0a2.55,2.55 0 1,0 -5.1,0M743.6,1169.8a2.55,2.55 0 1,0 5.1,0a2.55,2.55 0 1,0 -5.1,0M748.9,1169.8a2.55,2.55 0 1,0 5.1,0a2.55,2.55 0 1,0 -5.1,0M754.2,1169.8a2.55,2.55 0 1,0 5.1,0a2.55,2.55 0 1,0 -5.1,0M759.5,1169.8a2.55,2.55 0 1,0 5.1,0a2.55,2.55 0 1,0 -5.1,0M764.8,1169.8a2.55,2.55 0 1,0 5.1,0a2.55,2.55 0 1,0 -5.1,0M770.1,1169.8a2.55,2.55 0 1,0 5.1,0a2.55,2.55 0 1,0 -5.1,0M775.5,1169.8a2.55,2.55 0 1,0 5.1,0a2.55,2.55 0 1,0 -5.1,0M780.8,1169.8a2.55,2.55 0 1,0 5.1,0a2.55,2.55 0 1,0 -5.1,0M786.1,1169.8a2.55,2.55 0 1,0 5.1,0a2.55,2.55 0 1,0 -5.1,0M791.4,1169.8a2.55,2.55 0 1,0 5.1,0a2.55,2.55 0 1,0 -5.1,0M796.7,1169.8a2.55,2.55 0 1,0 5.1,0a2.55,2.55 0 1,0 -5.1,0M802.0,1169.8a2.55,2.55 0 1,0 5.1,0a2.55,2.55 0 1,0 -5.1,0M807.3,1169.8a2.55,2.55 0 1,0 5.1,0a2.55,2.55 0 1,0 -5.1,0M812.6,1169.8a2.55,2.55 0 1,0 5.1,0a2.55,2.55 0 1,0 -5.1,0M817.9,1169.8a2.55,2.55 0 1,0 5.1,0a2.55,2.55 0 1,0 -5.1,0M823.2,1169.8a2.55,2.55 0 1,0 5.1,0a2.55,2.55 0 1,0 -5.1,0M828.5,1169.8a2.55,2.55 0 1,0 5.1,0a2.55,2.55 0 1,0 -5.1,0M833.9,1169.8a2.55,2.55 0 1,0 5.1,0a2.55,2.55 0 1,0 -5.1,0M687.9,1175.5a2.55,2.55 0 1,0 5.1,0a2.55,2.55 0 1,0 -5.1,0M693.2,1175.5a2.55,2.55 0 1,0 5.1,0a2.55,2.55 0 1,0 -5.1,0M698.5,1175.5a2.55,2.55 0 1,0 5.1,0a2.55,2.55 0 1,0 -5.1,0M703.8,1175.5a2.55,2.55 0 1,0 5.1,0a2.55,2.55 0 1,0 -5.1,0M709.1,1175.5a2.55,2.55 0 1,0 5.1,0a2.55,2.55 0 1,0 -5.1,0M714.4,1175.5a2.55,2.55 0 1,0 5.1,0a2.55,2.55 0 1,0 -5.1,0M719.7,1175.5a2.55,2.55 0 1,0 5.1,0a2.55,2.55 0 1,0 -5.1,0M725.0,1175.5a2.55,2.55 0 1,0 5.1,0a2.55,2.55 0 1,0 -5.1,0M730.3,1175.5a2.55,2.55 0 1,0 5.1,0a2.55,2.55 0 1,0 -5.1,0M735.6,1175.5a2.55,2.55 0 1,0 5.1,0a2.55,2.55 0 1,0 -5.1,0M740.9,1175.5a2.55,2.55 0 1,0 5.1,0a2.55,2.55 0 1,0 -5.1,0M746.2,1175.5a2.55,2.55 0 1,0 5.1,0a2.55,2.55 0 1,0 -5.1,0M751.6,1175.5a2.55,2.55 0 1,0 5.1,0a2.55,2.55 0 1,0 -5.1,0M756.9,1175.5a2.55,2.55 0 1,0 5.1,0a2.55,2.55 0 1,0 -5.1,0M762.2,1175.5a2.55,2.55 0 1,0 5.1,0a2.55,2.55 0 1,0 -5.1,0M767.5,1175.5a2.55,2.55 0 1,0 5.1,0a2.55,2.55 0 1,0 -5.1,0M772.8,1175.5a2.55,2.55 0 1,0 5.1,0a2.55,2.55 0 1,0 -5.1,0M778.1,1175.5a2.55,2.55 0 1,0 5.1,0a2.55,2.55 0 1,0 -5.1,0M783.4,1175.5a2.55,2.55 0 1,0 5.1,0a2.55,2.55 0 1,0 -5.1,0M788.7,1175.5a2.55,2.55 0 1,0 5.1,0a2.55,2.55 0 1,0 -5.1,0M794.0,1175.5a2.55,2.55 0 1,0 5.1,0a2.55,2.55 0 1,0 -5.1,0M799.3,1175.5a2.55,2.55 0 1,0 5.1,0a2.55,2.55 0 1,0 -5.1,0M804.7,1175.5a2.55,2.55 0 1,0 5.1,0a2.55,2.55 0 1,0 -5.1,0M810.0,1175.5a2.55,2.55 0 1,0 5.1,0a2.55,2.55 0 1,0 -5.1,0M815.3,1175.5a2.55,2.55 0 1,0 5.1,0a2.55,2.55 0 1,0 -5.1,0M820.6,1175.5a2.55,2.55 0 1,0 5.1,0a2.55,2.55 0 1,0 -5.1,0M825.9,1175.5a2.55,2.55 0 1,0 5.1,0a2.55,2.55 0 1,0 -5.1,0M831.2,1175.5a2.55,2.55 0 1,0 5.1,0a2.55,2.55 0 1,0 -5.1,0" fill="#3d8bd1"/><path d="M738.3,1102.0a2.55,2.55 0 1,0 5.1,0a2.55,2.55 0 1,0 -5.1,0M743.6,1102.0a2.55,2.55 0 1,0 5.1,0a2.55,2.55 0 1,0 -5.1,0M748.9,1102.0a2.55,2.55 0 1,0 5.1,0a2.55,2.55 0 1,0 -5.1,0M754.2,1102.0a2.55,2.55 0 1,0 5.1,0a2.55,2.55 0 1,0 -5.1,0M759.5,1102.0a2.55,2.55 0 1,0 5.1,0a2.55,2.55 0 1,0 -5.1,0M764.8,1102.0a2.55,2.55 0 1,0 5.1,0a2.55,2.55 0 1,0 -5.1,0M770.1,1102.0a2.55,2.55 0 1,0 5.1,0a2.55,2.55 0 1,0 -5.1,0M775.5,1102.0a2.55,2.55 0 1,0 5.1,0a2.55,2.55 0 1,0 -5.1,0M780.8,1102.0a2.55,2.55 0 1,0 5.1,0a2.55,2.55 0 1,0 -5.1,0M786.1,1102.0a2.55,2.55 0 1,0 5.1,0a2.55,2.55 0 1,0 -5.1,0M735.6,1107.7a2.55,2.55 0 1,0 5.1,0a2.55,2.55 0 1,0 -5.1,0M740.9,1107.7a2.55,2.55 0 1,0 5.1,0a2.55,2.55 0 1,0 -5.1,0M746.2,1107.7a2.55,2.55 0 1,0 5.1,0a2.55,2.55 0 1,0 -5.1,0M751.6,1107.7a2.55,2.55 0 1,0 5.1,0a2.55,2.55 0 1,0 -5.1,0M756.9,1107.7a2.55,2.55 0 1,0 5.1,0a2.55,2.55 0 1,0 -5.1,0M762.2,1107.7a2.55,2.55 0 1,0 5.1,0a2.55,2.55 0 1,0 -5.1,0M767.5,1107.7a2.55,2.55 0 1,0 5.1,0a2.55,2.55 0 1,0 -5.1,0M772.8,1107.7a2.55,2.55 0 1,0 5.1,0a2.55,2.55 0 1,0 -5.1,0M778.1,1107.7a2.55,2.55 0 1,0 5.1,0a2.55,2.55 0 1,0 -5.1,0M783.4,1107.7a2.55,2.55 0 1,0 5.1,0a2.55,2.55 0 1,0 -5.1,0M788.7,1107.7a2.55,2.55 0 1,0 5.1,0a2.55,2.55 0 1,0 -5.1,0M733.0,1113.3a2.55,2.55 0 1,0 5.1,0a2.55,2.55 0 1,0 -5.1,0M738.3,1113.3a2.55,2.55 0 1,0 5.1,0a2.55,2.55 0 1,0 -5.1,0M743.6,1113.3a2.55,2.55 0 1,0 5.1,0a2.55,2.55 0 1,0 -5.1,0M748.9,1113.3a2.55,2.55 0 1,0 5.1,0a2.55,2.55 0 1,0 -5.1,0M754.2,1113.3a2.55,2.55 0 1,0 5.1,0a2.55,2.55 0 1,0 -5.1,0M759.5,1113.3a2.55,2.55 0 1,0 5.1,0a2.55,2.55 0 1,0 -5.1,0M764.8,1113.3a2.55,2.55 0 1,0 5.1,0a2.55,2.55 0 1,0 -5.1,0M770.1,1113.3a2.55,2.55 0 1,0 5.1,0a2.55,2.55 0 1,0 -5.1,0M775.5,1113.3a2.55,2.55 0 1,0 5.1,0a2.55,2.55 0 1,0 -5.1,0M780.8,1113.3a2.55,2.55 0 1,0 5.1,0a2.55,2.55 0 1,0 -5.1,0M786.1,1113.3a2.55,2.55 0 1,0 5.1,0a2.55,2.55 0 1,0 -5.1,0M791.4,1113.3a2.55,2.55 0 1,0 5.1,0a2.55,2.55 0 1,0 -5.1,0M687.9,1119.0a2.55,2.55 0 1,0 5.1,0a2.55,2.55 0 1,0 -5.1,0M693.2,1119.0a2.55,2.55 0 1,0 5.1,0a2.55,2.55 0 1,0 -5.1,0M698.5,1119.0a2.55,2.55 0 1,0 5.1,0a2.55,2.55 0 1,0 -5.1,0M703.8,1119.0a2.55,2.55 0 1,0 5.1,0a2.55,2.55 0 1,0 -5.1,0M709.1,1119.0a2.55,2.55 0 1,0 5.1,0a2.55,2.55 0 1,0 -5.1,0M714.4,1119.0a2.55,2.55 0 1,0 5.1,0a2.55,2.55 0 1,0 -5.1,0M719.7,1119.0a2.55,2.55 0 1,0 5.1,0a2.55,2.55 0 1,0 -5.1,0M725.0,1119.0a2.55,2.55 0 1,0 5.1,0a2.55,2.55 0 1,0 -5.1,0M730.3,1119.0a2.55,2.55 0 1,0 5.1,0a2.55,2.55 0 1,0 -5.1,0M735.6,1119.0a2.55,2.55 0 1,0 5.1,0a2.55,2.55 0 1,0 -5.1,0M740.9,1119.0a2.55,2.55 0 1,0 5.1,0a2.55,2.55 0 1,0 -5.1,0M746.2,1119.0a2.55,2.55 0 1,0 5.1,0a2.55,2.55 0 1,0 -5.1,0M751.6,1119.0a2.55,2.55 0 1,0 5.1,0a2.55,2.55 0 1,0 -5.1,0M756.9,1119.0a2.55,2.55 0 1,0 5.1,0a2.55,2.55 0 1,0 -5.1,0M762.2,1119.0a2.55,2.55 0 1,0 5.1,0a2.55,2.55 0 1,0 -5.1,0M767.5,1119.0a2.55,2.55 0 1,0 5.1,0a2.55,2.55 0 1,0 -5.1,0M772.8,1119.0a2.55,2.55 0 1,0 5.1,0a2.55,2.55 0 1,0 -5.1,0M778.1,1119.0a2.55,2.55 0 1,0 5.1,0a2.55,2.55 0 1,0 -5.1,0M783.4,1119.0a2.55,2.55 0 1,0 5.1,0a2.55,2.55 0 1,0 -5.1,0M788.7,1119.0a2.55,2.55 0 1,0 5.1,0a2.55,2.55 0 1,0 -5.1,0M794.0,1119.0a2.55,2.55 0 1,0 5.1,0a2.55,2.55 0 1,0 -5.1,0M799.3,1119.0a2.55,2.55 0 1,0 5.1,0a2.55,2.55 0 1,0 -5.1,0M804.7,1119.0a2.55,2.55 0 1,0 5.1,0a2.55,2.55 0 1,0 -5.1,0M810.0,1119.0a2.55,2.55 0 1,0 5.1,0a2.55,2.55 0 1,0 -5.1,0M815.3,1119.0a2.55,2.55 0 1,0 5.1,0a2.55,2.55 0 1,0 -5.1,0M820.6,1119.0a2.55,2.55 0 1,0 5.1,0a2.55,2.55 0 1,0 -5.1,0M825.9,1119.0a2.55,2.55 0 1,0 5.1,0a2.55,2.55 0 1,0 -5.1,0M831.2,1119.0a2.55,2.55 0 1,0 5.1,0a2.55,2.55 0 1,0 -5.1,0" fill="#f29232"/><polygon points="728.3,1123.5 738.5,1102.0 790.6,1102.0 799.5,1123.5" fill="#f29232" opacity="0.55"/><rect x="690" y="1118.2" width="146.6" height="5.6" fill="#f29232" opacity="0.55"/><rect x="742" y="1106" width="41" height="14" fill="#f6c890" opacity="0.55" filter="url(#b1)"/><rect x="739" y="1147" width="47" height="16" fill="#e8f0f8" opacity="0.7" filter="url(#b2)"/></g>
<text transform="translate(762.40,1118.50) scale(1.1349,1)" x="-15.51" y="0" font-size="15.5" fill="#4a4a4a" stroke="#4a4a4a" stroke-width="0.20" xml:space="preserve">InAs</text>
<text transform="translate(762.30,1160.50) scale(1.0963,1)" x="-19.38" y="0" font-size="15.5" fill="#4a4a4a" stroke="#4a4a4a" stroke-width="0.20" xml:space="preserve">GaAs</text>
<text transform="translate(162.65,1042.40) scale(1.0841,1)" x="-59.45" y="0" font-size="20.5" fill="#333132" stroke="#333132" stroke-width="0.27" xml:space="preserve">Trapped ions</text>
<text transform="translate(368.30,1042.40) scale(1.1159,1)" x="-55.83" y="0" font-size="20.5" fill="#333132" stroke="#333132" stroke-width="0.27" xml:space="preserve">Cold lattices</text>
<text transform="translate(567.00,1042.40) scale(1.0734,1)" x="-68.94" y="0" font-size="20.5" fill="#333132" stroke="#333132" stroke-width="0.27" xml:space="preserve">Rydberg states</text>
<text transform="translate(768.00,1042.40) scale(1.0715,1)" x="-66.26" y="0" font-size="20.5" fill="#333132" stroke="#333132" stroke-width="0.27" xml:space="preserve">Warm vapours</text>
<text transform="translate(162.00,1215.70) scale(1.1027,1)" x="-66.66" y="0" font-size="20.5" fill="#333132" stroke="#333132" stroke-width="0.27" xml:space="preserve">Colour centres</text>
<text transform="translate(367.90,1215.70) scale(1.0672,1)" x="-57.53" y="0" font-size="20.5" fill="#333132" stroke="#333132" stroke-width="0.27" xml:space="preserve">2D materials</text>
<text transform="translate(566.80,1215.70) scale(1.0304,1)" x="-51.83" y="0" font-size="20.5" fill="#333132" stroke="#333132" stroke-width="0.27" xml:space="preserve">RE crystals</text>
<text transform="translate(768.10,1215.70) scale(1.0501,1)" x="-62.09" y="0" font-size="20.5" fill="#333132" stroke="#333132" stroke-width="0.27" xml:space="preserve">Epitaxial QDs</text>
<text transform="translate(1357.10,851.00) scale(1.0757,1)" x="-151.34" y="0" font-size="22.6" fill="#333132" stroke="#333132" stroke-width="0.29" xml:space="preserve">Multiwavelength laser engines</text>
<rect x="900" y="870" width="317.3" height="317.3" fill="#fff" stroke="#5a5a5a" stroke-width="1.8"/>
<rect x="1231.7" y="870" width="251.6" height="317.3" fill="#fff" stroke="#5a5a5a" stroke-width="1.8"/>
<rect x="1497.3" y="870" width="211.0" height="317.3" fill="#fff" stroke="#5a5a5a" stroke-width="1.8"/>
<circle cx="932.3" cy="906" r="25.6" fill="#fbe9dd" stroke="#3a3a3a" stroke-width="1.7"/>
<text transform="translate(917.50,901.50) scale(1.1508,1)" x="0.00" y="0" font-size="8.6" fill="#333132" stroke="#333132" stroke-width="0.11" xml:space="preserve">88</text>
<text transform="translate(929.30,914.30) scale(0.9778,1)" x="0.00" y="0" font-size="18" fill="#333132" stroke="#333132" stroke-width="0.23" xml:space="preserve">Sr</text>
<rect x="940.0" y="942.60" width="56.0" height="2.8" fill="#111"/>
<rect x="940.0" y="1051.90" width="56.0" height="2.8" fill="#111"/>
<rect x="940.0" y="1144.60" width="56.0" height="2.8" fill="#111"/>
<rect x="1039.0" y="911.90" width="55.0" height="2.8" fill="#111"/>
<rect x="1039.0" y="926.90" width="55.0" height="2.8" fill="#111"/>
<rect x="1039.0" y="1144.30" width="55.0" height="2.8" fill="#111"/>
<rect x="1130.7" y="1008.60" width="41.0" height="1.4" fill="#222"/>
<rect x="1130.7" y="1027.60" width="41.0" height="1.4" fill="#222"/>
<path d="M967.7,950.8 L967.7,1045.9" stroke="#c6518f" stroke-width="1.3" fill="none"/><polygon points="967.7,1050.7 965.4,1044.7 970.0,1044.7" fill="#c6518f"/><polygon points="967.7,946.0 965.4,952.0 970.0,952.0" fill="#c6518f"/>
<path d="M967.7,1060.8 L967.7,1138.2" stroke="#2f6db3" stroke-width="1.4" fill="none"/><polygon points="967.7,1143.0 965.4,1137.0 970.0,1137.0" fill="#2f6db3"/><polygon points="967.7,1056.0 965.4,1062.0 970.0,1062.0" fill="#2f6db3"/>
<path d="M1050.7,935.8 L1050.7,1138.2" stroke="#5e2750" stroke-width="1.3" fill="none"/><polygon points="1050.7,1143.0 1048.4,1137.0 1053.0,1137.0" fill="#5e2750"/><polygon points="1050.7,931.0 1048.4,937.0 1053.0,937.0" fill="#5e2750"/>
<path d="M1060.7,920.8 L1060.7,1138.2" stroke="#c6518f" stroke-width="1.3" fill="none"/><polygon points="1060.7,1143.0 1058.4,1137.0 1063.0,1137.0" fill="#c6518f"/><polygon points="1060.7,916.0 1058.4,922.0 1063.0,922.0" fill="#c6518f"/>
<path d="M1089.7,920.9 L1148.7,1004.1" stroke="#111" stroke-width="1.4" fill="none"/><polygon points="1151.7,1008.3 1145.9,1004.4 1150.0,1001.6" fill="#111"/><polygon points="1086.7,916.7 1088.4,923.4 1092.5,920.6" fill="#111"/>
<path d="M1081.4,937.5 L1143.6,1021.8" stroke="#111" stroke-width="1.4" fill="none"/><polygon points="1146.7,1026.0 1140.8,1022.3 1144.9,1019.3" fill="#111"/><polygon points="1078.3,933.3 1080.1,940.0 1084.2,937.0" fill="#111"/>
<path d="M1150.6,1015.3 L1088.8,1139.0" stroke="#d9793b" stroke-width="1.3" fill="none"/><polygon points="1086.7,1143.3 1087.3,1136.9 1091.4,1139.0" fill="#d9793b"/><polygon points="1152.7,1011.0 1148.0,1015.3 1152.1,1017.4" fill="#d9793b"/>
<text transform="translate(958.30,937.30) scale(1.0177,1)" x="0.00" y="0" font-size="18" fill="#333132" stroke="#333132" stroke-width="0.23" xml:space="preserve">5<tspan font-style="italic">p</tspan><tspan font-size="11.16" dy="-6.48">2 1</tspan><tspan dy="6.48">D</tspan><tspan font-size="11.16" dy="3.96">2</tspan></text>
<text transform="translate(971.70,998.30) scale(1.0146,1)" x="0.00" y="0" font-size="19" fill="#c6518f" stroke="#c6518f" stroke-width="0.25" xml:space="preserve">405 nm</text>
<text transform="translate(973.30,1047.30) scale(0.9745,1)" x="0.00" y="0" font-size="18" fill="#333132" stroke="#333132" stroke-width="0.23" xml:space="preserve">5<tspan font-style="italic">s</tspan>5<tspan font-style="italic">p</tspan> <tspan font-size="11.16" dy="-6.48">1</tspan><tspan dy="6.48">P</tspan><tspan font-size="11.16" dy="3.96">1</tspan></text>
<text transform="translate(972.70,1085.70) scale(0.9831,1)" x="0.00" y="0" font-size="19" fill="#6b2c5c" stroke="#6b2c5c" stroke-width="0.25" xml:space="preserve">422 nm</text>
<text transform="translate(973.30,1110.70) scale(0.9578,1)" x="0.00" y="0" font-size="19" fill="#2f6db3" stroke="#2f6db3" stroke-width="0.25" xml:space="preserve">461 nm</text>
<text transform="translate(945.00,1173.30) scale(0.9918,1)" x="0.00" y="0" font-size="18" fill="#333132" stroke="#333132" stroke-width="0.23" xml:space="preserve">5<tspan font-style="italic">s</tspan><tspan font-size="11.16" dy="-6.48">2 1</tspan><tspan dy="6.48">S</tspan><tspan font-size="11.16" dy="3.96">0</tspan></text>
<text transform="translate(1040.70,1173.30) scale(0.9833,1)" x="0.00" y="0" font-size="18" fill="#333132" stroke="#333132" stroke-width="0.23" xml:space="preserve">5<tspan font-style="italic">s</tspan><tspan font-size="11.16" dy="-6.48">2 1</tspan><tspan dy="6.48">S</tspan><tspan font-size="11.16" dy="3.96">1/2</tspan></text>
<text transform="translate(1106.70,896.00) scale(1.0791,1)" x="0.00" y="0" font-size="18" fill="#333132" stroke="#333132" stroke-width="0.23" xml:space="preserve">5<tspan font-style="italic">p</tspan><tspan font-size="11.16" dy="-6.48">2</tspan></text>
<text transform="translate(1137.30,915.00) scale(1.0676,1)" x="0.00" y="0" font-size="18" fill="#333132" stroke="#333132" stroke-width="0.23" xml:space="preserve"><tspan font-size="11.16" dy="-6.48">2</tspan><tspan dy="6.48">P</tspan><tspan font-size="11.16" dy="3.96">3/2</tspan></text>
<text transform="translate(1137.30,937.30) scale(0.9698,1)" x="0.00" y="0" font-size="18" fill="#333132" stroke="#333132" stroke-width="0.23" xml:space="preserve"><tspan font-size="11.16" dy="-6.48">2</tspan><tspan dy="6.48">P</tspan><tspan font-size="11.16" dy="3.96">1/2</tspan></text>
<text transform="translate(1166.70,991.70) scale(1.0791,1)" x="0.00" y="0" font-size="18" fill="#333132" stroke="#333132" stroke-width="0.23" xml:space="preserve">4<tspan font-style="italic">d</tspan><tspan font-size="11.16" dy="-6.48">2</tspan></text>
<text transform="translate(1172.70,1016.70) scale(0.9305,1)" x="0.00" y="0" font-size="18" fill="#333132" stroke="#333132" stroke-width="0.23" xml:space="preserve"><tspan font-size="11.16" dy="-6.48">1</tspan><tspan dy="6.48">D</tspan><tspan font-size="11.16" dy="3.96">5/2</tspan></text>
<text transform="translate(1172.70,1035.00) scale(0.9502,1)" x="0.00" y="0" font-size="18" fill="#333132" stroke="#333132" stroke-width="0.23" xml:space="preserve">1D<tspan font-size="11.16" dy="3.96">3/2</tspan></text>
<text transform="translate(1066.70,1044.00) scale(1.0099,1)" x="0.00" y="0" font-size="19" fill="#c6518f" stroke="#c6518f" stroke-width="0.25" xml:space="preserve">408 nm</text>
<text transform="translate(1135.00,1086.70) scale(0.9625,1)" x="0.00" y="0" font-size="19" fill="#d9793b" stroke="#d9793b" stroke-width="0.25" xml:space="preserve">674 nm</text>
<text transform="translate(1130.50,963.00) rotate(54.6) scale(1.0393,1)" x="-37.52" y="0" font-size="18" fill="#333132" stroke="#333132" stroke-width="0.23" xml:space="preserve">1,033 nm</text>
<text transform="translate(1099.50,987.50) rotate(54.6) scale(1.0393,1)" x="-37.52" y="0" font-size="18" fill="#333132" stroke="#333132" stroke-width="0.23" xml:space="preserve">1,092 nm</text>
<circle cx="1185.7" cy="1154.3" r="26" fill="#fbe9dd" stroke="#3a3a3a" stroke-width="1.7"/>
<text transform="translate(1168.60,1150.00) scale(1.1508,1)" x="0.00" y="0" font-size="8.6" fill="#333132" stroke="#333132" stroke-width="0.11" xml:space="preserve">88</text>
<text transform="translate(1180.20,1163.00) scale(0.9994,1)" x="0.00" y="0" font-size="18" fill="#333132" stroke="#333132" stroke-width="0.23" xml:space="preserve">Sr<tspan font-size="11.16" dy="-6.48">+</tspan></text>
<text transform="translate(1058.00,1215.60) scale(1.1377,1)" x="-83.77" y="0" font-size="20.5" fill="#333132" stroke="#333132" stroke-width="0.27" xml:space="preserve">Ion loading/control</text>
<rect x="1359.3" y="910.90" width="56.7" height="2.8" fill="#111"/>
<rect x="1246.7" y="954.60" width="56.0" height="2.8" fill="#111"/>
<rect x="1359.3" y="1025.30" width="56.7" height="2.8" fill="#111"/>
<rect x="1359.3" y="1050.30" width="56.7" height="2.8" fill="#111"/>
<rect x="1359.3" y="1064.60" width="56.7" height="2.8" fill="#111"/>
<rect x="1246.7" y="1141.90" width="56.0" height="2.8" fill="#111"/>
<path d="M1268.3,966.5 L1268.3,1132.1" stroke="#1f5fa8" stroke-width="2.4" fill="none"/><polygon points="1268.3,1139.3 1264.5,1130.3 1272.0,1130.3" fill="#1f5fa8"/><polygon points="1268.3,959.3 1264.5,968.3 1272.0,968.3" fill="#1f5fa8"/>
<path d="M1379.0,922.8 L1379.0,1056.5" stroke="#c8693a" stroke-width="2.0" fill="none"/><polygon points="1379.0,1063.3 1375.5,1054.8 1382.5,1054.8" fill="#c8693a"/><polygon points="1379.0,916.0 1375.5,924.5 1382.5,924.5" fill="#c8693a"/>
<path d="M1397.3,922.8 L1397.3,1017.2" stroke="#8b3b22" stroke-width="2.0" fill="none"/><polygon points="1397.3,1024.0 1393.8,1015.5 1400.8,1015.5" fill="#8b3b22"/><polygon points="1397.3,916.0 1393.8,924.5 1400.8,924.5" fill="#8b3b22"/>
<path d="M1283.3,1135.3 L1364.3,1059.0" stroke="#c8693a" stroke-width="2.0" fill="none"/><polygon points="1369.3,1054.3 1365.5,1062.7 1360.7,1057.6" fill="#c8693a"/><polygon points="1278.3,1140.0 1286.9,1136.7 1282.1,1131.6" fill="#c8693a"/>
<path d="M1302.8,1129.3 L1382.8,1072.3" stroke="#9a4a2a" stroke-width="2.0" fill="none"/><polygon points="1388.3,1068.3 1383.4,1076.1 1379.3,1070.4" fill="#9a4a2a"/><polygon points="1297.3,1133.3 1306.3,1131.2 1302.2,1125.5" fill="#9a4a2a"/>
<text transform="translate(1366.70,899.00) scale(0.9490,1)" x="0.00" y="0" font-size="18" fill="#333132" stroke="#333132" stroke-width="0.23" xml:space="preserve">5<tspan font-style="italic">s</tspan>6<tspan font-style="italic">s</tspan> <tspan font-size="11.16" dy="-6.48">3</tspan><tspan dy="6.48">S</tspan><tspan font-size="11.16" dy="3.96">1</tspan></text>
<text transform="translate(1246.70,945.00) scale(0.9496,1)" x="0.00" y="0" font-size="18" fill="#333132" stroke="#333132" stroke-width="0.23" xml:space="preserve">5<tspan font-style="italic">s</tspan>5<tspan font-style="italic">p</tspan> <tspan font-size="11.16" dy="-6.48">1</tspan><tspan dy="6.48">P</tspan><tspan font-size="11.16" dy="3.96">1</tspan></text>
<text transform="translate(1311.70,979.30) scale(0.9831,1)" x="0.00" y="0" font-size="19" fill="#c97c4e" stroke="#c97c4e" stroke-width="0.25" xml:space="preserve">679 nm</text>
<text transform="translate(1408.30,979.30) scale(0.9736,1)" x="0.00" y="0" font-size="19" fill="#9c5a3c" stroke="#9c5a3c" stroke-width="0.25" xml:space="preserve">707 nm</text>
<text transform="translate(1273.30,1016.00) scale(0.9373,1)" x="0.00" y="0" font-size="19" fill="#1f5fa8" stroke="#1f5fa8" stroke-width="0.25" xml:space="preserve">461 nm</text>
<text transform="translate(1273.30,1076.00) scale(1.0004,1)" x="0.00" y="0" font-size="19" fill="#c97c4e" stroke="#c97c4e" stroke-width="0.25" xml:space="preserve">689 nm</text>
<text transform="translate(1340.70,1128.30) scale(0.9988,1)" x="0.00" y="0" font-size="19" fill="#b06c44" stroke="#b06c44" stroke-width="0.25" xml:space="preserve">698 nm</text>
<text transform="translate(1420.00,1025.00) scale(0.9830,1)" x="0.00" y="0" font-size="18" fill="#333132" stroke="#333132" stroke-width="0.23" xml:space="preserve"><tspan font-size="11.16" dy="-6.48">3</tspan><tspan dy="6.48">P</tspan><tspan font-size="11.16" dy="3.96">2</tspan></text>
<text transform="translate(1420.00,1048.30) scale(0.9830,1)" x="0.00" y="0" font-size="18" fill="#333132" stroke="#333132" stroke-width="0.23" xml:space="preserve"><tspan font-size="11.16" dy="-6.48">3</tspan><tspan dy="6.48">P</tspan><tspan font-size="11.16" dy="3.96">1</tspan></text>
<text transform="translate(1420.00,1074.00) scale(1.0649,1)" x="0.00" y="0" font-size="18" fill="#333132" stroke="#333132" stroke-width="0.23" xml:space="preserve"><tspan font-size="11.16" dy="-6.48">3</tspan><tspan dy="6.48">P</tspan><tspan font-size="11.16" dy="3.96">0</tspan></text>
<text transform="translate(1417.30,1101.00) scale(1.0248,1)" x="0.00" y="0" font-size="18" fill="#333132" stroke="#333132" stroke-width="0.23" xml:space="preserve">5<tspan font-style="italic">s</tspan>5<tspan font-style="italic">p</tspan></text>
<text transform="translate(1250.00,1172.70) scale(1.0108,1)" x="0.00" y="0" font-size="18" fill="#333132" stroke="#333132" stroke-width="0.23" xml:space="preserve">5<tspan font-style="italic">s</tspan><tspan font-size="11.16" dy="-6.48">2 1</tspan><tspan dy="6.48">S</tspan><tspan font-size="11.16" dy="3.96">0</tspan></text>
<circle cx="1450.7" cy="1151.7" r="25.6" fill="#fbe9dd" stroke="#3a3a3a" stroke-width="1.7"/>
<text transform="translate(1434.50,1147.00) scale(1.1508,1)" x="0.00" y="0" font-size="8.6" fill="#333132" stroke="#333132" stroke-width="0.11" xml:space="preserve">87</text>
<text transform="translate(1446.00,1160.50) scale(0.9778,1)" x="0.00" y="0" font-size="18" fill="#333132" stroke="#333132" stroke-width="0.23" xml:space="preserve">Sr</text>
<text transform="translate(1356.30,1215.60) scale(1.1147,1)" x="-66.07" y="0" font-size="20.5" fill="#333132" stroke="#333132" stroke-width="0.27" xml:space="preserve">Sr lattice clock</text>
<rect x="1551.7" y="916.90" width="55.6" height="2.8" fill="#111"/>
<rect x="1626.7" y="996.90" width="56.0" height="2.8" fill="#111"/>
<rect x="1551.7" y="1067.60" width="55.6" height="2.8" fill="#111"/>
<rect x="1551.7" y="1144.60" width="55.6" height="2.8" fill="#111"/>
<path d="M1580.0,1068.3 L1580.0,930.5" stroke="#2b86c8" stroke-width="2.6" fill="none"/><polygon points="1580.0,922.5 1584.0,932.5 1576.0,932.5" fill="#2b86c8"/>
<path d="M1580.0,1145.0 L1580.0,1080.5" stroke="#4a2b25" stroke-width="2.4" fill="none"/><polygon points="1580.0,1072.5 1584.0,1082.5 1576.0,1082.5" fill="#4a2b25"/>
<path d="M1585.0,924.0 L1648.9,989.7" stroke="#111" stroke-width="3.0" fill="none"/><polygon points="1655.0,996.0 1644.3,991.1 1650.4,985.2" fill="#111"/>
<text transform="translate(1548.30,907.30) scale(1.0249,1)" x="0.00" y="0" font-size="18" fill="#333132" stroke="#333132" stroke-width="0.23" xml:space="preserve">100D<tspan font-size="11.16" dy="3.96">5/2</tspan></text>
<text transform="translate(1616.70,949.30) scale(0.9756,1)" x="0.00" y="0" font-size="19" fill="#333132" stroke="#333132" stroke-width="0.25" xml:space="preserve">2.03 GHz</text>
<text transform="translate(1510.00,998.30) scale(0.9736,1)" x="0.00" y="0" font-size="19" fill="#2b86c8" stroke="#2b86c8" stroke-width="0.25" xml:space="preserve">479 nm</text>
<text transform="translate(1626.70,1019.30) scale(0.9557,1)" x="0.00" y="0" font-size="18" fill="#333132" stroke="#333132" stroke-width="0.23" xml:space="preserve">101P<tspan font-size="11.16" dy="3.96">3/2</tspan></text>
<text transform="translate(1610.00,1072.70) scale(1.0659,1)" x="0.00" y="0" font-size="18" fill="#333132" stroke="#333132" stroke-width="0.23" xml:space="preserve">5P<tspan font-size="11.16" dy="3.96">3/2</tspan></text>
<text transform="translate(1510.70,1115.00) scale(0.9783,1)" x="0.00" y="0" font-size="19" fill="#5a4242" stroke="#5a4242" stroke-width="0.25" xml:space="preserve">780 nm</text>
<text transform="translate(1569.30,1168.30) scale(1.0393,1)" x="0.00" y="0" font-size="18" fill="#333132" stroke="#333132" stroke-width="0.23" xml:space="preserve">5S<tspan font-size="11.16" dy="3.96">1/2</tspan></text>
<circle cx="1676.7" cy="1156.7" r="25" fill="#fff" stroke="#3a3a3a" stroke-width="1.7"/>
<text transform="translate(1657.50,1151.00) scale(1.1508,1)" x="0.00" y="0" font-size="8.6" fill="#333132" stroke="#333132" stroke-width="0.11" xml:space="preserve">87</text>
<text transform="translate(1669.00,1164.00) scale(0.9822,1)" x="0.00" y="0" font-size="18" fill="#333132" stroke="#333132" stroke-width="0.23" xml:space="preserve">Rb</text>
<text transform="translate(1602.00,1215.60) scale(1.0676,1)" x="-104.26" y="0" font-size="20.5" fill="#333132" stroke="#333132" stroke-width="0.27" xml:space="preserve">Rydberg E-field sensor</text>
</svg>
</body></html>
